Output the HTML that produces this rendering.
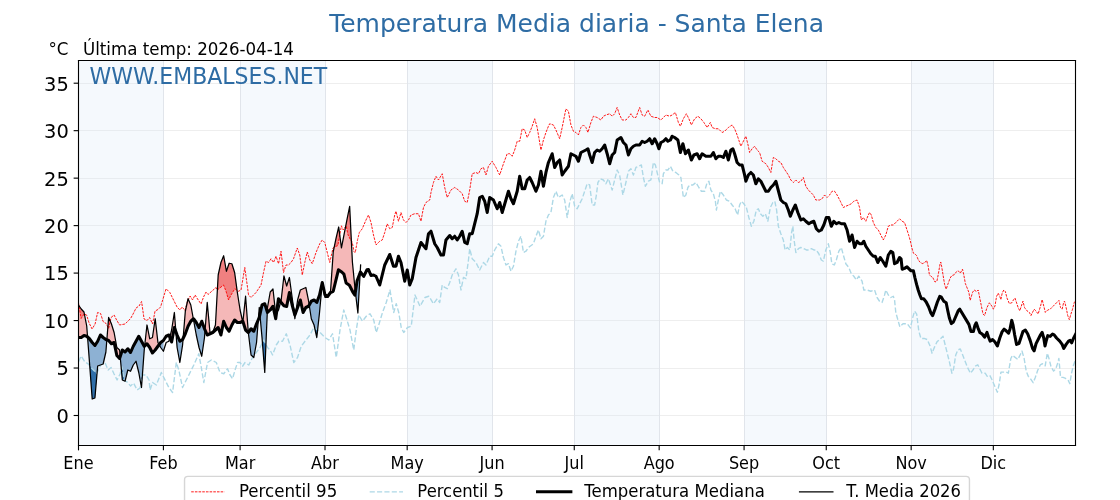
<!DOCTYPE html>
<html><head><meta charset="utf-8"><title>Temperatura Media diaria - Santa Elena</title>
<style>html,body{margin:0;padding:0;background:#fff;width:1120px;height:500px;overflow:hidden}svg{display:block}
text{font-family:"DejaVu Sans","Liberation Sans",sans-serif}</style></head>
<body>
<svg width="1120" height="500" viewBox="0 0 806.4 360" version="1.1">
 
 <defs>
  <style type="text/css">*{stroke-linejoin: round; stroke-linecap: butt}</style>
 </defs>
 <g id="figure_1">
  <g id="patch_1">
   <path d="M 0 360 
L 806.4 360 
L 806.4 0 
L 0 0 
z
" style="fill: #ffffff"/>
  </g>
  <g id="axes_1">
   <g id="patch_2">
    <path d="M 56.52 320.76 
L 774.36 320.76 
L 774.36 43.56 
L 56.52 43.56 
z
" style="fill: #ffffff"/>
   </g>
   <g id="line2d_1">
    <path d="M 56.52 299.16 
L 774.36 299.16 
" clip-path="url(#p9fedf73bd1)" style="fill: none; stroke: #eeeeee; stroke-width: 0.72; stroke-linecap: square"/>
   </g>
   <g id="line2d_2">
    <path d="M 56.52 265.32 
L 774.36 265.32 
" clip-path="url(#p9fedf73bd1)" style="fill: none; stroke: #eeeeee; stroke-width: 0.72; stroke-linecap: square"/>
   </g>
   <g id="line2d_3">
    <path d="M 56.52 230.76 
L 774.36 230.76 
" clip-path="url(#p9fedf73bd1)" style="fill: none; stroke: #eeeeee; stroke-width: 0.72; stroke-linecap: square"/>
   </g>
   <g id="line2d_4">
    <path d="M 56.52 196.92 
L 774.36 196.92 
" clip-path="url(#p9fedf73bd1)" style="fill: none; stroke: #eeeeee; stroke-width: 0.72; stroke-linecap: square"/>
   </g>
   <g id="line2d_5">
    <path d="M 56.52 162.36 
L 774.36 162.36 
" clip-path="url(#p9fedf73bd1)" style="fill: none; stroke: #eeeeee; stroke-width: 0.72; stroke-linecap: square"/>
   </g>
   <g id="line2d_6">
    <path d="M 56.52 128.52 
L 774.36 128.52 
" clip-path="url(#p9fedf73bd1)" style="fill: none; stroke: #eeeeee; stroke-width: 0.72; stroke-linecap: square"/>
   </g>
   <g id="line2d_7">
    <path d="M 56.52 93.96 
L 774.36 93.96 
" clip-path="url(#p9fedf73bd1)" style="fill: none; stroke: #eeeeee; stroke-width: 0.72; stroke-linecap: square"/>
   </g>
   <g id="line2d_8">
    <path d="M 56.52 60.12 
L 774.36 60.12 
" clip-path="url(#p9fedf73bd1)" style="fill: none; stroke: #eeeeee; stroke-width: 0.72; stroke-linecap: square"/>
   </g>
   <g id="patch_3">
    <path d="M 56.52 320.76 
L 117.654725 320.76 
L 117.654725 43.56 
L 56.52 43.56 
z
" clip-path="url(#p9fedf73bd1)" style="fill: #d4e6f7; opacity: 0.235"/>
   </g>
   <g id="patch_4">
    <path d="M 172.873187 320.76 
L 234.007912 320.76 
L 234.007912 43.56 
L 172.873187 43.56 
z
" clip-path="url(#p9fedf73bd1)" style="fill: #d4e6f7; opacity: 0.235"/>
   </g>
   <g id="patch_5">
    <path d="M 293.170549 320.76 
L 354.305275 320.76 
L 354.305275 43.56 
L 293.170549 43.56 
z
" clip-path="url(#p9fedf73bd1)" style="fill: #d4e6f7; opacity: 0.235"/>
   </g>
   <g id="patch_6">
    <path d="M 413.467912 320.76 
L 474.602637 320.76 
L 474.602637 43.56 
L 413.467912 43.56 
z
" clip-path="url(#p9fedf73bd1)" style="fill: #d4e6f7; opacity: 0.235"/>
   </g>
   <g id="patch_7">
    <path d="M 535.737363 320.76 
L 594.9 320.76 
L 594.9 43.56 
L 535.737363 43.56 
z
" clip-path="url(#p9fedf73bd1)" style="fill: #d4e6f7; opacity: 0.235"/>
   </g>
   <g id="patch_8">
    <path d="M 656.034725 320.76 
L 715.197363 320.76 
L 715.197363 43.56 
L 656.034725 43.56 
z
" clip-path="url(#p9fedf73bd1)" style="fill: #d4e6f7; opacity: 0.235"/>
   </g>
   <g id="line2d_9">
    <path d="M 117.72 320.76 
L 117.72 43.56 
" clip-path="url(#p9fedf73bd1)" style="fill: none; stroke: #e1e5eb; stroke-width: 0.72; stroke-linecap: square"/>
   </g>
   <g id="line2d_10">
    <path d="M 173.16 320.76 
L 173.16 43.56 
" clip-path="url(#p9fedf73bd1)" style="fill: none; stroke: #e1e5eb; stroke-width: 0.72; stroke-linecap: square"/>
   </g>
   <g id="line2d_11">
    <path d="M 234.36 320.76 
L 234.36 43.56 
" clip-path="url(#p9fedf73bd1)" style="fill: none; stroke: #e1e5eb; stroke-width: 0.72; stroke-linecap: square"/>
   </g>
   <g id="line2d_12">
    <path d="M 293.4 320.76 
L 293.4 43.56 
" clip-path="url(#p9fedf73bd1)" style="fill: none; stroke: #e1e5eb; stroke-width: 0.72; stroke-linecap: square"/>
   </g>
   <g id="line2d_13">
    <path d="M 354.6 320.76 
L 354.6 43.56 
" clip-path="url(#p9fedf73bd1)" style="fill: none; stroke: #e1e5eb; stroke-width: 0.72; stroke-linecap: square"/>
   </g>
   <g id="line2d_14">
    <path d="M 413.64 320.76 
L 413.64 43.56 
" clip-path="url(#p9fedf73bd1)" style="fill: none; stroke: #e1e5eb; stroke-width: 0.72; stroke-linecap: square"/>
   </g>
   <g id="line2d_15">
    <path d="M 474.84 320.76 
L 474.84 43.56 
" clip-path="url(#p9fedf73bd1)" style="fill: none; stroke: #e1e5eb; stroke-width: 0.72; stroke-linecap: square"/>
   </g>
   <g id="line2d_16">
    <path d="M 536.04 320.76 
L 536.04 43.56 
" clip-path="url(#p9fedf73bd1)" style="fill: none; stroke: #e1e5eb; stroke-width: 0.72; stroke-linecap: square"/>
   </g>
   <g id="line2d_17">
    <path d="M 595.08 320.76 
L 595.08 43.56 
" clip-path="url(#p9fedf73bd1)" style="fill: none; stroke: #e1e5eb; stroke-width: 0.72; stroke-linecap: square"/>
   </g>
   <g id="line2d_18">
    <path d="M 656.28 320.76 
L 656.28 43.56 
" clip-path="url(#p9fedf73bd1)" style="fill: none; stroke: #e1e5eb; stroke-width: 0.72; stroke-linecap: square"/>
   </g>
   <g id="line2d_19">
    <path d="M 715.32 320.76 
L 715.32 43.56 
" clip-path="url(#p9fedf73bd1)" style="fill: none; stroke: #e1e5eb; stroke-width: 0.72; stroke-linecap: square"/>
   </g>
   <g id="FillBetweenPolyCollection_1">
    <path d="M 56.52 242.99798 
L 56.52 242.99798 
L 56.618604 242.99798 
L 56.717209 242.99798 
L 56.815813 242.99798 
L 56.914418 242.99798 
L 57.013022 242.99798 
L 57.111626 242.99798 
L 57.210231 242.99798 
L 57.308835 242.99798 
L 57.40744 242.99798 
L 57.506044 242.99798 
L 57.604648 242.99798 
L 57.703253 242.99798 
L 57.801857 242.99798 
L 57.900462 242.99798 
L 57.999066 242.99798 
L 58.09767 242.99798 
L 58.196275 242.99798 
L 58.294879 242.99798 
L 58.393484 242.99798 
L 58.492088 242.99798 
L 58.492088 242.99798 
L 58.590692 242.925978 
L 58.689297 242.853976 
L 58.787901 242.781975 
L 58.886505 242.709973 
L 58.98511 242.637971 
L 59.083714 242.565969 
L 59.182319 242.493967 
L 59.280923 242.421965 
L 59.379527 242.349963 
L 59.478132 242.277962 
L 59.576736 242.20596 
L 59.675341 242.133958 
L 59.773945 242.061956 
L 59.872549 241.989954 
L 59.971154 241.917952 
L 60.069758 241.84595 
L 60.168363 241.773948 
L 60.266967 241.701947 
L 60.365571 241.629945 
L 60.464176 241.557943 
L 60.464176 241.557943 
L 60.56278 241.584944 
L 60.661385 241.611944 
L 60.759989 241.638945 
L 60.858593 241.665946 
L 60.957198 241.692946 
L 61.055802 241.719947 
L 61.154407 241.746948 
L 61.253011 241.773948 
L 61.351615 241.800949 
L 61.45022 241.82795 
L 61.548824 241.854951 
L 61.647429 241.881951 
L 61.746033 241.908952 
L 61.844637 241.935953 
L 61.943242 241.962953 
L 62.041846 241.989954 
L 62.140451 242.016955 
L 62.239055 242.043955 
L 62.337659 242.070956 
L 62.436264 242.097957 
L 62.436264 242.097957 
L 62.534868 242.187959 
L 62.633473 242.277962 
L 62.732077 242.367964 
L 62.830681 242.457966 
L 62.929286 242.547969 
L 63.02789 242.637971 
L 63.039664 242.648717 
L 63.02789 242.493967 
L 62.929286 241.197933 
L 62.830681 239.9019 
L 62.732077 238.605866 
L 62.633473 237.309832 
L 62.534868 236.013799 
L 62.436264 234.717765 
L 62.436264 234.717765 
L 62.337659 234.213752 
L 62.239055 233.709739 
L 62.140451 233.205726 
L 62.041846 232.701713 
L 61.943242 232.1977 
L 61.844637 231.693687 
L 61.746033 231.189673 
L 61.647429 230.68566 
L 61.548824 230.181647 
L 61.45022 229.677634 
L 61.351615 229.173621 
L 61.253011 228.669608 
L 61.154407 228.165595 
L 61.055802 227.661582 
L 60.957198 227.157569 
L 60.858593 226.653556 
L 60.759989 226.149543 
L 60.661385 225.645529 
L 60.56278 225.141516 
L 60.464176 224.637503 
L 60.464176 224.637503 
L 60.365571 224.529501 
L 60.266967 224.421498 
L 60.168363 224.313495 
L 60.069758 224.205492 
L 59.971154 224.097489 
L 59.872549 223.989486 
L 59.773945 223.881484 
L 59.675341 223.773481 
L 59.576736 223.665478 
L 59.478132 223.557475 
L 59.379527 223.449472 
L 59.280923 223.34147 
L 59.182319 223.233467 
L 59.083714 223.125464 
L 58.98511 223.017461 
L 58.886505 222.909458 
L 58.787901 222.801456 
L 58.689297 222.693453 
L 58.590692 222.58545 
L 58.492088 222.477447 
L 58.492088 222.477447 
L 58.393484 222.333443 
L 58.294879 222.18944 
L 58.196275 222.045436 
L 58.09767 221.901432 
L 57.999066 221.757429 
L 57.900462 221.613425 
L 57.801857 221.469421 
L 57.703253 221.325417 
L 57.604648 221.181414 
L 57.506044 221.03741 
L 57.40744 220.893406 
L 57.308835 220.749402 
L 57.210231 220.605399 
L 57.111626 220.461395 
L 57.013022 220.317391 
L 56.914418 220.173387 
L 56.815813 220.029384 
L 56.717209 219.88538 
L 56.618604 219.741376 
L 56.52 219.597372 
z
" clip-path="url(#p9fedf73bd1)" style="fill: #f5b8b8"/>
    <path d="M 76.935276 244.691545 
L 77.029714 244.726025 
L 77.128319 244.762026 
L 77.226923 244.798027 
L 77.325527 244.834028 
L 77.424132 244.870029 
L 77.522736 244.90603 
L 77.621341 244.942031 
L 77.719945 244.978032 
L 77.818549 245.014033 
L 77.917154 245.050034 
L 78.015758 245.086034 
L 78.114363 245.122035 
L 78.212967 245.158036 
L 78.311571 245.275039 
L 78.410176 245.392042 
L 78.50878 245.509045 
L 78.607385 245.626048 
L 78.705989 245.743052 
L 78.804593 245.860055 
L 78.903198 245.977058 
L 79.001802 246.094061 
L 79.100407 246.211064 
L 79.199011 246.328067 
L 79.297615 246.44507 
L 79.39622 246.562073 
L 79.494824 246.679076 
L 79.593429 246.796079 
L 79.692033 246.913082 
L 79.790637 247.030085 
L 79.889242 247.147088 
L 79.987846 247.264091 
L 80.086451 247.381094 
L 80.185055 247.498097 
L 80.185055 247.498097 
L 80.283659 247.453096 
L 80.382264 247.408095 
L 80.480868 247.363094 
L 80.579473 247.318092 
L 80.678077 247.273091 
L 80.776681 247.22809 
L 80.875286 247.183089 
L 80.97389 247.138088 
L 81.072495 247.093087 
L 81.171099 247.048085 
L 81.269703 247.003084 
L 81.368308 246.958083 
L 81.466912 246.913082 
L 81.565516 246.868081 
L 81.664121 246.82308 
L 81.762725 246.778078 
L 81.86133 246.733077 
L 81.959934 246.688076 
L 82.058538 246.643075 
L 82.157143 246.598074 
L 82.255747 247.066086 
L 82.354352 247.534098 
L 82.452956 248.00211 
L 82.55156 248.470122 
L 82.650165 248.938134 
L 82.748769 249.406147 
L 82.847374 249.874159 
L 82.945978 250.342171 
L 83.044582 250.810183 
L 83.143187 251.278195 
L 83.241791 251.746207 
L 83.340396 252.21422 
L 83.439 252.682232 
L 83.537604 253.150244 
L 83.636209 253.618256 
L 83.734813 254.086268 
L 83.833418 254.55428 
L 83.932022 255.022293 
L 84.030626 255.490305 
L 84.129231 255.958317 
L 84.129231 255.958317 
L 84.227835 256.06632 
L 84.32644 256.174322 
L 84.425044 256.282325 
L 84.523648 256.390328 
L 84.622253 256.498331 
L 84.720857 256.606334 
L 84.819462 256.714336 
L 84.918066 256.822339 
L 85.01667 256.930342 
L 85.115275 257.038345 
L 85.213879 257.146348 
L 85.312484 257.254351 
L 85.411088 257.362353 
L 85.509692 257.470356 
L 85.608297 257.578359 
L 85.706901 257.686362 
L 85.805505 257.794365 
L 85.90411 257.902367 
L 86.002714 258.01037 
L 86.101319 258.118373 
L 86.101319 258.118373 
L 86.199923 257.812365 
L 86.298527 257.506357 
L 86.397132 257.200349 
L 86.495736 256.894341 
L 86.536715 256.767169 
L 86.495736 256.318326 
L 86.397132 255.238298 
L 86.298527 254.15827 
L 86.199923 253.078242 
L 86.101319 251.998214 
L 86.101319 251.998214 
L 86.002714 251.908212 
L 85.90411 251.818209 
L 85.805505 251.728207 
L 85.706901 251.638205 
L 85.608297 251.548202 
L 85.509692 251.4582 
L 85.411088 251.368198 
L 85.312484 251.278195 
L 85.213879 251.188193 
L 85.115275 251.098191 
L 85.01667 251.008188 
L 84.918066 250.918186 
L 84.819462 250.828184 
L 84.720857 250.738181 
L 84.622253 250.648179 
L 84.523648 250.558177 
L 84.425044 250.468174 
L 84.32644 250.378172 
L 84.227835 250.28817 
L 84.129231 250.198167 
L 84.129231 250.198167 
L 84.030626 249.658153 
L 83.932022 249.118139 
L 83.833418 248.578125 
L 83.734813 248.038111 
L 83.636209 247.498097 
L 83.537604 246.958083 
L 83.439 246.418069 
L 83.340396 245.878055 
L 83.241791 245.338041 
L 83.143187 244.798027 
L 83.044582 244.258013 
L 82.945978 243.717999 
L 82.847374 243.177985 
L 82.748769 242.637971 
L 82.650165 242.097957 
L 82.55156 241.557943 
L 82.452956 241.017929 
L 82.354352 240.477915 
L 82.255747 239.937901 
L 82.157143 239.397887 
L 82.058538 239.082879 
L 81.959934 238.76787 
L 81.86133 238.452862 
L 81.762725 238.137854 
L 81.664121 237.822846 
L 81.565516 237.507838 
L 81.466912 237.192829 
L 81.368308 236.877821 
L 81.269703 236.562813 
L 81.171099 236.247805 
L 81.072495 235.932797 
L 80.97389 235.617789 
L 80.875286 235.30278 
L 80.776681 234.987772 
L 80.678077 234.672764 
L 80.579473 234.357756 
L 80.480868 234.042748 
L 80.382264 233.727739 
L 80.283659 233.412731 
L 80.185055 233.097723 
L 80.185055 233.097723 
L 80.086451 232.872717 
L 79.987846 232.647711 
L 79.889242 232.422706 
L 79.790637 232.1977 
L 79.692033 231.972694 
L 79.593429 231.747688 
L 79.494824 231.522682 
L 79.39622 231.297676 
L 79.297615 231.07267 
L 79.199011 230.847665 
L 79.100407 230.622659 
L 79.001802 230.397653 
L 78.903198 230.172647 
L 78.804593 229.947641 
L 78.705989 229.722635 
L 78.607385 229.49763 
L 78.50878 229.272624 
L 78.410176 229.047618 
L 78.311571 228.822612 
L 78.212967 228.597606 
L 78.114363 229.839638 
L 78.015758 231.081671 
L 77.917154 232.323703 
L 77.818549 233.565735 
L 77.719945 234.807767 
L 77.621341 236.0498 
L 77.522736 237.291832 
L 77.424132 238.533864 
L 77.325527 239.775897 
L 77.226923 241.017929 
L 77.128319 242.259961 
L 77.029714 243.501993 
z
" clip-path="url(#p9fedf73bd1)" style="fill: #f5b8b8"/>
    <path d="M 104.178791 248.998136 
L 104.244527 248.938134 
L 104.343132 248.848132 
L 104.441736 248.75813 
L 104.540341 248.668127 
L 104.638945 248.578125 
L 104.737549 248.488123 
L 104.836154 248.39812 
L 104.934758 248.308118 
L 105.033363 248.218116 
L 105.131967 248.128113 
L 105.230571 248.038111 
L 105.329176 247.948109 
L 105.42778 247.858106 
L 105.526385 247.768104 
L 105.624989 247.678102 
L 105.723593 247.588099 
L 105.822198 247.498097 
L 105.822198 247.498097 
L 105.920802 247.633101 
L 106.019407 247.768104 
L 106.118011 247.903108 
L 106.216615 248.038111 
L 106.31522 248.173115 
L 106.413824 248.308118 
L 106.512429 248.443122 
L 106.611033 248.578125 
L 106.709637 248.713129 
L 106.808242 248.848132 
L 106.906846 248.983136 
L 107.005451 249.118139 
L 107.104055 249.253143 
L 107.202659 249.388146 
L 107.301264 249.52315 
L 107.399868 249.658153 
L 107.498473 249.793157 
L 107.597077 249.92816 
L 107.695681 250.063164 
L 107.794286 250.198167 
L 107.89289 250.396172 
L 107.991495 250.594178 
L 108.090099 250.792183 
L 108.188703 250.990188 
L 108.287308 251.188193 
L 108.385912 251.386198 
L 108.484516 251.584203 
L 108.583121 251.782208 
L 108.681725 251.980214 
L 108.78033 252.178219 
L 108.878934 252.376224 
L 108.977538 252.574229 
L 109.076143 252.772234 
L 109.174747 252.970239 
L 109.273352 253.168244 
L 109.371956 253.36625 
L 109.47056 253.564255 
L 109.569165 253.76226 
L 109.667769 253.960265 
L 109.766374 254.15827 
L 109.766374 254.15827 
L 109.864978 254.050267 
L 109.963582 253.942264 
L 110.062187 253.834262 
L 110.160791 253.726259 
L 110.259396 253.618256 
L 110.358 253.510253 
L 110.456604 253.40225 
L 110.555209 253.294248 
L 110.653813 253.186245 
L 110.752418 253.078242 
L 110.851022 252.970239 
L 110.949626 252.862236 
L 111.048231 252.754234 
L 111.146835 252.646231 
L 111.24544 252.538228 
L 111.344044 252.430225 
L 111.442648 252.322222 
L 111.541253 252.21422 
L 111.639857 252.106217 
L 111.738462 251.998214 
L 111.738462 251.998214 
L 111.837066 251.86321 
L 111.93567 251.728207 
L 112.034275 251.593203 
L 112.132879 251.4582 
L 112.231484 251.323196 
L 112.330088 251.188193 
L 112.428692 251.053189 
L 112.527297 250.918186 
L 112.625901 250.783182 
L 112.724505 250.648179 
L 112.82311 250.513175 
L 112.921714 250.378172 
L 113.020319 250.243168 
L 113.118923 250.108165 
L 113.217527 249.973161 
L 113.316132 249.838158 
L 113.414736 249.703154 
L 113.513341 249.568151 
L 113.611945 249.433147 
L 113.710549 249.298144 
L 113.809154 249.16314 
L 113.907758 249.028137 
L 114.006363 248.893133 
L 114.104967 248.75813 
L 114.203571 248.623126 
L 114.302176 248.488123 
L 114.40078 248.353119 
L 114.499385 248.218116 
L 114.55573 248.140971 
L 114.499385 248.038111 
L 114.40078 247.858106 
L 114.302176 247.678102 
L 114.203571 247.498097 
L 114.104967 247.318092 
L 114.006363 247.138088 
L 113.907758 246.958083 
L 113.809154 246.778078 
L 113.710549 246.598074 
L 113.611945 245.743052 
L 113.513341 244.888029 
L 113.414736 244.033007 
L 113.316132 243.177985 
L 113.217527 242.322963 
L 113.118923 241.46794 
L 113.020319 240.612918 
L 112.921714 239.757896 
L 112.82311 238.902874 
L 112.724505 238.047852 
L 112.625901 237.192829 
L 112.527297 236.337807 
L 112.428692 235.482785 
L 112.330088 234.627763 
L 112.231484 233.772741 
L 112.132879 232.917718 
L 112.034275 232.062696 
L 111.93567 231.207674 
L 111.837066 230.352652 
L 111.738462 229.49763 
L 111.738462 229.49763 
L 111.639857 230.172647 
L 111.541253 230.847665 
L 111.442648 231.522682 
L 111.344044 232.1977 
L 111.24544 232.872717 
L 111.146835 233.547735 
L 111.048231 234.222752 
L 110.949626 234.89777 
L 110.851022 235.572787 
L 110.752418 236.247805 
L 110.653813 236.922822 
L 110.555209 237.59784 
L 110.456604 238.272857 
L 110.358 238.947875 
L 110.259396 239.622893 
L 110.160791 240.29791 
L 110.062187 240.972928 
L 109.963582 241.647945 
L 109.864978 242.322963 
L 109.766374 242.99798 
L 109.766374 242.99798 
L 109.667769 243.042981 
L 109.569165 243.087983 
L 109.47056 243.132984 
L 109.371956 243.177985 
L 109.273352 243.222986 
L 109.174747 243.267987 
L 109.076143 243.312988 
L 108.977538 243.35799 
L 108.878934 243.402991 
L 108.78033 243.447992 
L 108.681725 243.492993 
L 108.583121 243.537994 
L 108.484516 243.582995 
L 108.385912 243.627997 
L 108.287308 243.672998 
L 108.188703 243.717999 
L 108.090099 243.763 
L 107.991495 243.808001 
L 107.89289 243.853002 
L 107.794286 243.898004 
L 107.695681 243.402991 
L 107.597077 242.907978 
L 107.498473 242.412965 
L 107.399868 241.917952 
L 107.301264 241.422939 
L 107.202659 240.927926 
L 107.104055 240.432914 
L 107.005451 239.937901 
L 106.906846 239.442888 
L 106.808242 238.947875 
L 106.709637 238.452862 
L 106.611033 237.957849 
L 106.512429 237.462836 
L 106.413824 236.967824 
L 106.31522 236.472811 
L 106.216615 235.977798 
L 106.118011 235.482785 
L 106.019407 234.987772 
L 105.920802 234.492759 
L 105.822198 233.997746 
L 105.822198 233.997746 
L 105.723593 234.89777 
L 105.624989 235.797793 
L 105.526385 236.697817 
L 105.42778 237.59784 
L 105.329176 238.497863 
L 105.230571 239.397887 
L 105.131967 240.29791 
L 105.033363 241.197933 
L 104.934758 242.097957 
L 104.836154 242.99798 
L 104.737549 243.898004 
L 104.638945 244.798027 
L 104.540341 245.69805 
L 104.441736 246.598074 
L 104.343132 247.498097 
L 104.244527 248.39812 
z
" clip-path="url(#p9fedf73bd1)" style="fill: #f5b8b8"/>
    <path d="M 122.274274 242.924006 
L 122.289132 242.961979 
L 122.387736 243.213986 
L 122.486341 243.465992 
L 122.584945 243.717999 
L 122.683549 243.970005 
L 122.782154 244.222012 
L 122.880758 244.474019 
L 122.979363 244.726025 
L 123.077967 244.978032 
L 123.176571 245.230038 
L 123.275176 245.482045 
L 123.37378 245.734051 
L 123.472385 245.986058 
L 123.570989 246.238064 
L 123.570989 246.238064 
L 123.669593 245.716051 
L 123.768198 245.194037 
L 123.866802 244.672024 
L 123.965407 244.15001 
L 124.064011 243.627997 
L 124.162615 243.105983 
L 124.26122 242.583969 
L 124.359824 242.061956 
L 124.458429 241.539942 
L 124.557033 241.017929 
L 124.655637 240.495915 
L 124.754242 239.973902 
L 124.852846 239.451888 
L 124.951451 238.929875 
L 125.050055 238.407861 
L 125.148659 237.885847 
L 125.247264 237.363834 
L 125.345868 236.84182 
L 125.444473 236.319807 
L 125.543077 235.797793 
L 125.641681 236.0678 
L 125.740286 236.337807 
L 125.83889 236.607814 
L 125.937495 236.877821 
L 126.036099 237.147828 
L 126.134703 237.417835 
L 126.233308 237.687842 
L 126.331912 237.957849 
L 126.430516 238.227856 
L 126.529121 238.497863 
L 126.618761 238.743324 
L 126.529121 237.59784 
L 126.430516 236.337807 
L 126.331912 235.077774 
L 126.233308 233.817742 
L 126.134703 232.557709 
L 126.036099 231.297676 
L 125.937495 230.037644 
L 125.83889 228.777611 
L 125.740286 227.517578 
L 125.641681 226.257545 
L 125.543077 224.997513 
L 125.444473 225.627529 
L 125.345868 226.257545 
L 125.247264 226.887562 
L 125.148659 227.517578 
L 125.050055 228.147594 
L 124.951451 228.777611 
L 124.852846 229.407627 
L 124.754242 230.037644 
L 124.655637 230.66766 
L 124.557033 231.297676 
L 124.458429 231.927693 
L 124.359824 232.557709 
L 124.26122 233.187725 
L 124.162615 233.817742 
L 124.064011 234.447758 
L 123.965407 235.077774 
L 123.866802 235.707791 
L 123.768198 236.337807 
L 123.669593 236.967824 
L 123.570989 237.59784 
L 123.570989 237.59784 
L 123.472385 238.00285 
L 123.37378 238.407861 
L 123.275176 238.812872 
L 123.176571 239.217882 
L 123.077967 239.622893 
L 122.979363 240.027903 
L 122.880758 240.432914 
L 122.782154 240.837924 
L 122.683549 241.242935 
L 122.584945 241.647945 
L 122.486341 242.052956 
L 122.387736 242.457966 
L 122.289132 242.862977 
z
" clip-path="url(#p9fedf73bd1)" style="fill: #f5b8b8"/>
    <path d="M 131.846715 243.624782 
L 131.853758 243.609996 
L 131.952363 243.402991 
L 132.050967 243.195985 
L 132.149571 242.98898 
L 132.248176 242.781975 
L 132.34678 242.574969 
L 132.445385 242.367964 
L 132.543989 242.160958 
L 132.642593 241.953953 
L 132.741198 241.746948 
L 132.839802 241.539942 
L 132.938407 241.332937 
L 133.037011 241.125932 
L 133.135615 240.918926 
L 133.23422 240.711921 
L 133.332824 240.504915 
L 133.431429 240.29791 
L 133.530033 240.027903 
L 133.628637 239.757896 
L 133.727242 239.487889 
L 133.825846 239.217882 
L 133.924451 238.947875 
L 134.023055 238.677868 
L 134.121659 238.407861 
L 134.220264 238.137854 
L 134.318868 237.867847 
L 134.417473 237.59784 
L 134.516077 237.327833 
L 134.614681 237.057826 
L 134.713286 236.787819 
L 134.81189 236.517812 
L 134.910495 236.247805 
L 135.009099 235.977798 
L 135.107703 235.707791 
L 135.206308 235.437784 
L 135.304912 235.167777 
L 135.403516 234.89777 
L 135.403516 234.89777 
L 135.502121 234.717765 
L 135.600725 234.53776 
L 135.69933 234.357756 
L 135.797934 234.177751 
L 135.896538 233.997746 
L 135.995143 233.817742 
L 136.093747 233.637737 
L 136.192352 233.457732 
L 136.290956 233.277728 
L 136.38956 233.097723 
L 136.488165 232.917718 
L 136.586769 232.737714 
L 136.685374 232.557709 
L 136.783978 232.377704 
L 136.882582 232.1977 
L 136.981187 232.017695 
L 137.079791 231.83769 
L 137.178396 231.657686 
L 137.277 231.477681 
L 137.375604 231.297676 
L 137.474209 231.207674 
L 137.572813 231.117672 
L 137.671418 231.027669 
L 137.770022 230.937667 
L 137.868626 230.847665 
L 137.967231 230.757662 
L 138.065835 230.66766 
L 138.16444 230.577658 
L 138.263044 230.487655 
L 138.361648 230.397653 
L 138.460253 230.307651 
L 138.558857 230.217648 
L 138.657462 230.127646 
L 138.756066 230.037644 
L 138.85467 229.947641 
L 138.953275 229.857639 
L 139.051879 229.767637 
L 139.150484 229.677634 
L 139.206829 229.626204 
L 139.150484 229.317625 
L 139.051879 228.777611 
L 138.953275 228.237597 
L 138.85467 227.697583 
L 138.756066 227.157569 
L 138.657462 226.617555 
L 138.558857 226.077541 
L 138.460253 225.537527 
L 138.361648 224.997513 
L 138.263044 224.457499 
L 138.16444 223.917485 
L 138.065835 223.377471 
L 137.967231 222.837457 
L 137.868626 222.297443 
L 137.770022 221.757429 
L 137.671418 221.217414 
L 137.572813 220.6774 
L 137.474209 220.137386 
L 137.375604 219.597372 
L 137.277 219.372367 
L 137.178396 219.147361 
L 137.079791 218.922355 
L 136.981187 218.697349 
L 136.882582 218.472343 
L 136.783978 218.247337 
L 136.685374 218.022331 
L 136.586769 217.797326 
L 136.488165 217.57232 
L 136.38956 217.347314 
L 136.290956 217.122308 
L 136.192352 216.897302 
L 136.093747 216.672296 
L 135.995143 216.447291 
L 135.896538 216.222285 
L 135.797934 215.997279 
L 135.69933 215.772273 
L 135.600725 215.547267 
L 135.502121 215.322261 
L 135.403516 215.097256 
L 135.403516 215.097256 
L 135.304912 215.547267 
L 135.206308 215.997279 
L 135.107703 216.447291 
L 135.009099 216.897302 
L 134.910495 217.347314 
L 134.81189 217.797326 
L 134.713286 218.247337 
L 134.614681 218.697349 
L 134.516077 219.147361 
L 134.417473 219.597372 
L 134.318868 220.047384 
L 134.220264 220.497396 
L 134.121659 220.947407 
L 134.023055 221.397419 
L 133.924451 221.847431 
L 133.825846 222.297443 
L 133.727242 222.747454 
L 133.628637 223.197466 
L 133.530033 223.647478 
L 133.431429 224.097489 
L 133.332824 225.312521 
L 133.23422 226.527552 
L 133.135615 227.742584 
L 133.037011 228.957616 
L 132.938407 230.172647 
L 132.839802 231.387679 
L 132.741198 232.60271 
L 132.642593 233.817742 
L 132.543989 235.032773 
L 132.445385 236.247805 
L 132.34678 237.462836 
L 132.248176 238.677868 
L 132.149571 239.8929 
L 132.050967 241.107931 
L 131.952363 242.322963 
L 131.853758 243.537994 
z
" clip-path="url(#p9fedf73bd1)" style="fill: #f5b8b8"/>
    <path d="M 147.654366 237.652387 
L 147.729066 237.822846 
L 147.82767 238.047852 
L 147.926275 238.272857 
L 148.024879 238.497863 
L 148.123484 238.722869 
L 148.222088 238.947875 
L 148.320692 239.172881 
L 148.419297 239.397887 
L 148.517901 239.622893 
L 148.616505 239.847898 
L 148.71511 240.072904 
L 148.813714 240.29791 
L 148.912319 240.522916 
L 149.010923 240.747922 
L 149.109527 240.972928 
L 149.208132 241.197933 
L 149.306736 241.152932 
L 149.405341 241.107931 
L 149.503945 241.06293 
L 149.602549 241.017929 
L 149.701154 240.972928 
L 149.799758 240.927926 
L 149.898363 240.882925 
L 149.996967 240.837924 
L 150.095571 240.792923 
L 150.194176 240.747922 
L 150.29278 240.702921 
L 150.391385 240.657919 
L 150.489989 240.612918 
L 150.588593 240.567917 
L 150.687198 240.522916 
L 150.785802 240.477915 
L 150.884407 240.432914 
L 150.983011 240.387912 
L 151.081615 240.342911 
L 151.18022 240.29791 
L 151.278824 240.252909 
L 151.377429 240.207908 
L 151.476033 240.162907 
L 151.574637 240.117905 
L 151.673242 240.072904 
L 151.771846 240.027903 
L 151.870451 239.982902 
L 151.969055 239.937901 
L 152.067659 239.8929 
L 152.166264 239.847898 
L 152.264868 239.802897 
L 152.363473 239.757896 
L 152.462077 239.712895 
L 152.560681 239.667894 
L 152.659286 239.622893 
L 152.75789 239.577891 
L 152.856495 239.53289 
L 152.955099 239.487889 
L 153.053703 239.442888 
L 153.152308 239.397887 
L 153.250912 239.307884 
L 153.349516 239.217882 
L 153.448121 239.12788 
L 153.546725 239.037877 
L 153.64533 238.947875 
L 153.743934 238.857873 
L 153.842538 238.76787 
L 153.941143 238.677868 
L 154.039747 238.587866 
L 154.138352 238.497863 
L 154.236956 238.407861 
L 154.33556 238.317859 
L 154.434165 238.227856 
L 154.532769 238.137854 
L 154.631374 238.047852 
L 154.729978 237.957849 
L 154.828582 237.867847 
L 154.927187 237.777845 
L 155.025791 237.687842 
L 155.124396 237.59784 
L 155.124396 237.59784 
L 155.223 237.507838 
L 155.321604 237.417835 
L 155.420209 237.327833 
L 155.518813 237.237831 
L 155.617418 237.147828 
L 155.716022 237.057826 
L 155.814626 236.967824 
L 155.913231 236.877821 
L 156.011835 236.787819 
L 156.11044 236.697817 
L 156.209044 236.607814 
L 156.307648 236.517812 
L 156.406253 236.42781 
L 156.504857 236.337807 
L 156.603462 236.247805 
L 156.702066 236.157803 
L 156.80067 236.0678 
L 156.899275 235.977798 
L 156.997879 235.887796 
L 157.096484 235.797793 
L 157.195088 236.0678 
L 157.293692 236.337807 
L 157.392297 236.607814 
L 157.490901 236.877821 
L 157.589505 237.147828 
L 157.68811 237.417835 
L 157.786714 237.687842 
L 157.885319 237.957849 
L 157.983923 238.227856 
L 158.082527 238.497863 
L 158.181132 238.76787 
L 158.279736 239.037877 
L 158.378341 239.307884 
L 158.476945 239.577891 
L 158.575549 239.847898 
L 158.674154 240.117905 
L 158.772758 240.387912 
L 158.871363 240.657919 
L 158.969967 240.927926 
L 159.068571 241.197933 
L 159.167176 240.702921 
L 159.26578 240.207908 
L 159.364385 239.712895 
L 159.462989 239.217882 
L 159.561593 238.722869 
L 159.660198 238.227856 
L 159.758802 237.732843 
L 159.857407 237.237831 
L 159.956011 236.742818 
L 160.054615 236.247805 
L 160.15322 235.752792 
L 160.251824 235.257779 
L 160.350429 234.762766 
L 160.449033 234.267753 
L 160.547637 233.772741 
L 160.646242 233.277728 
L 160.744846 232.782715 
L 160.843451 232.287702 
L 160.942055 231.792689 
L 161.040659 231.297676 
L 161.040659 231.297676 
L 161.139264 231.522682 
L 161.237868 231.747688 
L 161.336473 231.972694 
L 161.435077 232.1977 
L 161.533681 232.422706 
L 161.632286 232.647711 
L 161.73089 232.872717 
L 161.829495 233.097723 
L 161.928099 233.322729 
L 162.026703 233.547735 
L 162.125308 233.772741 
L 162.223912 233.997746 
L 162.322516 234.222752 
L 162.421121 234.447758 
L 162.519725 234.672764 
L 162.61833 234.89777 
L 162.716934 235.122776 
L 162.815538 235.347782 
L 162.914143 235.572787 
L 163.012747 235.797793 
L 163.111352 235.932797 
L 163.209956 236.0678 
L 163.30856 236.202804 
L 163.407165 236.337807 
L 163.505769 236.472811 
L 163.604374 236.607814 
L 163.702978 236.742818 
L 163.801582 236.877821 
L 163.900187 237.012825 
L 163.998791 237.147828 
L 164.097396 237.282832 
L 164.196 237.417835 
L 164.294604 237.552839 
L 164.393209 237.687842 
L 164.491813 237.822846 
L 164.590418 237.957849 
L 164.689022 238.092853 
L 164.787626 238.227856 
L 164.886231 238.36286 
L 164.984835 238.497863 
L 165.08344 238.272857 
L 165.182044 238.047852 
L 165.280648 237.822846 
L 165.379253 237.59784 
L 165.477857 237.372834 
L 165.576462 237.147828 
L 165.675066 236.922822 
L 165.77367 236.697817 
L 165.872275 236.472811 
L 165.970879 236.247805 
L 166.069484 236.022799 
L 166.168088 235.797793 
L 166.266692 235.572787 
L 166.365297 235.347782 
L 166.463901 235.122776 
L 166.562505 234.89777 
L 166.66111 234.672764 
L 166.759714 234.447758 
L 166.858319 234.222752 
L 166.956923 233.997746 
L 166.956923 233.997746 
L 167.055527 233.817742 
L 167.154132 233.637737 
L 167.252736 233.457732 
L 167.351341 233.277728 
L 167.449945 233.097723 
L 167.548549 232.917718 
L 167.647154 232.737714 
L 167.745758 232.557709 
L 167.844363 232.377704 
L 167.942967 232.1977 
L 168.041571 232.017695 
L 168.140176 231.83769 
L 168.23878 231.657686 
L 168.337385 231.477681 
L 168.435989 231.297676 
L 168.534593 231.117672 
L 168.633198 230.937667 
L 168.731802 230.757662 
L 168.830407 230.577658 
L 168.929011 230.397653 
L 169.027615 230.487655 
L 169.12622 230.577658 
L 169.224824 230.66766 
L 169.323429 230.757662 
L 169.422033 230.847665 
L 169.520637 230.937667 
L 169.619242 231.027669 
L 169.717846 231.117672 
L 169.816451 231.207674 
L 169.915055 231.297676 
L 170.013659 231.387679 
L 170.112264 231.477681 
L 170.210868 231.567683 
L 170.309473 231.657686 
L 170.408077 231.747688 
L 170.506681 231.83769 
L 170.605286 231.927693 
L 170.70389 232.017695 
L 170.802495 232.107697 
L 170.901099 232.1977 
L 170.999703 232.1977 
L 171.098308 232.1977 
L 171.196912 232.1977 
L 171.295516 232.1977 
L 171.394121 232.1977 
L 171.492725 232.1977 
L 171.59133 232.1977 
L 171.689934 232.1977 
L 171.788538 232.1977 
L 171.887143 232.1977 
L 171.985747 232.1977 
L 172.084352 232.1977 
L 172.182956 232.1977 
L 172.28156 232.1977 
L 172.380165 232.1977 
L 172.478769 232.1977 
L 172.577374 232.1977 
L 172.675978 232.1977 
L 172.774582 232.1977 
L 172.873187 232.1977 
L 172.873187 232.1977 
L 172.971791 232.152699 
L 173.070396 232.107697 
L 173.169 232.062696 
L 173.267604 232.017695 
L 173.366209 231.972694 
L 173.464813 231.927693 
L 173.563418 231.882691 
L 173.662022 231.83769 
L 173.760626 231.792689 
L 173.859231 231.747688 
L 173.957835 231.702687 
L 174.05644 231.657686 
L 174.155044 231.612684 
L 174.253648 231.567683 
L 174.352253 231.522682 
L 174.450857 231.477681 
L 174.549462 231.43268 
L 174.648066 231.387679 
L 174.665994 231.379497 
L 174.648066 231.297676 
L 174.549462 230.847665 
L 174.450857 230.397653 
L 174.352253 229.947641 
L 174.253648 229.49763 
L 174.155044 229.047618 
L 174.05644 228.597606 
L 173.957835 228.147594 
L 173.859231 227.697583 
L 173.760626 227.247571 
L 173.662022 226.797559 
L 173.563418 226.347548 
L 173.464813 225.897536 
L 173.366209 225.447524 
L 173.267604 224.997513 
L 173.169 224.547501 
L 173.070396 224.097489 
L 172.971791 223.647478 
L 172.873187 223.197466 
L 172.873187 223.197466 
L 172.774582 222.56745 
L 172.675978 221.937433 
L 172.577374 221.307417 
L 172.478769 220.6774 
L 172.380165 220.047384 
L 172.28156 219.417368 
L 172.182956 218.787351 
L 172.084352 218.157335 
L 171.985747 217.527319 
L 171.887143 216.897302 
L 171.788538 216.267286 
L 171.689934 215.63727 
L 171.59133 215.007253 
L 171.492725 214.377237 
L 171.394121 213.74722 
L 171.295516 213.117204 
L 171.196912 212.487188 
L 171.098308 211.857171 
L 170.999703 211.227155 
L 170.901099 210.597139 
L 170.802495 209.87712 
L 170.70389 209.157101 
L 170.605286 208.437083 
L 170.506681 207.717064 
L 170.408077 206.997045 
L 170.309473 206.277026 
L 170.210868 205.557008 
L 170.112264 204.836989 
L 170.013659 204.11697 
L 169.915055 203.396952 
L 169.816451 202.676933 
L 169.717846 201.956914 
L 169.619242 201.236896 
L 169.520637 200.516877 
L 169.422033 199.796858 
L 169.323429 199.076839 
L 169.224824 198.356821 
L 169.12622 197.636802 
L 169.027615 196.916783 
L 168.929011 196.196765 
L 168.830407 195.881756 
L 168.731802 195.566748 
L 168.633198 195.25174 
L 168.534593 194.936732 
L 168.435989 194.621724 
L 168.337385 194.306715 
L 168.23878 193.991707 
L 168.140176 193.676699 
L 168.041571 193.361691 
L 167.942967 193.046683 
L 167.844363 192.731675 
L 167.745758 192.416666 
L 167.647154 192.101658 
L 167.548549 191.78665 
L 167.449945 191.471642 
L 167.351341 191.156634 
L 167.252736 190.841625 
L 167.154132 190.526617 
L 167.055527 190.211609 
L 166.956923 189.896601 
L 166.956923 189.896601 
L 166.858319 189.8786 
L 166.759714 189.8606 
L 166.66111 189.8426 
L 166.562505 189.824599 
L 166.463901 189.806599 
L 166.365297 189.788598 
L 166.266692 189.770598 
L 166.168088 189.752597 
L 166.069484 189.734597 
L 165.970879 189.716596 
L 165.872275 189.698596 
L 165.77367 189.680595 
L 165.675066 189.662595 
L 165.576462 189.644594 
L 165.477857 189.626594 
L 165.379253 189.608593 
L 165.280648 189.590593 
L 165.182044 189.572593 
L 165.08344 189.554592 
L 164.984835 189.536592 
L 164.886231 189.824599 
L 164.787626 190.112607 
L 164.689022 190.400614 
L 164.590418 190.688622 
L 164.491813 190.976629 
L 164.393209 191.264636 
L 164.294604 191.552644 
L 164.196 191.840651 
L 164.097396 192.128659 
L 163.998791 192.416666 
L 163.900187 192.704674 
L 163.801582 192.992681 
L 163.702978 193.280689 
L 163.604374 193.568696 
L 163.505769 193.856704 
L 163.407165 194.144711 
L 163.30856 194.432719 
L 163.209956 194.720726 
L 163.111352 195.008734 
L 163.012747 195.296741 
L 162.914143 194.738727 
L 162.815538 194.180712 
L 162.716934 193.622698 
L 162.61833 193.064683 
L 162.519725 192.506669 
L 162.421121 191.948654 
L 162.322516 191.39064 
L 162.223912 190.832625 
L 162.125308 190.274611 
L 162.026703 189.716596 
L 161.928099 189.158582 
L 161.829495 188.600567 
L 161.73089 188.042553 
L 161.632286 187.484538 
L 161.533681 186.926524 
L 161.435077 186.368509 
L 161.336473 185.810495 
L 161.237868 185.25248 
L 161.139264 184.694466 
L 161.040659 184.136451 
L 161.040659 184.136451 
L 160.942055 184.379458 
L 160.843451 184.622464 
L 160.744846 184.86547 
L 160.646242 185.108477 
L 160.547637 185.351483 
L 160.449033 185.594489 
L 160.350429 185.837496 
L 160.251824 186.080502 
L 160.15322 186.323508 
L 160.054615 186.566514 
L 159.956011 186.809521 
L 159.857407 187.052527 
L 159.758802 187.295533 
L 159.660198 187.53854 
L 159.561593 187.781546 
L 159.462989 188.024552 
L 159.364385 188.267559 
L 159.26578 188.510565 
L 159.167176 188.753571 
L 159.068571 188.996578 
L 158.969967 189.446589 
L 158.871363 189.896601 
L 158.772758 190.346613 
L 158.674154 190.796624 
L 158.575549 191.246636 
L 158.476945 191.696648 
L 158.378341 192.146659 
L 158.279736 192.596671 
L 158.181132 193.046683 
L 158.082527 193.496694 
L 157.983923 193.946706 
L 157.885319 194.396718 
L 157.786714 194.84673 
L 157.68811 195.296741 
L 157.589505 195.746753 
L 157.490901 196.196765 
L 157.392297 196.646776 
L 157.293692 197.096788 
L 157.195088 197.5468 
L 157.096484 197.996811 
L 156.997879 199.796858 
L 156.899275 201.596905 
L 156.80067 203.396952 
L 156.702066 205.196998 
L 156.603462 206.997045 
L 156.504857 208.797092 
L 156.406253 210.597139 
L 156.307648 212.397185 
L 156.209044 214.197232 
L 156.11044 215.997279 
L 156.011835 217.797326 
L 155.913231 219.597372 
L 155.814626 221.397419 
L 155.716022 223.197466 
L 155.617418 224.997513 
L 155.518813 226.797559 
L 155.420209 228.597606 
L 155.321604 230.397653 
L 155.223 232.1977 
L 155.124396 233.997746 
L 155.124396 233.997746 
L 155.025791 234.267753 
L 154.927187 234.53776 
L 154.828582 234.807767 
L 154.729978 235.077774 
L 154.631374 235.347782 
L 154.532769 235.617789 
L 154.434165 235.887796 
L 154.33556 236.157803 
L 154.236956 236.42781 
L 154.138352 236.697817 
L 154.039747 236.967824 
L 153.941143 237.237831 
L 153.842538 237.507838 
L 153.743934 237.777845 
L 153.64533 238.047852 
L 153.546725 238.317859 
L 153.448121 238.587866 
L 153.349516 238.857873 
L 153.250912 239.12788 
L 153.152308 239.397887 
L 153.053703 239.397887 
L 152.955099 239.397887 
L 152.856495 239.397887 
L 152.75789 239.397887 
L 152.659286 239.397887 
L 152.560681 239.397887 
L 152.462077 239.397887 
L 152.363473 239.397887 
L 152.264868 239.397887 
L 152.166264 239.397887 
L 152.067659 239.397887 
L 151.969055 239.397887 
L 151.870451 239.397887 
L 151.771846 239.397887 
L 151.673242 239.397887 
L 151.574637 239.397887 
L 151.476033 239.397887 
L 151.377429 239.397887 
L 151.278824 239.397887 
L 151.18022 239.397887 
L 151.081615 238.317859 
L 150.983011 237.237831 
L 150.884407 236.157803 
L 150.785802 235.077774 
L 150.687198 233.997746 
L 150.588593 232.917718 
L 150.489989 231.83769 
L 150.391385 230.757662 
L 150.29278 229.677634 
L 150.194176 228.597606 
L 150.095571 227.517578 
L 149.996967 226.43755 
L 149.898363 225.357522 
L 149.799758 224.277494 
L 149.701154 223.197466 
L 149.602549 222.117438 
L 149.503945 221.03741 
L 149.405341 219.957382 
L 149.306736 218.877354 
L 149.208132 217.797326 
L 149.109527 219.057358 
L 149.010923 220.317391 
L 148.912319 221.577424 
L 148.813714 222.837457 
L 148.71511 224.097489 
L 148.616505 225.357522 
L 148.517901 226.617555 
L 148.419297 227.877587 
L 148.320692 229.13762 
L 148.222088 230.397653 
L 148.123484 231.657686 
L 148.024879 232.917718 
L 147.926275 234.177751 
L 147.82767 235.437784 
L 147.729066 236.697817 
z
" clip-path="url(#p9fedf73bd1)" style="fill: #f5b8b8"/>
    <path d="M 174.915706 231.522682 
L 174.943879 231.612684 
L 175.042484 231.927693 
L 175.141088 232.242701 
L 175.239692 232.557709 
L 175.338297 232.872717 
L 175.436901 233.187725 
L 175.535505 233.502734 
L 175.63411 233.817742 
L 175.732714 234.13275 
L 175.831319 234.447758 
L 175.929923 234.762766 
L 176.028527 235.077774 
L 176.127132 235.392783 
L 176.225736 235.707791 
L 176.324341 236.022799 
L 176.422945 236.337807 
L 176.521549 236.652815 
L 176.620154 236.967824 
L 176.718758 237.282832 
L 176.817363 237.59784 
L 176.915967 237.687842 
L 177.014571 237.777845 
L 177.113176 237.867847 
L 177.21178 237.957849 
L 177.310385 238.047852 
L 177.408989 238.137854 
L 177.507593 238.227856 
L 177.606198 238.317859 
L 177.704802 238.407861 
L 177.803407 238.497863 
L 177.902011 238.587866 
L 178.000615 238.677868 
L 178.09922 238.76787 
L 178.197824 238.857873 
L 178.296429 238.947875 
L 178.395033 239.037877 
L 178.493637 239.12788 
L 178.592242 239.217882 
L 178.690846 239.307884 
L 178.789451 239.397887 
L 178.789451 239.397887 
L 178.789451 239.397887 
L 178.789451 239.397887 
L 178.789451 239.397887 
L 178.690846 238.092853 
L 178.592242 236.787819 
L 178.493637 235.482785 
L 178.395033 234.177751 
L 178.296429 232.872717 
L 178.197824 231.567683 
L 178.09922 230.262649 
L 178.000615 228.957616 
L 177.902011 227.652582 
L 177.803407 226.347548 
L 177.704802 225.042514 
L 177.606198 223.73748 
L 177.507593 222.432446 
L 177.408989 221.127412 
L 177.310385 219.822378 
L 177.21178 218.517344 
L 177.113176 217.21231 
L 177.014571 215.907277 
L 176.915967 214.602243 
L 176.817363 213.297209 
L 176.718758 214.242233 
L 176.620154 215.187258 
L 176.521549 216.132282 
L 176.422945 217.077307 
L 176.324341 218.022331 
L 176.225736 218.967356 
L 176.127132 219.912381 
L 176.028527 220.857405 
L 175.929923 221.80243 
L 175.831319 222.747454 
L 175.732714 223.692479 
L 175.63411 224.637503 
L 175.535505 225.582528 
L 175.436901 226.527552 
L 175.338297 227.472577 
L 175.239692 228.417601 
L 175.141088 229.362626 
L 175.042484 230.307651 
L 174.943879 231.252675 
z
" clip-path="url(#p9fedf73bd1)" style="fill: #f5b8b8"/>
    <path d="M 185.991859 230.162864 
L 186.086176 229.947641 
L 186.18478 229.722635 
L 186.283385 229.49763 
L 186.381989 229.272624 
L 186.480593 229.047618 
L 186.579198 228.822612 
L 186.677802 228.597606 
L 186.776407 228.147594 
L 186.875011 227.697583 
L 186.973615 227.247571 
L 187.07222 226.797559 
L 187.141823 226.479904 
L 187.07222 225.717531 
L 186.973615 224.637503 
L 186.875011 223.557475 
L 186.776407 222.477447 
L 186.677802 221.397419 
L 186.579198 222.657452 
L 186.480593 223.917485 
L 186.381989 225.177517 
L 186.283385 226.43755 
L 186.18478 227.697583 
L 186.086176 228.957616 
z
" clip-path="url(#p9fedf73bd1)" style="fill: #f5b8b8"/>
    <path d="M 192.460365 224.570383 
L 192.495462 224.682504 
L 192.594066 224.997513 
L 192.69267 224.90751 
L 192.791275 224.817508 
L 192.889879 224.727506 
L 192.988484 224.637503 
L 193.087088 224.547501 
L 193.185692 224.457499 
L 193.284297 224.367496 
L 193.382901 224.277494 
L 193.481505 224.187492 
L 193.58011 224.097489 
L 193.678714 224.007487 
L 193.777319 223.917485 
L 193.875923 223.827482 
L 193.974527 223.73748 
L 194.073132 223.647478 
L 194.171736 223.557475 
L 194.270341 223.467473 
L 194.368945 223.377471 
L 194.467549 223.287468 
L 194.566154 223.197466 
L 194.566154 223.197466 
L 194.664758 223.062462 
L 194.763363 222.927459 
L 194.861967 222.792455 
L 194.960571 222.657452 
L 195.059176 222.522448 
L 195.15778 222.387445 
L 195.256385 222.252441 
L 195.354989 222.117438 
L 195.453593 221.982434 
L 195.552198 221.847431 
L 195.650802 221.712427 
L 195.749407 221.577424 
L 195.848011 221.44242 
L 195.946615 221.307417 
L 196.04522 221.172413 
L 196.143824 221.03741 
L 196.242429 220.902406 
L 196.341033 220.767403 
L 196.439637 220.632399 
L 196.538242 220.497396 
L 196.538242 220.497396 
L 196.636846 220.947407 
L 196.735451 221.397419 
L 196.834055 221.847431 
L 196.932659 222.297443 
L 197.031264 222.747454 
L 197.129868 223.197466 
L 197.228473 223.647478 
L 197.327077 224.097489 
L 197.425681 224.547501 
L 197.524286 224.997513 
L 197.62289 225.447524 
L 197.721495 225.897536 
L 197.820099 226.347548 
L 197.918703 226.797559 
L 198.017308 227.247571 
L 198.115912 227.697583 
L 198.214516 228.147594 
L 198.313121 228.597606 
L 198.411725 229.047618 
L 198.51033 229.49763 
L 198.51033 229.49763 
L 198.608934 228.777611 
L 198.707538 228.057592 
L 198.806143 227.337573 
L 198.904747 226.617555 
L 199.003352 225.897536 
L 199.086786 225.288289 
L 199.003352 225.402523 
L 198.904747 225.537527 
L 198.806143 225.67253 
L 198.707538 225.807534 
L 198.608934 225.942537 
L 198.51033 226.077541 
L 198.51033 226.077541 
L 198.411725 225.177517 
L 198.313121 224.277494 
L 198.214516 223.377471 
L 198.115912 222.477447 
L 198.017308 221.577424 
L 197.918703 220.6774 
L 197.820099 219.777377 
L 197.721495 218.877354 
L 197.62289 217.97733 
L 197.524286 217.077307 
L 197.425681 216.177284 
L 197.327077 215.27726 
L 197.228473 214.377237 
L 197.129868 213.477213 
L 197.031264 212.57719 
L 196.932659 211.677167 
L 196.834055 210.777143 
L 196.735451 209.87712 
L 196.636846 208.977097 
L 196.538242 208.077073 
L 196.538242 208.077073 
L 196.439637 208.185076 
L 196.341033 208.293079 
L 196.242429 208.401082 
L 196.143824 208.509084 
L 196.04522 208.617087 
L 195.946615 208.72509 
L 195.848011 208.833093 
L 195.749407 208.941096 
L 195.650802 209.049098 
L 195.552198 209.157101 
L 195.453593 209.265104 
L 195.354989 209.373107 
L 195.256385 209.48111 
L 195.15778 209.589112 
L 195.059176 209.697115 
L 194.960571 209.805118 
L 194.861967 209.913121 
L 194.763363 210.021124 
L 194.664758 210.129126 
L 194.566154 210.237129 
L 194.566154 210.237129 
L 194.467549 210.795144 
L 194.368945 211.353158 
L 194.270341 211.911173 
L 194.171736 212.469187 
L 194.073132 213.027202 
L 193.974527 213.585216 
L 193.875923 214.143231 
L 193.777319 214.701245 
L 193.678714 215.25926 
L 193.58011 215.817274 
L 193.481505 216.375289 
L 193.382901 216.933303 
L 193.284297 217.491318 
L 193.185692 218.049332 
L 193.087088 218.607347 
L 192.988484 219.165361 
L 192.889879 219.723376 
L 192.791275 220.28139 
L 192.69267 220.839405 
L 192.594066 221.397419 
L 192.495462 223.73748 
z
" clip-path="url(#p9fedf73bd1)" style="fill: #f5b8b8"/>
    <path d="M 202.102347 217.31517 
L 202.158692 217.392315 
L 202.257297 217.527319 
L 202.355901 217.662322 
L 202.454505 217.797326 
L 202.55311 217.914329 
L 202.651714 218.031332 
L 202.750319 218.148335 
L 202.848923 218.265338 
L 202.947527 218.382341 
L 203.046132 218.499344 
L 203.144736 218.616347 
L 203.243341 218.73335 
L 203.341945 218.850353 
L 203.440549 218.967356 
L 203.539154 219.084359 
L 203.637758 219.201362 
L 203.736363 219.318365 
L 203.834967 219.435368 
L 203.933571 219.552371 
L 204.032176 219.669374 
L 204.13078 219.786377 
L 204.229385 219.90338 
L 204.327989 220.020383 
L 204.426593 220.137386 
L 204.525198 220.164387 
L 204.623802 220.191388 
L 204.722407 220.218389 
L 204.821011 220.245389 
L 204.919615 220.27239 
L 205.01822 220.299391 
L 205.116824 220.326391 
L 205.215429 220.353392 
L 205.314033 220.380393 
L 205.412637 220.407393 
L 205.511242 220.434394 
L 205.609846 220.461395 
L 205.708451 220.488396 
L 205.807055 220.515396 
L 205.905659 220.542397 
L 206.004264 220.569398 
L 206.102868 220.596398 
L 206.201473 220.623399 
L 206.300077 220.6504 
L 206.398681 220.6774 
L 206.398681 220.6774 
L 206.497286 220.173387 
L 206.59589 219.669374 
L 206.694495 219.165361 
L 206.793099 218.661348 
L 206.891703 218.157335 
L 206.990308 217.653322 
L 207.088912 217.149309 
L 207.187516 216.645296 
L 207.286121 216.141283 
L 207.384725 215.63727 
L 207.48333 215.133256 
L 207.581934 214.629243 
L 207.680538 214.12523 
L 207.779143 213.621217 
L 207.877747 213.117204 
L 207.976352 212.613191 
L 208.074956 212.109178 
L 208.17356 211.605165 
L 208.272165 211.101152 
L 208.370769 210.597139 
L 208.370769 210.597139 
L 208.469374 211.04715 
L 208.567978 211.497162 
L 208.666582 211.947174 
L 208.765187 212.397185 
L 208.863791 212.847197 
L 208.962396 213.297209 
L 209.061 213.74722 
L 209.159604 214.197232 
L 209.258209 214.647244 
L 209.356813 215.097256 
L 209.455418 215.547267 
L 209.554022 215.997279 
L 209.652626 216.447291 
L 209.751231 216.897302 
L 209.849835 217.347314 
L 209.94844 217.797326 
L 210.047044 218.247337 
L 210.145648 218.697349 
L 210.244253 219.147361 
L 210.342857 219.597372 
L 210.441462 219.957382 
L 210.540066 220.317391 
L 210.63867 220.6774 
L 210.737275 221.03741 
L 210.835879 221.397419 
L 210.934484 221.757429 
L 211.033088 222.117438 
L 211.131692 222.477447 
L 211.230297 222.837457 
L 211.328901 223.197466 
L 211.427505 223.557475 
L 211.52611 223.917485 
L 211.624714 224.277494 
L 211.657582 224.397497 
L 211.624714 224.14249 
L 211.52611 223.377471 
L 211.427505 222.612451 
L 211.328901 221.847431 
L 211.230297 221.082411 
L 211.131692 220.317391 
L 211.033088 219.552371 
L 210.934484 218.787351 
L 210.835879 218.022331 
L 210.737275 217.257312 
L 210.63867 216.492292 
L 210.540066 215.727272 
L 210.441462 214.962252 
L 210.342857 214.197232 
L 210.244253 213.477213 
L 210.145648 212.757195 
L 210.047044 212.037176 
L 209.94844 211.317157 
L 209.849835 210.597139 
L 209.751231 209.87712 
L 209.652626 209.157101 
L 209.554022 208.437083 
L 209.455418 207.717064 
L 209.356813 206.997045 
L 209.258209 206.277026 
L 209.159604 205.557008 
L 209.061 204.836989 
L 208.962396 204.11697 
L 208.863791 203.396952 
L 208.765187 202.676933 
L 208.666582 201.956914 
L 208.567978 201.236896 
L 208.469374 200.516877 
L 208.370769 199.796858 
L 208.370769 199.796858 
L 208.272165 200.102866 
L 208.17356 200.408874 
L 208.074956 200.714882 
L 207.976352 201.02089 
L 207.877747 201.326898 
L 207.779143 201.632906 
L 207.680538 201.938914 
L 207.581934 202.244922 
L 207.48333 202.55093 
L 207.384725 202.856938 
L 207.286121 203.162946 
L 207.187516 203.468953 
L 207.088912 203.774961 
L 206.990308 204.080969 
L 206.891703 204.386977 
L 206.793099 204.692985 
L 206.694495 204.998993 
L 206.59589 205.305001 
L 206.497286 205.611009 
L 206.398681 205.917017 
L 206.398681 205.917017 
L 206.300077 205.557008 
L 206.201473 205.196998 
L 206.102868 204.836989 
L 206.004264 204.47698 
L 205.905659 204.11697 
L 205.807055 203.756961 
L 205.708451 203.396952 
L 205.609846 203.036942 
L 205.511242 202.676933 
L 205.412637 202.316924 
L 205.314033 201.956914 
L 205.215429 201.596905 
L 205.116824 201.236896 
L 205.01822 200.876886 
L 204.919615 200.516877 
L 204.821011 200.156867 
L 204.722407 199.796858 
L 204.623802 199.436849 
L 204.525198 199.076839 
L 204.426593 198.71683 
L 204.327989 199.580852 
L 204.229385 200.444875 
L 204.13078 201.308897 
L 204.032176 202.17292 
L 203.933571 203.036942 
L 203.834967 203.900965 
L 203.736363 204.764987 
L 203.637758 205.62901 
L 203.539154 206.493032 
L 203.440549 207.357054 
L 203.341945 208.221077 
L 203.243341 209.085099 
L 203.144736 209.949122 
L 203.046132 210.813144 
L 202.947527 211.677167 
L 202.848923 212.541189 
L 202.750319 213.405212 
L 202.651714 214.269234 
L 202.55311 215.133256 
L 202.454505 215.997279 
L 202.355901 216.366288 
L 202.257297 216.735298 
L 202.158692 217.104308 
z
" clip-path="url(#p9fedf73bd1)" style="fill: #f5b8b8"/>
    <path d="M 212.972308 224.997513 
L 213.005176 224.90751 
L 213.10378 224.637503 
L 213.202385 224.367496 
L 213.300989 224.097489 
L 213.399593 223.827482 
L 213.498198 223.557475 
L 213.596802 223.287468 
L 213.695407 223.017461 
L 213.794011 222.747454 
L 213.892615 222.477447 
L 213.99122 222.20744 
L 214.089824 221.937433 
L 214.188429 221.667426 
L 214.287033 221.397419 
L 214.385637 221.127412 
L 214.484242 220.857405 
L 214.582846 220.587398 
L 214.681451 220.317391 
L 214.780055 220.047384 
L 214.878659 219.777377 
L 214.977264 219.50737 
L 215.075868 219.237363 
L 215.174473 218.967356 
L 215.273077 218.697349 
L 215.371681 218.427342 
L 215.470286 218.157335 
L 215.56889 217.887328 
L 215.667495 217.617321 
L 215.766099 217.347314 
L 215.864703 217.077307 
L 215.963308 216.8073 
L 216.061912 216.537293 
L 216.160516 216.267286 
L 216.259121 215.997279 
L 216.357725 216.447291 
L 216.45633 216.897302 
L 216.554934 217.347314 
L 216.653538 217.797326 
L 216.752143 218.247337 
L 216.850747 218.697349 
L 216.949352 219.147361 
L 217.047956 219.597372 
L 217.14656 220.047384 
L 217.245165 220.497396 
L 217.343769 220.947407 
L 217.442374 221.397419 
L 217.540978 221.847431 
L 217.639582 222.297443 
L 217.738187 222.747454 
L 217.836791 223.197466 
L 217.935396 223.647478 
L 218.034 224.097489 
L 218.132604 224.547501 
L 218.231209 224.997513 
L 218.329813 224.817508 
L 218.428418 224.637503 
L 218.527022 224.457499 
L 218.625626 224.277494 
L 218.724231 224.097489 
L 218.822835 223.917485 
L 218.92144 223.73748 
L 219.020044 223.557475 
L 219.118648 223.377471 
L 219.217253 223.197466 
L 219.315857 223.017461 
L 219.414462 222.837457 
L 219.513066 222.657452 
L 219.61167 222.477447 
L 219.710275 222.297443 
L 219.808879 222.117438 
L 219.907484 221.937433 
L 220.006088 221.757429 
L 220.104692 221.577424 
L 220.203297 221.397419 
L 220.203297 221.397419 
L 220.301901 221.352418 
L 220.400505 221.307417 
L 220.49911 221.262416 
L 220.597714 221.217414 
L 220.696319 221.172413 
L 220.794923 221.127412 
L 220.893527 221.082411 
L 220.992132 221.03741 
L 221.090736 220.992409 
L 221.189341 220.947407 
L 221.287945 220.902406 
L 221.386549 220.857405 
L 221.485154 220.812404 
L 221.583758 220.767403 
L 221.682363 220.722402 
L 221.780967 220.6774 
L 221.879571 220.632399 
L 221.978176 220.587398 
L 222.07678 220.542397 
L 222.175385 220.497396 
L 222.175385 220.497396 
L 222.273989 220.317391 
L 222.372593 220.137386 
L 222.471198 219.957382 
L 222.569802 219.777377 
L 222.630482 219.666605 
L 222.569802 219.273364 
L 222.471198 218.634347 
L 222.372593 217.995331 
L 222.273989 217.356314 
L 222.175385 216.717298 
L 222.175385 216.717298 
L 222.07678 216.231285 
L 221.978176 215.745272 
L 221.879571 215.25926 
L 221.780967 214.773247 
L 221.682363 214.287234 
L 221.583758 213.801222 
L 221.485154 213.315209 
L 221.386549 212.829197 
L 221.287945 212.343184 
L 221.189341 211.857171 
L 221.090736 211.371159 
L 220.992132 210.885146 
L 220.893527 210.399133 
L 220.794923 209.913121 
L 220.696319 209.427108 
L 220.597714 208.941096 
L 220.49911 208.455083 
L 220.400505 207.96907 
L 220.301901 207.483058 
L 220.203297 206.997045 
L 220.203297 206.997045 
L 220.104692 207.042046 
L 220.006088 207.087047 
L 219.907484 207.132049 
L 219.808879 207.17705 
L 219.710275 207.222051 
L 219.61167 207.267052 
L 219.513066 207.312053 
L 219.414462 207.357054 
L 219.315857 207.402056 
L 219.217253 207.447057 
L 219.118648 207.492058 
L 219.020044 207.537059 
L 218.92144 207.58206 
L 218.822835 207.627061 
L 218.724231 207.672063 
L 218.625626 207.717064 
L 218.527022 207.762065 
L 218.428418 207.807066 
L 218.329813 207.852067 
L 218.231209 207.897068 
L 218.132604 207.94207 
L 218.034 207.987071 
L 217.935396 208.032072 
L 217.836791 208.077073 
L 217.738187 208.122074 
L 217.639582 208.167076 
L 217.540978 208.212077 
L 217.442374 208.257078 
L 217.343769 208.302079 
L 217.245165 208.34708 
L 217.14656 208.392081 
L 217.047956 208.437083 
L 216.949352 208.482084 
L 216.850747 208.527085 
L 216.752143 208.572086 
L 216.653538 208.617087 
L 216.554934 208.662088 
L 216.45633 208.70709 
L 216.357725 208.752091 
L 216.259121 208.797092 
L 216.160516 209.157101 
L 216.061912 209.517111 
L 215.963308 209.87712 
L 215.864703 210.237129 
L 215.766099 210.597139 
L 215.667495 210.957148 
L 215.56889 211.317157 
L 215.470286 211.677167 
L 215.371681 212.037176 
L 215.273077 212.397185 
L 215.174473 212.757195 
L 215.075868 213.117204 
L 214.977264 213.477213 
L 214.878659 213.837223 
L 214.780055 214.197232 
L 214.681451 214.557241 
L 214.582846 214.917251 
L 214.484242 215.27726 
L 214.385637 215.63727 
L 214.287033 215.997279 
L 214.188429 216.672296 
L 214.089824 217.347314 
L 213.99122 218.022331 
L 213.892615 218.697349 
L 213.794011 219.372367 
L 213.695407 220.047384 
L 213.596802 220.722402 
L 213.498198 221.397419 
L 213.399593 222.072437 
L 213.300989 222.747454 
L 213.202385 223.422472 
L 213.10378 224.097489 
L 213.005176 224.772507 
z
" clip-path="url(#p9fedf73bd1)" style="fill: #f5b8b8"/>
    <path d="M 232.035824 203.396952 
L 232.035824 203.396952 
L 232.035824 203.396952 
L 232.035824 203.396952 
z
" clip-path="url(#p9fedf73bd1)" style="fill: #f5b8b8"/>
    <path d="M 237.388634 211.368587 
L 237.459066 211.272156 
L 237.55767 211.137153 
L 237.656275 211.002149 
L 237.754879 210.867146 
L 237.853484 210.732142 
L 237.952088 210.597139 
L 238.050692 210.552137 
L 238.149297 210.507136 
L 238.247901 210.462135 
L 238.346505 210.417134 
L 238.44511 210.372133 
L 238.543714 210.327132 
L 238.642319 210.28213 
L 238.740923 210.237129 
L 238.839527 210.192128 
L 238.938132 210.147127 
L 239.036736 210.102126 
L 239.135341 210.057125 
L 239.233945 210.012123 
L 239.332549 209.967122 
L 239.431154 209.922121 
L 239.529758 209.87712 
L 239.628363 209.832119 
L 239.726967 209.787118 
L 239.825571 209.742116 
L 239.924176 209.697115 
L 240.02278 209.289167 
L 240.121385 208.881219 
L 240.219989 208.473271 
L 240.318593 208.065323 
L 240.417198 207.657376 
L 240.515802 207.249428 
L 240.614407 206.84148 
L 240.713011 206.433532 
L 240.811615 206.025584 
L 240.91022 205.617636 
L 241.008824 205.209688 
L 241.107429 204.80174 
L 241.206033 204.393792 
L 241.304637 203.985844 
L 241.403242 203.577896 
L 241.501846 203.169948 
L 241.600451 202.762 
L 241.699055 202.354052 
L 241.797659 201.946104 
L 241.896264 201.538156 
L 241.896264 201.538156 
L 241.994868 201.130208 
L 242.093473 200.72226 
L 242.192077 200.314312 
L 242.290681 199.906364 
L 242.389286 199.498417 
L 242.48789 199.090469 
L 242.586495 198.682521 
L 242.685099 198.274573 
L 242.783703 197.866625 
L 242.882308 197.458677 
L 242.980912 197.050729 
L 243.079516 196.642781 
L 243.178121 196.234833 
L 243.276725 195.826885 
L 243.37533 195.418937 
L 243.473934 195.010989 
L 243.572538 194.603041 
L 243.671143 194.268257 
L 243.769747 194.334019 
L 243.868352 194.399781 
L 243.868352 194.399781 
L 243.966956 194.465542 
L 244.06556 194.531304 
L 244.164165 194.597066 
L 244.262769 194.662827 
L 244.361374 194.728589 
L 244.459978 194.794351 
L 244.558582 194.860113 
L 244.657187 194.925874 
L 244.755791 194.991636 
L 244.854396 195.057398 
L 244.953 195.123159 
L 245.051604 195.188921 
L 245.150209 195.254683 
L 245.248813 195.320445 
L 245.347418 195.386206 
L 245.446022 195.451968 
L 245.544626 195.51773 
L 245.643231 195.583491 
L 245.741835 195.649253 
L 245.84044 195.715015 
L 245.84044 195.715015 
L 245.939044 195.780776 
L 246.037648 195.848657 
L 246.136253 195.9473 
L 246.234857 196.045942 
L 246.333462 196.144585 
L 246.432066 196.243228 
L 246.53067 196.34187 
L 246.629275 196.440513 
L 246.727879 196.539155 
L 246.826484 196.637798 
L 246.925088 196.73644 
L 247.023692 196.835083 
L 247.122297 196.933726 
L 247.220901 197.032368 
L 247.319505 197.131011 
L 247.41811 197.229653 
L 247.516714 197.328296 
L 247.615319 197.428255 
L 247.713923 197.822825 
L 247.812527 198.217395 
L 247.812527 198.217395 
L 247.911132 198.611966 
L 248.009736 199.006536 
L 248.108341 199.401106 
L 248.206945 199.795676 
L 248.305549 200.190247 
L 248.404154 200.584817 
L 248.502758 200.979387 
L 248.601363 201.373957 
L 248.699967 201.768528 
L 248.798571 202.163098 
L 248.897176 202.557668 
L 248.99578 202.952238 
L 249.094385 203.346809 
L 249.192989 203.741379 
L 249.291593 203.825406 
L 249.390198 203.891168 
L 249.488802 203.95693 
L 249.587407 204.022691 
L 249.686011 204.088453 
L 249.784615 204.154215 
L 249.784615 204.154215 
L 249.88322 204.219977 
L 249.981824 204.285738 
L 250.080429 204.3515 
L 250.179033 204.417262 
L 250.277637 204.483023 
L 250.376242 204.548785 
L 250.474846 204.614547 
L 250.573451 204.680309 
L 250.672055 204.74607 
L 250.770659 204.811832 
L 250.869264 204.877594 
L 250.967868 204.943355 
L 251.066473 205.009117 
L 251.165077 205.074879 
L 251.263681 205.14064 
L 251.362286 205.206402 
L 251.46089 205.272164 
L 251.559495 205.337926 
L 251.658099 205.516067 
L 251.756703 205.713352 
L 251.756703 205.713352 
L 251.855308 205.910637 
L 251.953912 206.107923 
L 252.052516 206.305208 
L 252.151121 206.502493 
L 252.249725 206.699778 
L 252.34833 206.897063 
L 252.446934 207.094348 
L 252.545538 207.291633 
L 252.644143 207.488918 
L 252.742747 207.686204 
L 252.841352 207.883489 
L 252.939956 208.080774 
L 253.03856 208.278059 
L 253.137165 208.475344 
L 253.235769 208.672629 
L 253.334374 208.869914 
L 253.432978 209.067199 
L 253.531582 209.264485 
L 253.630187 209.46177 
L 253.728791 209.659055 
L 253.728791 209.659055 
L 253.827396 209.85634 
L 253.926 210.053625 
L 254.024604 210.213207 
L 254.123209 210.361171 
L 254.221813 210.509134 
L 254.320418 210.657098 
L 254.419022 210.805062 
L 254.517626 210.953026 
L 254.616231 211.10099 
L 254.714835 211.248954 
L 254.81344 211.396917 
L 254.912044 211.544881 
L 255.010648 211.692845 
L 255.109253 211.840809 
L 255.207857 211.988773 
L 255.306462 212.136737 
L 255.405066 212.2847 
L 255.50367 212.432664 
L 255.602275 212.02472 
L 255.700879 211.383543 
L 255.799484 210.742367 
L 255.874467 210.254783 
L 255.799484 209.625113 
L 255.700879 208.797092 
L 255.602275 207.789066 
L 255.50367 206.78104 
L 255.405066 205.773013 
L 255.306462 204.764987 
L 255.207857 203.756961 
L 255.109253 202.748935 
L 255.010648 201.740909 
L 254.912044 200.732882 
L 254.81344 199.724856 
L 254.714835 198.71683 
L 254.616231 197.708804 
L 254.517626 196.700778 
L 254.419022 195.692752 
L 254.320418 194.684725 
L 254.221813 193.676699 
L 254.123209 192.668673 
L 254.024604 191.660647 
L 253.926 190.652621 
L 253.827396 189.644594 
L 253.728791 188.636568 
L 253.728791 188.636568 
L 253.630187 186.634916 
L 253.531582 184.633264 
L 253.432978 182.631612 
L 253.334374 180.62996 
L 253.235769 178.628308 
L 253.137165 176.626656 
L 253.03856 174.625004 
L 252.939956 172.623352 
L 252.841352 170.6217 
L 252.742747 168.620048 
L 252.644143 166.618396 
L 252.545538 164.616744 
L 252.446934 162.615092 
L 252.34833 160.61344 
L 252.249725 158.611788 
L 252.151121 156.610136 
L 252.052516 154.608484 
L 251.953912 152.606832 
L 251.855308 150.60518 
L 251.756703 148.603528 
L 251.756703 148.603528 
L 251.658099 149.093141 
L 251.559495 149.582754 
L 251.46089 150.072367 
L 251.362286 150.561979 
L 251.263681 151.051592 
L 251.165077 151.541205 
L 251.066473 152.030817 
L 250.967868 152.52043 
L 250.869264 153.010043 
L 250.770659 153.499656 
L 250.672055 153.989268 
L 250.573451 154.478881 
L 250.474846 154.968494 
L 250.376242 155.458106 
L 250.277637 155.947719 
L 250.179033 156.437332 
L 250.080429 156.926945 
L 249.981824 157.416557 
L 249.88322 157.90617 
L 249.784615 158.395783 
L 249.784615 158.395783 
L 249.686011 158.899796 
L 249.587407 159.403809 
L 249.488802 159.907822 
L 249.390198 160.411835 
L 249.291593 160.915848 
L 249.192989 161.419861 
L 249.094385 161.923874 
L 248.99578 162.427887 
L 248.897176 162.931901 
L 248.798571 163.435914 
L 248.699967 163.939927 
L 248.601363 164.44394 
L 248.502758 164.947953 
L 248.404154 165.451966 
L 248.305549 165.955979 
L 248.206945 166.459992 
L 248.108341 166.964005 
L 248.009736 167.468018 
L 247.911132 167.972031 
L 247.812527 168.476045 
L 247.812527 168.476045 
L 247.713923 168.980058 
L 247.615319 169.484071 
L 247.516714 169.988084 
L 247.41811 170.492097 
L 247.319505 170.99611 
L 247.220901 171.500123 
L 247.122297 172.004136 
L 247.023692 172.508149 
L 246.925088 173.012162 
L 246.826484 173.516175 
L 246.727879 174.020189 
L 246.629275 174.524202 
L 246.53067 175.028215 
L 246.432066 175.532228 
L 246.333462 176.036241 
L 246.234857 176.540254 
L 246.136253 177.044267 
L 246.037648 177.54828 
L 245.939044 178.052293 
L 245.84044 178.556306 
L 245.84044 178.556306 
L 245.741835 177.800287 
L 245.643231 177.044267 
L 245.544626 176.288247 
L 245.446022 175.532228 
L 245.347418 174.776208 
L 245.248813 174.020189 
L 245.150209 173.264169 
L 245.051604 172.508149 
L 244.953 171.75213 
L 244.854396 170.99611 
L 244.755791 170.24009 
L 244.657187 169.484071 
L 244.558582 168.728051 
L 244.459978 167.972031 
L 244.361374 167.216012 
L 244.262769 166.459992 
L 244.164165 165.703973 
L 244.06556 164.947953 
L 243.966956 164.191933 
L 243.868352 163.435914 
L 243.868352 163.435914 
L 243.769747 163.853525 
L 243.671143 164.271135 
L 243.572538 164.688746 
L 243.473934 165.106357 
L 243.37533 165.523968 
L 243.276725 165.941579 
L 243.178121 166.35919 
L 243.079516 166.7768 
L 242.980912 167.194411 
L 242.882308 167.612022 
L 242.783703 168.029633 
L 242.685099 168.447244 
L 242.586495 168.864855 
L 242.48789 169.282466 
L 242.389286 169.700076 
L 242.290681 170.117687 
L 242.192077 170.535298 
L 242.093473 170.952909 
L 241.994868 171.37052 
L 241.896264 171.788131 
L 241.896264 171.788131 
L 241.797659 172.270543 
L 241.699055 172.752956 
L 241.600451 173.235368 
L 241.501846 173.717781 
L 241.403242 174.200193 
L 241.304637 174.682606 
L 241.206033 175.165018 
L 241.107429 175.647431 
L 241.008824 176.129843 
L 240.91022 176.612256 
L 240.811615 177.094668 
L 240.713011 177.577081 
L 240.614407 178.059493 
L 240.515802 178.541906 
L 240.417198 179.024319 
L 240.318593 179.506731 
L 240.219989 179.989144 
L 240.121385 180.471556 
L 240.02278 180.953969 
L 239.924176 181.436381 
L 239.825571 182.876419 
L 239.726967 184.316456 
L 239.628363 185.756493 
L 239.529758 187.196531 
L 239.431154 188.636568 
L 239.332549 190.076606 
L 239.233945 191.516643 
L 239.135341 192.95668 
L 239.036736 194.396718 
L 238.938132 195.836755 
L 238.839527 197.276793 
L 238.740923 198.71683 
L 238.642319 200.156867 
L 238.543714 201.596905 
L 238.44511 203.036942 
L 238.346505 204.47698 
L 238.247901 205.917017 
L 238.149297 207.357054 
L 238.050692 208.797092 
L 237.952088 210.237129 
L 237.853484 210.435134 
L 237.754879 210.63314 
L 237.656275 210.831145 
L 237.55767 211.02915 
L 237.459066 211.227155 
z
" clip-path="url(#p9fedf73bd1)" style="fill: #f5b8b8"/>
    <path d="M 259.332968 196.265962 
L 259.349242 196.222548 
L 259.447846 195.959501 
L 259.546451 195.915223 
L 259.645055 196.046746 
L 259.645055 196.046746 
L 259.645055 190.796624 
L 259.546451 192.524669 
L 259.447846 194.252714 
L 259.349242 195.980759 
z
" clip-path="url(#p9fedf73bd1)" style="fill: #f5b8b8"/>
   </g>
   <g id="FillBetweenPolyCollection_2">
    <path d="M 63.039664 242.648717 
L 63.126495 242.727973 
L 63.225099 242.817976 
L 63.323703 242.907978 
L 63.422308 242.99798 
L 63.520912 243.087983 
L 63.619516 243.177985 
L 63.718121 243.267987 
L 63.816725 243.35799 
L 63.91533 243.447992 
L 64.013934 243.537994 
L 64.112538 243.627997 
L 64.211143 243.717999 
L 64.309747 243.808001 
L 64.408352 243.898004 
L 64.408352 243.898004 
L 64.506956 244.033007 
L 64.60556 244.168011 
L 64.704165 244.303014 
L 64.802769 244.438018 
L 64.901374 244.573021 
L 64.999978 244.708025 
L 65.098582 244.843028 
L 65.197187 244.978032 
L 65.295791 245.113035 
L 65.394396 245.248039 
L 65.493 245.383042 
L 65.591604 245.518046 
L 65.690209 245.653049 
L 65.788813 245.788053 
L 65.887418 245.923056 
L 65.986022 246.05806 
L 66.084626 246.193063 
L 66.183231 246.328067 
L 66.281835 246.46307 
L 66.38044 246.598074 
L 66.38044 246.598074 
L 66.479044 246.706077 
L 66.577648 246.814079 
L 66.676253 246.922082 
L 66.774857 247.030085 
L 66.873462 247.138088 
L 66.972066 247.246091 
L 67.07067 247.354093 
L 67.169275 247.462096 
L 67.267879 247.570099 
L 67.366484 247.678102 
L 67.465088 247.786105 
L 67.563692 247.894107 
L 67.662297 248.00211 
L 67.760901 248.110113 
L 67.859505 248.218116 
L 67.95811 248.326119 
L 68.056714 248.434121 
L 68.155319 248.542124 
L 68.253923 248.650127 
L 68.352527 248.75813 
L 68.352527 248.75813 
L 68.451132 248.605126 
L 68.549736 248.452122 
L 68.648341 248.299118 
L 68.746945 248.146114 
L 68.845549 247.99311 
L 68.944154 247.840106 
L 69.042758 247.687102 
L 69.141363 247.534098 
L 69.239967 247.381094 
L 69.338571 247.22809 
L 69.437176 247.075086 
L 69.53578 246.922082 
L 69.634385 246.769078 
L 69.732989 246.616074 
L 69.831593 246.46307 
L 69.930198 246.310066 
L 70.028802 246.157062 
L 70.127407 246.004058 
L 70.226011 245.851054 
L 70.324615 245.69805 
L 70.324615 245.69805 
L 70.42322 245.473044 
L 70.521824 245.248039 
L 70.620429 245.023033 
L 70.719033 244.798027 
L 70.817637 244.573021 
L 70.916242 244.348015 
L 71.014846 244.123009 
L 71.113451 243.898004 
L 71.212055 243.672998 
L 71.310659 243.447992 
L 71.409264 243.222986 
L 71.507868 242.99798 
L 71.606473 242.772974 
L 71.705077 242.547969 
L 71.803681 242.322963 
L 71.902286 242.097957 
L 72.00089 241.872951 
L 72.099495 241.647945 
L 72.198099 241.422939 
L 72.296703 241.197933 
L 72.395308 241.287936 
L 72.493912 241.377938 
L 72.592516 241.46794 
L 72.691121 241.557943 
L 72.789725 241.647945 
L 72.88833 241.737947 
L 72.986934 241.82795 
L 73.085538 241.917952 
L 73.184143 242.007954 
L 73.282747 242.097957 
L 73.381352 242.187959 
L 73.479956 242.277962 
L 73.57856 242.367964 
L 73.677165 242.457966 
L 73.775769 242.547969 
L 73.874374 242.637971 
L 73.972978 242.727973 
L 74.071582 242.817976 
L 74.170187 242.907978 
L 74.268791 242.99798 
L 74.268791 242.99798 
L 74.367396 243.069982 
L 74.466 243.141984 
L 74.564604 243.213986 
L 74.663209 243.285988 
L 74.761813 243.35799 
L 74.860418 243.429991 
L 74.959022 243.501993 
L 75.057626 243.573995 
L 75.156231 243.645997 
L 75.254835 243.717999 
L 75.35344 243.790001 
L 75.452044 243.862003 
L 75.550648 243.934005 
L 75.649253 244.006006 
L 75.747857 244.078008 
L 75.846462 244.15001 
L 75.945066 244.222012 
L 76.04367 244.294014 
L 76.142275 244.366016 
L 76.240879 244.438018 
L 76.240879 244.438018 
L 76.339484 244.474019 
L 76.438088 244.510019 
L 76.536692 244.54602 
L 76.635297 244.582021 
L 76.733901 244.618022 
L 76.832505 244.654023 
L 76.93111 244.690024 
L 76.935276 244.691545 
L 76.93111 244.744026 
L 76.832505 245.986058 
L 76.733901 247.22809 
L 76.635297 248.470122 
L 76.536692 249.712155 
L 76.438088 250.954187 
L 76.339484 252.196219 
L 76.240879 253.438251 
L 76.240879 253.438251 
L 76.142275 253.870263 
L 76.04367 254.302274 
L 75.945066 254.734285 
L 75.846462 255.166296 
L 75.747857 255.598307 
L 75.649253 256.030319 
L 75.550648 256.46233 
L 75.452044 256.894341 
L 75.35344 257.326352 
L 75.254835 257.758364 
L 75.156231 258.190375 
L 75.057626 258.622386 
L 74.959022 259.054397 
L 74.860418 259.486408 
L 74.761813 259.91842 
L 74.663209 260.350431 
L 74.564604 260.782442 
L 74.466 261.214453 
L 74.367396 261.646465 
L 74.268791 262.078476 
L 74.268791 262.078476 
L 74.170187 262.114477 
L 74.071582 262.150478 
L 73.972978 262.186479 
L 73.874374 262.22248 
L 73.775769 262.25848 
L 73.677165 262.294481 
L 73.57856 262.330482 
L 73.479956 262.366483 
L 73.381352 262.402484 
L 73.282747 262.438485 
L 73.184143 262.474486 
L 73.085538 262.510487 
L 72.986934 262.546488 
L 72.88833 262.582489 
L 72.789725 262.61849 
L 72.691121 262.654491 
L 72.592516 262.690492 
L 72.493912 262.726493 
L 72.395308 262.762494 
L 72.296703 262.798495 
L 72.198099 262.834495 
L 72.099495 262.870496 
L 72.00089 262.906497 
L 71.902286 262.942498 
L 71.803681 262.978499 
L 71.705077 263.0145 
L 71.606473 263.050501 
L 71.507868 263.086502 
L 71.409264 263.122503 
L 71.310659 263.158504 
L 71.212055 263.194505 
L 71.113451 263.230506 
L 71.014846 263.266507 
L 70.916242 263.302508 
L 70.817637 263.338509 
L 70.719033 263.374509 
L 70.620429 263.41051 
L 70.521824 263.446511 
L 70.42322 263.482512 
L 70.324615 263.518513 
L 70.324615 263.518513 
L 70.226011 264.670543 
L 70.127407 265.822573 
L 70.028802 266.974603 
L 69.930198 268.126633 
L 69.831593 269.278663 
L 69.732989 270.430693 
L 69.634385 271.582723 
L 69.53578 272.734753 
L 69.437176 273.886783 
L 69.338571 275.038812 
L 69.239967 276.190842 
L 69.141363 277.342872 
L 69.042758 278.494902 
L 68.944154 279.646932 
L 68.845549 280.798962 
L 68.746945 281.950992 
L 68.648341 283.103022 
L 68.549736 284.255052 
L 68.451132 285.407082 
L 68.352527 286.559112 
L 68.352527 286.559112 
L 68.253923 286.595113 
L 68.155319 286.631114 
L 68.056714 286.667114 
L 67.95811 286.703115 
L 67.859505 286.739116 
L 67.760901 286.775117 
L 67.662297 286.811118 
L 67.563692 286.847119 
L 67.465088 286.88312 
L 67.366484 286.919121 
L 67.267879 286.955122 
L 67.169275 286.991123 
L 67.07067 287.027124 
L 66.972066 287.063125 
L 66.873462 287.099126 
L 66.774857 287.135127 
L 66.676253 287.171128 
L 66.577648 287.207128 
L 66.479044 287.243129 
L 66.38044 287.27913 
L 66.38044 287.27913 
L 66.281835 285.947096 
L 66.183231 284.615061 
L 66.084626 283.283027 
L 65.986022 281.950992 
L 65.887418 280.618957 
L 65.788813 279.286923 
L 65.690209 277.954888 
L 65.591604 276.622854 
L 65.493 275.290819 
L 65.394396 273.958784 
L 65.295791 272.62675 
L 65.197187 271.294715 
L 65.098582 269.962681 
L 64.999978 268.630646 
L 64.901374 267.298611 
L 64.802769 265.966577 
L 64.704165 264.634542 
L 64.60556 263.302508 
L 64.506956 261.970473 
L 64.408352 260.638438 
L 64.408352 260.638438 
L 64.309747 259.342405 
L 64.211143 258.046371 
L 64.112538 256.750337 
L 64.013934 255.454304 
L 63.91533 254.15827 
L 63.816725 252.862236 
L 63.718121 251.566203 
L 63.619516 250.270169 
L 63.520912 248.974135 
L 63.422308 247.678102 
L 63.323703 246.382068 
L 63.225099 245.086034 
L 63.126495 243.790001 
z
" clip-path="url(#p9fedf73bd1)" style="fill: #8db1d3"/>
    <path d="M 86.536715 256.767169 
L 86.594341 256.588333 
L 86.692945 256.282325 
L 86.791549 255.976317 
L 86.890154 255.670309 
L 86.988758 255.364301 
L 87.087363 255.058293 
L 87.185967 254.752286 
L 87.284571 254.446278 
L 87.383176 254.14027 
L 87.48178 253.834262 
L 87.580385 253.528254 
L 87.678989 253.222246 
L 87.777593 252.916238 
L 87.876198 252.61023 
L 87.974802 252.304222 
L 88.073407 251.998214 
L 88.172011 252.070216 
L 88.270615 252.142218 
L 88.36922 252.21422 
L 88.467824 252.286221 
L 88.566429 252.358223 
L 88.665033 252.430225 
L 88.763637 252.502227 
L 88.862242 252.574229 
L 88.960846 252.646231 
L 89.059451 252.718233 
L 89.158055 252.790235 
L 89.256659 252.862236 
L 89.355264 252.934238 
L 89.453868 253.00624 
L 89.552473 253.078242 
L 89.651077 253.150244 
L 89.749681 253.222246 
L 89.848286 253.294248 
L 89.94689 253.36625 
L 90.045495 253.438251 
L 90.045495 253.438251 
L 90.144099 253.321248 
L 90.242703 253.204245 
L 90.341308 253.087242 
L 90.439912 252.970239 
L 90.538516 252.853236 
L 90.637121 252.736233 
L 90.735725 252.61923 
L 90.83433 252.502227 
L 90.932934 252.385224 
L 91.031538 252.268221 
L 91.130143 252.151218 
L 91.228747 252.034215 
L 91.327352 251.917212 
L 91.425956 251.800209 
L 91.52456 251.683206 
L 91.623165 251.566203 
L 91.721769 251.4492 
L 91.820374 251.332197 
L 91.918978 251.215194 
L 92.017582 251.098191 
L 92.116187 251.233194 
L 92.214791 251.368198 
L 92.313396 251.503201 
L 92.412 251.638205 
L 92.510604 251.773208 
L 92.609209 251.908212 
L 92.707813 252.043215 
L 92.806418 252.178219 
L 92.905022 252.313222 
L 93.003626 252.448226 
L 93.102231 252.583229 
L 93.200835 252.718233 
L 93.29944 252.853236 
L 93.398044 252.98824 
L 93.496648 253.123243 
L 93.595253 253.258247 
L 93.693857 253.39325 
L 93.792462 253.528254 
L 93.891066 253.663257 
L 93.98967 253.798261 
L 94.088275 253.573255 
L 94.186879 253.348249 
L 94.285484 253.123243 
L 94.384088 252.898237 
L 94.482692 252.673232 
L 94.581297 252.448226 
L 94.679901 252.22322 
L 94.778505 251.998214 
L 94.87711 251.773208 
L 94.975714 251.548202 
L 95.074319 251.323196 
L 95.172923 251.098191 
L 95.271527 250.873185 
L 95.370132 250.648179 
L 95.468736 250.423173 
L 95.567341 250.198167 
L 95.665945 249.973161 
L 95.764549 249.748156 
L 95.863154 249.52315 
L 95.961758 249.298144 
L 95.961758 249.298144 
L 96.060363 249.118139 
L 96.158967 248.938134 
L 96.257571 248.75813 
L 96.356176 248.578125 
L 96.45478 248.39812 
L 96.553385 248.218116 
L 96.651989 248.038111 
L 96.750593 247.858106 
L 96.849198 247.678102 
L 96.947802 247.498097 
L 97.046407 247.318092 
L 97.145011 247.138088 
L 97.243615 246.958083 
L 97.34222 246.778078 
L 97.440824 246.598074 
L 97.539429 246.418069 
L 97.638033 246.238064 
L 97.736637 246.05806 
L 97.835242 245.878055 
L 97.933846 245.69805 
L 97.933846 245.69805 
L 98.032451 245.518046 
L 98.131055 245.338041 
L 98.229659 245.158036 
L 98.328264 244.978032 
L 98.426868 244.798027 
L 98.525473 244.618022 
L 98.624077 244.438018 
L 98.722681 244.258013 
L 98.821286 244.078008 
L 98.91989 243.898004 
L 99.018495 243.717999 
L 99.117099 243.537994 
L 99.215703 243.35799 
L 99.314308 243.177985 
L 99.412912 242.99798 
L 99.511516 242.817976 
L 99.610121 242.637971 
L 99.708725 242.457966 
L 99.80733 242.277962 
L 99.905934 242.097957 
L 100.004538 242.277962 
L 100.103143 242.457966 
L 100.201747 242.637971 
L 100.300352 242.817976 
L 100.398956 242.99798 
L 100.49756 243.177985 
L 100.596165 243.35799 
L 100.694769 243.537994 
L 100.793374 243.717999 
L 100.891978 243.898004 
L 100.990582 244.078008 
L 101.089187 244.258013 
L 101.187791 244.438018 
L 101.286396 244.618022 
L 101.385 244.798027 
L 101.483604 244.978032 
L 101.582209 245.158036 
L 101.680813 245.338041 
L 101.779418 245.518046 
L 101.878022 245.69805 
L 101.878022 245.69805 
L 101.976626 245.878055 
L 102.075231 246.05806 
L 102.173835 246.238064 
L 102.27244 246.418069 
L 102.371044 246.598074 
L 102.469648 246.778078 
L 102.568253 246.958083 
L 102.666857 247.138088 
L 102.765462 247.318092 
L 102.864066 247.498097 
L 102.96267 247.678102 
L 103.061275 247.858106 
L 103.159879 248.038111 
L 103.258484 248.218116 
L 103.357088 248.39812 
L 103.455692 248.578125 
L 103.554297 248.75813 
L 103.652901 248.938134 
L 103.751505 249.118139 
L 103.85011 249.298144 
L 103.85011 249.298144 
L 103.948714 249.208142 
L 104.047319 249.118139 
L 104.145923 249.028137 
L 104.178791 248.998136 
L 104.145923 249.298144 
L 104.047319 250.198167 
L 103.948714 251.098191 
L 103.85011 251.998214 
L 103.85011 251.998214 
L 103.751505 253.348249 
L 103.652901 254.698284 
L 103.554297 256.048319 
L 103.455692 257.398354 
L 103.357088 258.748389 
L 103.258484 260.098424 
L 103.159879 261.448459 
L 103.061275 262.798495 
L 102.96267 264.14853 
L 102.864066 265.498565 
L 102.765462 266.8486 
L 102.666857 268.198635 
L 102.568253 269.54867 
L 102.469648 270.898705 
L 102.371044 272.24874 
L 102.27244 273.598775 
L 102.173835 274.94881 
L 102.075231 276.298845 
L 101.976626 277.64888 
L 101.878022 278.998915 
L 101.878022 278.998915 
L 101.779418 278.458901 
L 101.680813 277.918887 
L 101.582209 277.378873 
L 101.483604 276.838859 
L 101.385 276.298845 
L 101.286396 275.758831 
L 101.187791 275.218817 
L 101.089187 274.678803 
L 100.990582 274.138789 
L 100.891978 273.598775 
L 100.793374 273.058761 
L 100.694769 272.518747 
L 100.596165 271.978733 
L 100.49756 271.438719 
L 100.398956 270.898705 
L 100.300352 270.358691 
L 100.201747 269.818677 
L 100.103143 269.278663 
L 100.004538 268.738649 
L 99.905934 268.198635 
L 99.80733 267.793624 
L 99.708725 267.388614 
L 99.610121 266.983603 
L 99.511516 266.578593 
L 99.412912 266.173582 
L 99.314308 265.768572 
L 99.215703 265.363561 
L 99.117099 264.958551 
L 99.018495 264.55354 
L 98.91989 264.14853 
L 98.821286 263.743519 
L 98.722681 263.338509 
L 98.624077 262.933498 
L 98.525473 262.528487 
L 98.426868 262.123477 
L 98.328264 261.718466 
L 98.229659 261.313456 
L 98.131055 260.908445 
L 98.032451 260.503435 
L 97.933846 260.098424 
L 97.933846 260.098424 
L 97.835242 260.233428 
L 97.736637 260.368431 
L 97.638033 260.503435 
L 97.539429 260.638438 
L 97.440824 260.773442 
L 97.34222 260.908445 
L 97.243615 261.043449 
L 97.145011 261.178452 
L 97.046407 261.313456 
L 96.947802 261.448459 
L 96.849198 261.583463 
L 96.750593 261.718466 
L 96.651989 261.85347 
L 96.553385 261.988473 
L 96.45478 262.123477 
L 96.356176 262.25848 
L 96.257571 262.393484 
L 96.158967 262.528487 
L 96.060363 262.663491 
L 95.961758 262.798495 
L 95.961758 262.798495 
L 95.863154 263.0235 
L 95.764549 263.248506 
L 95.665945 263.473512 
L 95.567341 263.698518 
L 95.468736 263.923524 
L 95.370132 264.14853 
L 95.271527 264.373535 
L 95.172923 264.598541 
L 95.074319 264.823547 
L 94.975714 265.048553 
L 94.87711 265.273559 
L 94.778505 265.498565 
L 94.679901 265.72357 
L 94.581297 265.948576 
L 94.482692 266.173582 
L 94.384088 266.398588 
L 94.285484 266.623594 
L 94.186879 266.8486 
L 94.088275 267.073606 
L 93.98967 267.298611 
L 93.891066 267.25361 
L 93.792462 267.208609 
L 93.693857 267.163608 
L 93.595253 267.118607 
L 93.496648 267.073606 
L 93.398044 267.028604 
L 93.29944 266.983603 
L 93.200835 266.938602 
L 93.102231 266.893601 
L 93.003626 266.8486 
L 92.905022 266.803599 
L 92.806418 266.758597 
L 92.707813 266.713596 
L 92.609209 266.668595 
L 92.510604 266.623594 
L 92.412 266.578593 
L 92.313396 266.533592 
L 92.214791 266.48859 
L 92.116187 266.443589 
L 92.017582 266.398588 
L 91.918978 266.803599 
L 91.820374 267.208609 
L 91.721769 267.61362 
L 91.623165 268.01863 
L 91.52456 268.423641 
L 91.425956 268.828651 
L 91.327352 269.233662 
L 91.228747 269.638672 
L 91.130143 270.043683 
L 91.031538 270.448693 
L 90.932934 270.853704 
L 90.83433 271.258714 
L 90.735725 271.663725 
L 90.637121 272.068735 
L 90.538516 272.473746 
L 90.439912 272.878756 
L 90.341308 273.283767 
L 90.242703 273.688777 
L 90.144099 274.093788 
L 90.045495 274.498798 
L 90.045495 274.498798 
L 89.94689 274.453797 
L 89.848286 274.408796 
L 89.749681 274.363795 
L 89.651077 274.318794 
L 89.552473 274.273793 
L 89.453868 274.228791 
L 89.355264 274.18379 
L 89.256659 274.138789 
L 89.158055 274.093788 
L 89.059451 274.048787 
L 88.960846 274.003786 
L 88.862242 273.958784 
L 88.763637 273.913783 
L 88.665033 273.868782 
L 88.566429 273.823781 
L 88.467824 273.77878 
L 88.36922 273.733779 
L 88.270615 273.688777 
L 88.172011 273.643776 
L 88.073407 273.598775 
L 87.974802 272.518747 
L 87.876198 271.438719 
L 87.777593 270.358691 
L 87.678989 269.278663 
L 87.580385 268.198635 
L 87.48178 267.118607 
L 87.383176 266.038579 
L 87.284571 264.958551 
L 87.185967 263.878523 
L 87.087363 262.798495 
L 86.988758 261.718466 
L 86.890154 260.638438 
L 86.791549 259.55841 
L 86.692945 258.478382 
L 86.594341 257.398354 
z
" clip-path="url(#p9fedf73bd1)" style="fill: #8db1d3"/>
    <path d="M 114.55573 248.140971 
L 114.597989 248.083112 
L 114.696593 247.948109 
L 114.795198 247.813105 
L 114.893802 247.678102 
L 114.992407 247.543098 
L 115.091011 247.408095 
L 115.189615 247.273091 
L 115.28822 247.138088 
L 115.386824 247.003084 
L 115.485429 246.868081 
L 115.584033 246.733077 
L 115.682637 246.598074 
L 115.682637 246.598074 
L 115.781242 246.526072 
L 115.879846 246.45407 
L 115.978451 246.382068 
L 116.077055 246.310066 
L 116.175659 246.238064 
L 116.274264 246.166062 
L 116.372868 246.094061 
L 116.471473 246.022059 
L 116.570077 245.950057 
L 116.668681 245.878055 
L 116.767286 245.806053 
L 116.86589 245.734051 
L 116.964495 245.662049 
L 117.063099 245.590048 
L 117.161703 245.518046 
L 117.260308 245.446044 
L 117.358912 245.374042 
L 117.457516 245.30204 
L 117.556121 245.230038 
L 117.654725 245.158036 
L 117.654725 245.158036 
L 117.654725 252.898237 
L 117.556121 252.763234 
L 117.457516 252.62823 
L 117.358912 252.493227 
L 117.260308 252.358223 
L 117.161703 252.22322 
L 117.063099 252.088216 
L 116.964495 251.953213 
L 116.86589 251.818209 
L 116.767286 251.683206 
L 116.668681 251.548202 
L 116.570077 251.413199 
L 116.471473 251.278195 
L 116.372868 251.143192 
L 116.274264 251.008188 
L 116.175659 250.873185 
L 116.077055 250.738181 
L 115.978451 250.603178 
L 115.879846 250.468174 
L 115.781242 250.333171 
L 115.682637 250.198167 
L 115.682637 250.198167 
L 115.584033 250.018163 
L 115.485429 249.838158 
L 115.386824 249.658153 
L 115.28822 249.478149 
L 115.189615 249.298144 
L 115.091011 249.118139 
L 114.992407 248.938134 
L 114.893802 248.75813 
L 114.795198 248.578125 
L 114.696593 248.39812 
L 114.597989 248.218116 
z
" clip-path="url(#p9fedf73bd1)" style="fill: #8db1d3"/>
    <path d="M 126.618761 238.743324 
L 126.627725 238.76787 
L 126.72633 239.037877 
L 126.824934 239.307884 
L 126.923538 239.577891 
L 127.022143 239.847898 
L 127.120747 240.117905 
L 127.219352 240.387912 
L 127.317956 240.657919 
L 127.41656 240.927926 
L 127.515165 241.197933 
L 127.613769 241.422939 
L 127.712374 241.647945 
L 127.810978 241.872951 
L 127.909582 242.097957 
L 128.008187 242.322963 
L 128.106791 242.547969 
L 128.205396 242.772974 
L 128.304 242.99798 
L 128.402604 243.222986 
L 128.501209 243.447992 
L 128.599813 243.672998 
L 128.698418 243.898004 
L 128.797022 244.123009 
L 128.895626 244.348015 
L 128.994231 244.573021 
L 129.092835 244.798027 
L 129.19144 245.023033 
L 129.290044 245.248039 
L 129.388648 245.473044 
L 129.487253 245.69805 
L 129.487253 245.69805 
L 129.585857 245.635049 
L 129.684462 245.572047 
L 129.783066 245.509045 
L 129.88167 245.446044 
L 129.980275 245.383042 
L 130.078879 245.320041 
L 130.177484 245.257039 
L 130.276088 245.194037 
L 130.374692 245.131036 
L 130.473297 245.068034 
L 130.571901 245.005032 
L 130.670505 244.942031 
L 130.76911 244.879029 
L 130.867714 244.816027 
L 130.966319 244.753026 
L 131.064923 244.690024 
L 131.163527 244.627023 
L 131.262132 244.564021 
L 131.360736 244.501019 
L 131.459341 244.438018 
L 131.557945 244.231012 
L 131.656549 244.024007 
L 131.755154 243.817001 
L 131.846715 243.624782 
L 131.755154 244.753026 
L 131.656549 245.968057 
L 131.557945 247.183089 
L 131.459341 248.39812 
L 131.360736 249.028137 
L 131.262132 249.658153 
L 131.163527 250.28817 
L 131.064923 250.918186 
L 130.966319 251.548202 
L 130.867714 252.178219 
L 130.76911 252.808235 
L 130.670505 253.438251 
L 130.571901 254.068268 
L 130.473297 254.698284 
L 130.374692 255.3283 
L 130.276088 255.958317 
L 130.177484 256.588333 
L 130.078879 257.21835 
L 129.980275 257.848366 
L 129.88167 258.478382 
L 129.783066 259.108399 
L 129.684462 259.738415 
L 129.585857 260.368431 
L 129.487253 260.998448 
L 129.487253 260.998448 
L 129.388648 260.458434 
L 129.290044 259.91842 
L 129.19144 259.378406 
L 129.092835 258.838392 
L 128.994231 258.298378 
L 128.895626 257.758364 
L 128.797022 257.21835 
L 128.698418 256.678336 
L 128.599813 256.138322 
L 128.501209 255.598307 
L 128.402604 255.058293 
L 128.304 254.518279 
L 128.205396 253.978265 
L 128.106791 253.438251 
L 128.008187 252.898237 
L 127.909582 252.358223 
L 127.810978 251.818209 
L 127.712374 251.278195 
L 127.613769 250.738181 
L 127.515165 250.198167 
L 127.41656 248.938134 
L 127.317956 247.678102 
L 127.219352 246.418069 
L 127.120747 245.158036 
L 127.022143 243.898004 
L 126.923538 242.637971 
L 126.824934 241.377938 
L 126.72633 240.117905 
L 126.627725 238.857873 
z
" clip-path="url(#p9fedf73bd1)" style="fill: #8db1d3"/>
    <path d="M 139.206829 229.626204 
L 139.249088 229.587632 
L 139.347692 229.49763 
L 139.446297 229.632633 
L 139.544901 229.767637 
L 139.643505 229.90264 
L 139.74211 230.037644 
L 139.840714 230.172647 
L 139.939319 230.307651 
L 140.037923 230.442654 
L 140.136527 230.577658 
L 140.235132 230.712661 
L 140.333736 230.847665 
L 140.432341 230.982668 
L 140.530945 231.117672 
L 140.629549 231.252675 
L 140.728154 231.387679 
L 140.826758 231.522682 
L 140.925363 231.657686 
L 141.023967 231.792689 
L 141.122571 231.927693 
L 141.221176 232.062696 
L 141.31978 232.1977 
L 141.31978 232.1977 
L 141.418385 232.377704 
L 141.516989 232.557709 
L 141.615593 232.737714 
L 141.714198 232.917718 
L 141.812802 233.097723 
L 141.911407 233.277728 
L 142.010011 233.457732 
L 142.108615 233.637737 
L 142.20722 233.817742 
L 142.305824 233.997746 
L 142.404429 234.177751 
L 142.503033 234.357756 
L 142.601637 234.53776 
L 142.700242 234.717765 
L 142.798846 234.89777 
L 142.897451 235.077774 
L 142.996055 235.257779 
L 143.094659 235.437784 
L 143.193264 235.617789 
L 143.291868 235.797793 
L 143.390473 235.572787 
L 143.489077 235.347782 
L 143.587681 235.122776 
L 143.686286 234.89777 
L 143.78489 234.672764 
L 143.883495 234.447758 
L 143.982099 234.222752 
L 144.080703 233.997746 
L 144.179308 233.772741 
L 144.277912 233.547735 
L 144.376516 233.322729 
L 144.475121 233.097723 
L 144.573725 232.872717 
L 144.67233 232.647711 
L 144.770934 232.422706 
L 144.869538 232.1977 
L 144.968143 231.972694 
L 145.066747 231.747688 
L 145.165352 231.522682 
L 145.263956 231.297676 
L 145.36256 231.567683 
L 145.461165 231.83769 
L 145.559769 232.107697 
L 145.658374 232.377704 
L 145.756978 232.647711 
L 145.855582 232.917718 
L 145.954187 233.187725 
L 146.052791 233.457732 
L 146.151396 233.727739 
L 146.25 233.997746 
L 146.348604 234.267753 
L 146.447209 234.53776 
L 146.545813 234.807767 
L 146.644418 235.077774 
L 146.743022 235.347782 
L 146.841626 235.617789 
L 146.940231 235.887796 
L 147.038835 236.157803 
L 147.13744 236.42781 
L 147.236044 236.697817 
L 147.236044 236.697817 
L 147.334648 236.922822 
L 147.433253 237.147828 
L 147.531857 237.372834 
L 147.630462 237.59784 
L 147.654366 237.652387 
L 147.630462 237.957849 
L 147.531857 239.217882 
L 147.433253 240.477915 
L 147.334648 241.737947 
L 147.236044 242.99798 
L 147.236044 242.99798 
L 147.13744 243.672998 
L 147.038835 244.348015 
L 146.940231 245.023033 
L 146.841626 245.69805 
L 146.743022 246.373068 
L 146.644418 247.048085 
L 146.545813 247.723103 
L 146.447209 248.39812 
L 146.348604 249.073138 
L 146.25 249.748156 
L 146.151396 250.423173 
L 146.052791 251.098191 
L 145.954187 251.773208 
L 145.855582 252.448226 
L 145.756978 253.123243 
L 145.658374 253.798261 
L 145.559769 254.473278 
L 145.461165 255.148296 
L 145.36256 255.823313 
L 145.263956 256.498331 
L 145.165352 256.183323 
L 145.066747 255.868315 
L 144.968143 255.553306 
L 144.869538 255.238298 
L 144.770934 254.92329 
L 144.67233 254.608282 
L 144.573725 254.293274 
L 144.475121 253.978265 
L 144.376516 253.663257 
L 144.277912 253.348249 
L 144.179308 253.033241 
L 144.080703 252.718233 
L 143.982099 252.403224 
L 143.883495 252.088216 
L 143.78489 251.773208 
L 143.686286 251.4582 
L 143.587681 251.143192 
L 143.489077 250.828184 
L 143.390473 250.513175 
L 143.291868 250.198167 
L 143.193264 249.748156 
L 143.094659 249.298144 
L 142.996055 248.848132 
L 142.897451 248.39812 
L 142.798846 247.948109 
L 142.700242 247.498097 
L 142.601637 247.048085 
L 142.503033 246.598074 
L 142.404429 246.148062 
L 142.305824 245.69805 
L 142.20722 245.248039 
L 142.108615 244.798027 
L 142.010011 244.348015 
L 141.911407 243.898004 
L 141.812802 243.447992 
L 141.714198 242.99798 
L 141.615593 242.547969 
L 141.516989 242.097957 
L 141.418385 241.647945 
L 141.31978 241.197933 
L 141.31978 241.197933 
L 141.221176 240.657919 
L 141.122571 240.117905 
L 141.023967 239.577891 
L 140.925363 239.037877 
L 140.826758 238.497863 
L 140.728154 237.957849 
L 140.629549 237.417835 
L 140.530945 236.877821 
L 140.432341 236.337807 
L 140.333736 235.797793 
L 140.235132 235.257779 
L 140.136527 234.717765 
L 140.037923 234.177751 
L 139.939319 233.637737 
L 139.840714 233.097723 
L 139.74211 232.557709 
L 139.643505 232.017695 
L 139.544901 231.477681 
L 139.446297 230.937667 
L 139.347692 230.397653 
L 139.249088 229.857639 
z
" clip-path="url(#p9fedf73bd1)" style="fill: #8db1d3"/>
    <path d="M 153.152308 239.397887 
L 153.152308 239.397887 
L 153.152308 239.397887 
L 153.152308 239.397887 
z
" clip-path="url(#p9fedf73bd1)" style="fill: #8db1d3"/>
    <path d="M 174.665994 231.379497 
L 174.74667 231.342677 
L 174.845275 231.297676 
L 174.915706 231.522682 
L 174.845275 232.1977 
L 174.74667 231.747688 
z
" clip-path="url(#p9fedf73bd1)" style="fill: #8db1d3"/>
    <path d="M 178.789451 239.397887 
L 178.789451 239.397887 
L 178.888055 239.262883 
L 178.986659 239.12788 
L 179.085264 238.992876 
L 179.183868 238.857873 
L 179.282473 238.722869 
L 179.381077 238.587866 
L 179.479681 238.452862 
L 179.578286 238.317859 
L 179.67689 238.182855 
L 179.775495 238.047852 
L 179.874099 237.912848 
L 179.972703 237.777845 
L 180.071308 237.642841 
L 180.169912 237.507838 
L 180.268516 237.372834 
L 180.367121 237.237831 
L 180.465725 237.102827 
L 180.56433 236.967824 
L 180.662934 236.83282 
L 180.761538 236.697817 
L 180.860143 236.787819 
L 180.958747 236.877821 
L 181.057352 236.967824 
L 181.155956 237.057826 
L 181.25456 237.147828 
L 181.353165 237.237831 
L 181.451769 237.327833 
L 181.550374 237.417835 
L 181.648978 237.507838 
L 181.747582 237.59784 
L 181.846187 237.687842 
L 181.944791 237.777845 
L 182.043396 237.867847 
L 182.142 237.957849 
L 182.240604 238.047852 
L 182.339209 238.137854 
L 182.437813 238.227856 
L 182.536418 238.317859 
L 182.635022 238.407861 
L 182.733626 238.497863 
L 182.832231 238.227856 
L 182.930835 237.957849 
L 183.02944 237.687842 
L 183.128044 237.417835 
L 183.226648 237.147828 
L 183.325253 236.877821 
L 183.423857 236.607814 
L 183.522462 236.337807 
L 183.621066 236.0678 
L 183.71967 235.797793 
L 183.818275 235.527786 
L 183.916879 235.257779 
L 184.015484 234.987772 
L 184.114088 234.717765 
L 184.212692 234.447758 
L 184.311297 234.177751 
L 184.409901 233.907744 
L 184.508505 233.637737 
L 184.60711 233.36773 
L 184.705714 233.097723 
L 184.705714 233.097723 
L 184.804319 232.872717 
L 184.902923 232.647711 
L 185.001527 232.422706 
L 185.100132 232.1977 
L 185.198736 231.972694 
L 185.297341 231.747688 
L 185.395945 231.522682 
L 185.494549 231.297676 
L 185.593154 231.07267 
L 185.691758 230.847665 
L 185.790363 230.622659 
L 185.888967 230.397653 
L 185.987571 230.172647 
L 185.991859 230.162864 
L 185.987571 230.217648 
L 185.888967 231.477681 
L 185.790363 232.737714 
L 185.691758 233.997746 
L 185.593154 235.257779 
L 185.494549 236.517812 
L 185.395945 237.777845 
L 185.297341 239.037877 
L 185.198736 240.29791 
L 185.100132 241.557943 
L 185.001527 242.817976 
L 184.902923 244.078008 
L 184.804319 245.338041 
L 184.705714 246.598074 
L 184.705714 246.598074 
L 184.60711 247.138088 
L 184.508505 247.678102 
L 184.409901 248.218116 
L 184.311297 248.75813 
L 184.212692 249.298144 
L 184.114088 249.838158 
L 184.015484 250.378172 
L 183.916879 250.918186 
L 183.818275 251.4582 
L 183.71967 251.998214 
L 183.621066 252.538228 
L 183.522462 253.078242 
L 183.423857 253.618256 
L 183.325253 254.15827 
L 183.226648 254.698284 
L 183.128044 255.238298 
L 183.02944 255.778312 
L 182.930835 256.318326 
L 182.832231 256.85834 
L 182.733626 257.398354 
L 182.635022 257.308352 
L 182.536418 257.21835 
L 182.437813 257.128347 
L 182.339209 257.038345 
L 182.240604 256.948343 
L 182.142 256.85834 
L 182.043396 256.768338 
L 181.944791 256.678336 
L 181.846187 256.588333 
L 181.747582 256.498331 
L 181.648978 256.408329 
L 181.550374 256.318326 
L 181.451769 256.228324 
L 181.353165 256.138322 
L 181.25456 256.048319 
L 181.155956 255.958317 
L 181.057352 255.868315 
L 180.958747 255.778312 
L 180.860143 255.68831 
L 180.761538 255.598307 
L 180.662934 254.788286 
L 180.56433 253.978265 
L 180.465725 253.168244 
L 180.367121 252.358223 
L 180.268516 251.548202 
L 180.169912 250.738181 
L 180.071308 249.92816 
L 179.972703 249.118139 
L 179.874099 248.308118 
L 179.775495 247.498097 
L 179.67689 246.688076 
L 179.578286 245.878055 
L 179.479681 245.068034 
L 179.381077 244.258013 
L 179.282473 243.447992 
L 179.183868 242.637971 
L 179.085264 241.82795 
L 178.986659 241.017929 
L 178.888055 240.207908 
L 178.789451 239.397887 
z
" clip-path="url(#p9fedf73bd1)" style="fill: #8db1d3"/>
    <path d="M 187.141823 226.479904 
L 187.170824 226.347548 
L 187.269429 225.897536 
L 187.368033 225.447524 
L 187.466637 224.997513 
L 187.565242 224.547501 
L 187.663846 224.097489 
L 187.762451 223.647478 
L 187.861055 223.197466 
L 187.959659 222.747454 
L 188.058264 222.297443 
L 188.156868 221.847431 
L 188.255473 221.397419 
L 188.354077 220.947407 
L 188.452681 220.497396 
L 188.551286 220.047384 
L 188.64989 219.597372 
L 188.748495 219.552371 
L 188.847099 219.50737 
L 188.945703 219.462369 
L 189.044308 219.417368 
L 189.142912 219.372367 
L 189.241516 219.327365 
L 189.340121 219.282364 
L 189.438725 219.237363 
L 189.53733 219.192362 
L 189.635934 219.147361 
L 189.734538 219.10236 
L 189.833143 219.057358 
L 189.931747 219.012357 
L 190.030352 218.967356 
L 190.128956 218.922355 
L 190.22756 218.877354 
L 190.326165 218.832353 
L 190.424769 218.787351 
L 190.523374 218.74235 
L 190.621978 218.697349 
L 190.720582 219.012357 
L 190.819187 219.327365 
L 190.917791 219.642374 
L 191.016396 219.957382 
L 191.115 220.27239 
L 191.213604 220.587398 
L 191.312209 220.902406 
L 191.410813 221.217414 
L 191.509418 221.532423 
L 191.608022 221.847431 
L 191.706626 222.162439 
L 191.805231 222.477447 
L 191.903835 222.792455 
L 192.00244 223.107464 
L 192.101044 223.422472 
L 192.199648 223.73748 
L 192.298253 224.052488 
L 192.396857 224.367496 
L 192.460365 224.570383 
L 192.396857 226.077541 
L 192.298253 228.417601 
L 192.199648 230.757662 
L 192.101044 233.097723 
L 192.00244 235.437784 
L 191.903835 237.777845 
L 191.805231 240.117905 
L 191.706626 242.457966 
L 191.608022 244.798027 
L 191.509418 247.138088 
L 191.410813 249.478149 
L 191.312209 251.818209 
L 191.213604 254.15827 
L 191.115 256.498331 
L 191.016396 258.838392 
L 190.917791 261.178452 
L 190.819187 263.518513 
L 190.720582 265.858574 
L 190.621978 268.198635 
L 190.523374 266.938602 
L 190.424769 265.678569 
L 190.326165 264.418537 
L 190.22756 263.158504 
L 190.128956 261.898471 
L 190.030352 260.638438 
L 189.931747 259.378406 
L 189.833143 258.118373 
L 189.734538 256.85834 
L 189.635934 255.598307 
L 189.53733 254.338275 
L 189.438725 253.078242 
L 189.340121 251.818209 
L 189.241516 250.558177 
L 189.142912 249.298144 
L 189.044308 248.038111 
L 188.945703 246.778078 
L 188.847099 245.518046 
L 188.748495 244.258013 
L 188.64989 242.99798 
L 188.551286 241.917952 
L 188.452681 240.837924 
L 188.354077 239.757896 
L 188.255473 238.677868 
L 188.156868 237.59784 
L 188.058264 236.517812 
L 187.959659 235.437784 
L 187.861055 234.357756 
L 187.762451 233.277728 
L 187.663846 232.1977 
L 187.565242 231.117672 
L 187.466637 230.037644 
L 187.368033 228.957616 
L 187.269429 227.877587 
L 187.170824 226.797559 
z
" clip-path="url(#p9fedf73bd1)" style="fill: #8db1d3"/>
    <path d="M 199.086786 225.288289 
L 199.101956 225.177517 
L 199.20056 224.457499 
L 199.299165 223.73748 
L 199.397769 223.017461 
L 199.496374 222.297443 
L 199.594978 221.577424 
L 199.693582 220.857405 
L 199.792187 220.137386 
L 199.890791 219.417368 
L 199.989396 218.697349 
L 200.088 217.97733 
L 200.186604 217.257312 
L 200.285209 216.537293 
L 200.383813 215.817274 
L 200.482418 215.097256 
L 200.581022 215.232259 
L 200.679626 215.367263 
L 200.778231 215.502266 
L 200.876835 215.63727 
L 200.97544 215.772273 
L 201.074044 215.907277 
L 201.172648 216.04228 
L 201.271253 216.177284 
L 201.369857 216.312287 
L 201.468462 216.447291 
L 201.567066 216.582294 
L 201.66567 216.717298 
L 201.764275 216.852301 
L 201.862879 216.987305 
L 201.961484 217.122308 
L 202.060088 217.257312 
L 202.102347 217.31517 
L 202.060088 217.473317 
L 201.961484 217.842327 
L 201.862879 218.211336 
L 201.764275 218.580346 
L 201.66567 218.949356 
L 201.567066 219.318365 
L 201.468462 219.687375 
L 201.369857 220.056384 
L 201.271253 220.425394 
L 201.172648 220.794403 
L 201.074044 221.163413 
L 200.97544 221.532423 
L 200.876835 221.901432 
L 200.778231 222.270442 
L 200.679626 222.639451 
L 200.581022 223.008461 
L 200.482418 223.377471 
L 200.383813 223.512474 
L 200.285209 223.647478 
L 200.186604 223.782481 
L 200.088 223.917485 
L 199.989396 224.052488 
L 199.890791 224.187492 
L 199.792187 224.322495 
L 199.693582 224.457499 
L 199.594978 224.592502 
L 199.496374 224.727506 
L 199.397769 224.862509 
L 199.299165 224.997513 
L 199.20056 225.132516 
L 199.101956 225.26752 
z
" clip-path="url(#p9fedf73bd1)" style="fill: #8db1d3"/>
    <path d="M 211.657582 224.397497 
L 211.723319 224.637503 
L 211.821923 224.997513 
L 211.920527 225.357522 
L 212.019132 225.717531 
L 212.117736 226.077541 
L 212.216341 226.43755 
L 212.314945 226.797559 
L 212.413549 226.527552 
L 212.512154 226.257545 
L 212.610758 225.987538 
L 212.709363 225.717531 
L 212.807967 225.447524 
L 212.906571 225.177517 
L 212.972308 224.997513 
L 212.906571 225.447524 
L 212.807967 226.122542 
L 212.709363 226.797559 
L 212.610758 227.472577 
L 212.512154 228.147594 
L 212.413549 228.822612 
L 212.314945 229.49763 
L 212.216341 228.73261 
L 212.117736 227.96759 
L 212.019132 227.20257 
L 211.920527 226.43755 
L 211.821923 225.67253 
L 211.723319 224.90751 
z
" clip-path="url(#p9fedf73bd1)" style="fill: #8db1d3"/>
    <path d="M 222.630482 219.666605 
L 222.668407 219.597372 
L 222.767011 219.417368 
L 222.865615 219.237363 
L 222.96422 219.057358 
L 223.062824 218.877354 
L 223.161429 218.697349 
L 223.260033 218.517344 
L 223.358637 218.33734 
L 223.457242 218.157335 
L 223.555846 217.97733 
L 223.654451 217.797326 
L 223.753055 217.617321 
L 223.851659 217.437316 
L 223.950264 217.257312 
L 224.048868 217.077307 
L 224.147473 216.897302 
L 224.246077 216.852301 
L 224.344681 216.8073 
L 224.443286 216.762299 
L 224.54189 216.717298 
L 224.640495 216.672296 
L 224.739099 216.627295 
L 224.837703 216.582294 
L 224.936308 216.537293 
L 225.034912 216.492292 
L 225.133516 216.447291 
L 225.232121 216.402289 
L 225.330725 216.357288 
L 225.42933 216.312287 
L 225.527934 216.267286 
L 225.626538 216.222285 
L 225.725143 216.177284 
L 225.823747 216.132282 
L 225.922352 216.087281 
L 226.020956 216.04228 
L 226.11956 215.997279 
L 226.218165 216.087281 
L 226.316769 216.177284 
L 226.415374 216.267286 
L 226.513978 216.357288 
L 226.612582 216.447291 
L 226.711187 216.537293 
L 226.809791 216.627295 
L 226.908396 216.717298 
L 227.007 216.8073 
L 227.105604 216.897302 
L 227.204209 216.987305 
L 227.302813 217.077307 
L 227.401418 217.167309 
L 227.500022 217.257312 
L 227.598626 217.347314 
L 227.697231 217.437316 
L 227.795835 217.527319 
L 227.89444 217.617321 
L 227.993044 217.707323 
L 228.091648 217.797326 
L 228.190253 217.527319 
L 228.288857 217.257312 
L 228.387462 216.987305 
L 228.486066 216.717298 
L 228.58467 216.447291 
L 228.683275 216.177284 
L 228.781879 215.907277 
L 228.880484 215.63727 
L 228.979088 215.367263 
L 229.077692 215.097256 
L 229.176297 214.827248 
L 229.274901 214.557241 
L 229.373505 214.287234 
L 229.47211 214.017227 
L 229.570714 213.74722 
L 229.669319 213.477213 
L 229.767923 213.207206 
L 229.866527 212.937199 
L 229.965132 212.667192 
L 230.063736 212.397185 
L 230.063736 212.397185 
L 230.162341 211.947174 
L 230.260945 211.497162 
L 230.359549 211.04715 
L 230.458154 210.597139 
L 230.556758 210.147127 
L 230.655363 209.697115 
L 230.753967 209.247104 
L 230.852571 208.797092 
L 230.951176 208.34708 
L 231.04978 207.897068 
L 231.148385 207.447057 
L 231.246989 206.997045 
L 231.345593 206.547033 
L 231.444198 206.097022 
L 231.542802 205.64701 
L 231.641407 205.196998 
L 231.740011 204.746987 
L 231.838615 204.296975 
L 231.93722 203.846963 
L 232.035824 203.396952 
L 232.035824 203.396952 
L 232.134429 203.846963 
L 232.233033 204.296975 
L 232.331637 204.746987 
L 232.430242 205.196998 
L 232.528846 205.64701 
L 232.627451 206.097022 
L 232.726055 206.547033 
L 232.824659 206.997045 
L 232.923264 207.447057 
L 233.021868 207.897068 
L 233.120473 208.34708 
L 233.219077 208.797092 
L 233.317681 209.247104 
L 233.416286 209.697115 
L 233.51489 210.147127 
L 233.613495 210.597139 
L 233.712099 211.04715 
L 233.810703 211.497162 
L 233.909308 211.947174 
L 234.007912 212.397185 
L 234.007912 212.397185 
L 234.106516 212.442187 
L 234.205121 212.487188 
L 234.303725 212.532189 
L 234.40233 212.57719 
L 234.500934 212.622191 
L 234.599538 212.667192 
L 234.698143 212.712194 
L 234.796747 212.757195 
L 234.895352 212.802196 
L 234.993956 212.847197 
L 235.09256 212.892198 
L 235.191165 212.937199 
L 235.289769 212.982201 
L 235.388374 213.027202 
L 235.486978 213.072203 
L 235.585582 213.117204 
L 235.684187 213.162205 
L 235.782791 213.207206 
L 235.881396 213.252208 
L 235.98 213.297209 
L 236.078604 213.162205 
L 236.177209 213.027202 
L 236.275813 212.892198 
L 236.374418 212.757195 
L 236.473022 212.622191 
L 236.571626 212.487188 
L 236.670231 212.352184 
L 236.768835 212.217181 
L 236.86744 212.082177 
L 236.966044 211.947174 
L 237.064648 211.81217 
L 237.163253 211.677167 
L 237.261857 211.542163 
L 237.360462 211.40716 
L 237.388634 211.368587 
L 237.360462 211.42516 
L 237.261857 211.623165 
L 237.163253 211.82117 
L 237.064648 212.019176 
L 236.966044 212.217181 
L 236.86744 212.415186 
L 236.768835 212.613191 
L 236.670231 212.811196 
L 236.571626 213.009201 
L 236.473022 213.207206 
L 236.374418 213.405212 
L 236.275813 213.603217 
L 236.177209 213.801222 
L 236.078604 213.999227 
L 235.98 214.197232 
L 235.881396 214.197232 
L 235.782791 214.197232 
L 235.684187 214.197232 
L 235.585582 214.197232 
L 235.486978 214.197232 
L 235.388374 214.197232 
L 235.289769 214.197232 
L 235.191165 214.197232 
L 235.09256 214.197232 
L 234.993956 214.197232 
L 234.895352 214.197232 
L 234.796747 214.197232 
L 234.698143 214.197232 
L 234.599538 214.197232 
L 234.500934 214.197232 
L 234.40233 214.197232 
L 234.303725 214.197232 
L 234.205121 214.197232 
L 234.106516 214.197232 
L 234.007912 214.197232 
L 234.007912 214.197232 
L 233.909308 213.657218 
L 233.810703 213.117204 
L 233.712099 212.57719 
L 233.613495 212.037176 
L 233.51489 211.497162 
L 233.416286 210.957148 
L 233.317681 210.417134 
L 233.219077 209.87712 
L 233.120473 209.337106 
L 233.021868 208.797092 
L 232.923264 208.257078 
L 232.824659 207.717064 
L 232.726055 207.17705 
L 232.627451 206.637036 
L 232.528846 206.097022 
L 232.430242 205.557008 
L 232.331637 205.016994 
L 232.233033 204.47698 
L 232.134429 203.936966 
L 232.035824 203.396952 
L 232.035824 203.396952 
L 231.93722 204.47698 
L 231.838615 205.557008 
L 231.740011 206.637036 
L 231.641407 207.717064 
L 231.542802 208.797092 
L 231.444198 209.87712 
L 231.345593 210.957148 
L 231.246989 212.037176 
L 231.148385 213.117204 
L 231.04978 214.197232 
L 230.951176 215.27726 
L 230.852571 216.357288 
L 230.753967 217.437316 
L 230.655363 218.517344 
L 230.556758 219.597372 
L 230.458154 220.6774 
L 230.359549 221.757429 
L 230.260945 222.837457 
L 230.162341 223.917485 
L 230.063736 224.997513 
L 230.063736 224.997513 
L 229.965132 225.897536 
L 229.866527 226.797559 
L 229.767923 227.697583 
L 229.669319 228.597606 
L 229.570714 229.49763 
L 229.47211 230.397653 
L 229.373505 231.297676 
L 229.274901 232.1977 
L 229.176297 233.097723 
L 229.077692 233.997746 
L 228.979088 234.89777 
L 228.880484 235.797793 
L 228.781879 236.697817 
L 228.683275 237.59784 
L 228.58467 238.497863 
L 228.486066 239.397887 
L 228.387462 240.29791 
L 228.288857 241.197933 
L 228.190253 242.097957 
L 228.091648 242.99798 
L 227.993044 242.547969 
L 227.89444 242.097957 
L 227.795835 241.647945 
L 227.697231 241.197933 
L 227.598626 240.747922 
L 227.500022 240.29791 
L 227.401418 239.847898 
L 227.302813 239.397887 
L 227.204209 238.947875 
L 227.105604 238.497863 
L 227.007 238.047852 
L 226.908396 237.59784 
L 226.809791 237.147828 
L 226.711187 236.697817 
L 226.612582 236.247805 
L 226.513978 235.797793 
L 226.415374 235.347782 
L 226.316769 234.89777 
L 226.218165 234.447758 
L 226.11956 233.997746 
L 226.020956 233.772741 
L 225.922352 233.547735 
L 225.823747 233.322729 
L 225.725143 233.097723 
L 225.626538 232.872717 
L 225.527934 232.647711 
L 225.42933 232.422706 
L 225.330725 232.1977 
L 225.232121 231.972694 
L 225.133516 231.747688 
L 225.034912 231.522682 
L 224.936308 231.297676 
L 224.837703 231.07267 
L 224.739099 230.847665 
L 224.640495 230.622659 
L 224.54189 230.397653 
L 224.443286 230.172647 
L 224.344681 229.947641 
L 224.246077 229.722635 
L 224.147473 229.49763 
L 224.048868 228.858613 
L 223.950264 228.219596 
L 223.851659 227.58058 
L 223.753055 226.941563 
L 223.654451 226.302547 
L 223.555846 225.66353 
L 223.457242 225.024513 
L 223.358637 224.385497 
L 223.260033 223.74648 
L 223.161429 223.107464 
L 223.062824 222.468447 
L 222.96422 221.82943 
L 222.865615 221.190414 
L 222.767011 220.551397 
L 222.668407 219.912381 
z
" clip-path="url(#p9fedf73bd1)" style="fill: #8db1d3"/>
    <path d="M 255.874467 210.254783 
L 255.898088 210.10119 
L 255.996692 209.460013 
L 256.095297 208.818837 
L 256.193901 208.17766 
L 256.292505 207.536483 
L 256.39111 206.895307 
L 256.489714 206.25413 
L 256.588319 205.612953 
L 256.686923 204.971777 
L 256.785527 204.3306 
L 256.884132 203.689423 
L 256.982736 203.048247 
L 257.081341 202.40707 
L 257.179945 202.009578 
L 257.278549 201.746531 
L 257.377154 201.483485 
L 257.475758 201.220438 
L 257.574363 200.957391 
L 257.672967 200.694344 
L 257.771571 200.431297 
L 257.870176 200.16825 
L 257.96878 199.905204 
L 258.067385 199.642157 
L 258.165989 199.37911 
L 258.264593 199.116063 
L 258.363198 198.853016 
L 258.461802 198.589969 
L 258.560407 198.326923 
L 258.659011 198.063876 
L 258.757615 197.800829 
L 258.85622 197.537782 
L 258.954824 197.274735 
L 259.053429 197.011688 
L 259.152033 196.748642 
L 259.250637 196.485595 
L 259.332968 196.265962 
L 259.250637 197.708804 
L 259.152033 199.436849 
L 259.053429 201.164894 
L 258.954824 202.892939 
L 258.85622 204.620983 
L 258.757615 206.349028 
L 258.659011 208.077073 
L 258.560407 209.805118 
L 258.461802 211.533163 
L 258.363198 213.261208 
L 258.264593 214.989253 
L 258.165989 216.717298 
L 258.067385 218.445342 
L 257.96878 220.173387 
L 257.870176 221.901432 
L 257.771571 223.629477 
L 257.672967 225.357522 
L 257.574363 224.529501 
L 257.475758 223.701479 
L 257.377154 222.873457 
L 257.278549 222.045436 
L 257.179945 221.217414 
L 257.081341 220.389393 
L 256.982736 219.561371 
L 256.884132 218.73335 
L 256.785527 217.905328 
L 256.686923 217.077307 
L 256.588319 216.249285 
L 256.489714 215.421264 
L 256.39111 214.593242 
L 256.292505 213.765221 
L 256.193901 212.937199 
L 256.095297 212.109178 
L 255.996692 211.281156 
L 255.898088 210.453135 
z
" clip-path="url(#p9fedf73bd1)" style="fill: #8db1d3"/>
   </g>
   <g id="matplotlib.axis_1">
    <g id="xtick_1">
     <g id="line2d_20">
      <defs>
       <path id="maa82f82e00" d="M 0 0 
L 0 3.5 
" style="stroke: #000000; stroke-width: 0.8"/>
      </defs>
      <g>
       <use href="#maa82f82e00" x="56.52" y="320.76" style="stroke: #000000; stroke-width: 0.8"/>
      </g>
     </g>
     <g id="text_1">
      <text style="font-size: 12px; font-family: 'DejaVu Sans', 'Liberation Sans', sans-serif; text-anchor: middle" x="56.52" y="336.878125" transform="translate(56.520 337.526) scale(0.965 1.077) translate(-56.520 -336.878)">Ene</text>
     </g>
    </g>
    <g id="xtick_2">
     <g id="line2d_21">
      <g>
       <use href="#maa82f82e00" x="117.654725" y="320.76" style="stroke: #000000; stroke-width: 0.8"/>
      </g>
     </g>
     <g id="text_2">
      <text style="font-size: 12px; font-family: 'DejaVu Sans', 'Liberation Sans', sans-serif; text-anchor: middle" x="117.654725" y="336.878125" transform="translate(117.655 337.526) scale(0.965 1.077) translate(-117.655 -336.878)">Feb</text>
     </g>
    </g>
    <g id="xtick_3">
     <g id="line2d_22">
      <g>
       <use href="#maa82f82e00" x="172.873187" y="320.76" style="stroke: #000000; stroke-width: 0.8"/>
      </g>
     </g>
     <g id="text_3">
      <text style="font-size: 12px; font-family: 'DejaVu Sans', 'Liberation Sans', sans-serif; text-anchor: middle" x="172.873187" y="336.878125" transform="translate(172.873 337.526) scale(0.965 1.077) translate(-172.873 -336.878)">Mar</text>
     </g>
    </g>
    <g id="xtick_4">
     <g id="line2d_23">
      <g>
       <use href="#maa82f82e00" x="234.007912" y="320.76" style="stroke: #000000; stroke-width: 0.8"/>
      </g>
     </g>
     <g id="text_4">
      <text style="font-size: 12px; font-family: 'DejaVu Sans', 'Liberation Sans', sans-serif; text-anchor: middle" x="234.007912" y="336.878125" transform="translate(234.008 337.526) scale(0.965 1.077) translate(-234.008 -336.878)">Abr</text>
     </g>
    </g>
    <g id="xtick_5">
     <g id="line2d_24">
      <g>
       <use href="#maa82f82e00" x="293.170549" y="320.76" style="stroke: #000000; stroke-width: 0.8"/>
      </g>
     </g>
     <g id="text_5">
      <text style="font-size: 12px; font-family: 'DejaVu Sans', 'Liberation Sans', sans-serif; text-anchor: middle" x="293.170549" y="336.878125" transform="translate(293.171 337.526) scale(0.965 1.077) translate(-293.171 -336.878)">May</text>
     </g>
    </g>
    <g id="xtick_6">
     <g id="line2d_25">
      <g>
       <use href="#maa82f82e00" x="354.305275" y="320.76" style="stroke: #000000; stroke-width: 0.8"/>
      </g>
     </g>
     <g id="text_6">
      <text style="font-size: 12px; font-family: 'DejaVu Sans', 'Liberation Sans', sans-serif; text-anchor: middle" x="354.305275" y="336.878125" transform="translate(354.305 337.526) scale(0.965 1.077) translate(-354.305 -336.878)">Jun</text>
     </g>
    </g>
    <g id="xtick_7">
     <g id="line2d_26">
      <g>
       <use href="#maa82f82e00" x="413.467912" y="320.76" style="stroke: #000000; stroke-width: 0.8"/>
      </g>
     </g>
     <g id="text_7">
      <text style="font-size: 12px; font-family: 'DejaVu Sans', 'Liberation Sans', sans-serif; text-anchor: middle" x="413.467912" y="336.878125" transform="translate(413.468 337.526) scale(0.965 1.077) translate(-413.468 -336.878)">Jul</text>
     </g>
    </g>
    <g id="xtick_8">
     <g id="line2d_27">
      <g>
       <use href="#maa82f82e00" x="474.602637" y="320.76" style="stroke: #000000; stroke-width: 0.8"/>
      </g>
     </g>
     <g id="text_8">
      <text style="font-size: 12px; font-family: 'DejaVu Sans', 'Liberation Sans', sans-serif; text-anchor: middle" x="474.602637" y="336.878125" transform="translate(474.603 337.526) scale(0.965 1.077) translate(-474.603 -336.878)">Ago</text>
     </g>
    </g>
    <g id="xtick_9">
     <g id="line2d_28">
      <g>
       <use href="#maa82f82e00" x="535.737363" y="320.76" style="stroke: #000000; stroke-width: 0.8"/>
      </g>
     </g>
     <g id="text_9">
      <text style="font-size: 12px; font-family: 'DejaVu Sans', 'Liberation Sans', sans-serif; text-anchor: middle" x="535.737363" y="336.878125" transform="translate(535.737 337.526) scale(0.965 1.077) translate(-535.737 -336.878)">Sep</text>
     </g>
    </g>
    <g id="xtick_10">
     <g id="line2d_29">
      <g>
       <use href="#maa82f82e00" x="594.9" y="320.76" style="stroke: #000000; stroke-width: 0.8"/>
      </g>
     </g>
     <g id="text_10">
      <text style="font-size: 12px; font-family: 'DejaVu Sans', 'Liberation Sans', sans-serif; text-anchor: middle" x="594.9" y="336.878125" transform="translate(594.900 337.526) scale(0.965 1.077) translate(-594.900 -336.878)">Oct</text>
     </g>
    </g>
    <g id="xtick_11">
     <g id="line2d_30">
      <g>
       <use href="#maa82f82e00" x="656.034725" y="320.76" style="stroke: #000000; stroke-width: 0.8"/>
      </g>
     </g>
     <g id="text_11">
      <text style="font-size: 12px; font-family: 'DejaVu Sans', 'Liberation Sans', sans-serif; text-anchor: middle" x="656.034725" y="336.878125" transform="translate(656.035 337.526) scale(0.965 1.077) translate(-656.035 -336.878)">Nov</text>
     </g>
    </g>
    <g id="xtick_12">
     <g id="line2d_31">
      <g>
       <use href="#maa82f82e00" x="715.197363" y="320.76" style="stroke: #000000; stroke-width: 0.8"/>
      </g>
     </g>
     <g id="text_12">
      <text style="font-size: 12px; font-family: 'DejaVu Sans', 'Liberation Sans', sans-serif; text-anchor: middle" x="715.197363" y="336.878125" transform="translate(715.197 337.526) scale(0.965 1.077) translate(-715.197 -336.878)">Dic</text>
     </g>
    </g>
   </g>
   <g id="matplotlib.axis_2">
    <g id="ytick_1">
     <g id="line2d_32">
      <defs>
       <path id="m008d21d8a5" d="M 0 0 
L -3.5 0 
" style="stroke: #000000; stroke-width: 0.8"/>
      </defs>
      <g>
       <use href="#m008d21d8a5" x="56.52" y="299.159439" style="stroke: #000000; stroke-width: 0.8"/>
      </g>
     </g>
     <g id="text_13">
      <text style="font-size: 14px; font-family: 'DejaVu Sans', 'Liberation Sans', sans-serif; text-anchor: end" x="49.52" y="304.478345" transform="rotate(-0 49.52 304.478345)">0</text>
     </g>
    </g>
    <g id="ytick_2">
     <g id="line2d_33">
      <g>
       <use href="#m008d21d8a5" x="56.52" y="264.980151" style="stroke: #000000; stroke-width: 0.8"/>
      </g>
     </g>
     <g id="text_14">
      <text style="font-size: 14px; font-family: 'DejaVu Sans', 'Liberation Sans', sans-serif; text-anchor: end" x="49.52" y="270.299057" transform="rotate(-0 49.52 270.299057)">5</text>
     </g>
    </g>
    <g id="ytick_3">
     <g id="line2d_34">
      <g>
       <use href="#m008d21d8a5" x="56.52" y="230.800863" style="stroke: #000000; stroke-width: 0.8"/>
      </g>
     </g>
     <g id="text_15">
      <text style="font-size: 14px; font-family: 'DejaVu Sans', 'Liberation Sans', sans-serif; text-anchor: end" x="49.52" y="236.11977" transform="rotate(-0 49.52 236.11977)">10</text>
     </g>
    </g>
    <g id="ytick_4">
     <g id="line2d_35">
      <g>
       <use href="#m008d21d8a5" x="56.52" y="196.621576" style="stroke: #000000; stroke-width: 0.8"/>
      </g>
     </g>
     <g id="text_16">
      <text style="font-size: 14px; font-family: 'DejaVu Sans', 'Liberation Sans', sans-serif; text-anchor: end" x="49.52" y="201.940482" transform="rotate(-0 49.52 201.940482)">15</text>
     </g>
    </g>
    <g id="ytick_5">
     <g id="line2d_36">
      <g>
       <use href="#m008d21d8a5" x="56.52" y="162.442288" style="stroke: #000000; stroke-width: 0.8"/>
      </g>
     </g>
     <g id="text_17">
      <text style="font-size: 14px; font-family: 'DejaVu Sans', 'Liberation Sans', sans-serif; text-anchor: end" x="49.52" y="167.761194" transform="rotate(-0 49.52 167.761194)">20</text>
     </g>
    </g>
    <g id="ytick_6">
     <g id="line2d_37">
      <g>
       <use href="#m008d21d8a5" x="56.52" y="128.263" style="stroke: #000000; stroke-width: 0.8"/>
      </g>
     </g>
     <g id="text_18">
      <text style="font-size: 14px; font-family: 'DejaVu Sans', 'Liberation Sans', sans-serif; text-anchor: end" x="49.52" y="133.581906" transform="rotate(-0 49.52 133.581906)">25</text>
     </g>
    </g>
    <g id="ytick_7">
     <g id="line2d_38">
      <g>
       <use href="#m008d21d8a5" x="56.52" y="94.083712" style="stroke: #000000; stroke-width: 0.8"/>
      </g>
     </g>
     <g id="text_19">
      <text style="font-size: 14px; font-family: 'DejaVu Sans', 'Liberation Sans', sans-serif; text-anchor: end" x="49.52" y="99.402619" transform="rotate(-0 49.52 99.402619)">30</text>
     </g>
    </g>
    <g id="ytick_8">
     <g id="line2d_39">
      <g>
       <use href="#m008d21d8a5" x="56.52" y="59.904425" style="stroke: #000000; stroke-width: 0.8"/>
      </g>
     </g>
     <g id="text_20">
      <text style="font-size: 14px; font-family: 'DejaVu Sans', 'Liberation Sans', sans-serif; text-anchor: end" x="49.52" y="65.223331" transform="rotate(-0 49.52 65.223331)">35</text>
     </g>
    </g>
   </g>
   <g id="FillBetweenPolyCollection_3">
    <path d="M 56.839765 220.064363 
L 56.914418 220.509581 
L 57.013022 221.097642 
L 57.111626 221.685704 
L 57.210231 222.273765 
L 57.308835 222.861826 
L 57.40744 223.449888 
L 57.506044 224.037949 
L 57.604648 224.626011 
L 57.703253 225.214072 
L 57.801857 225.802134 
L 57.900462 226.390195 
L 57.999066 226.978256 
L 58.09767 227.566318 
L 58.196275 228.154379 
L 58.294879 228.742441 
L 58.393484 229.314385 
L 58.492088 229.166421 
L 58.492088 229.166421 
L 58.590692 229.018457 
L 58.689297 228.870493 
L 58.787901 228.722529 
L 58.886505 228.574566 
L 58.98511 228.426602 
L 59.083714 228.278638 
L 59.182319 228.130674 
L 59.280923 227.98271 
L 59.379527 227.834746 
L 59.478132 227.686783 
L 59.576736 227.538819 
L 59.675341 227.390855 
L 59.773945 227.242891 
L 59.872549 227.094927 
L 59.971154 226.946963 
L 60.069758 226.798999 
L 60.168363 226.651036 
L 60.266967 226.503072 
L 60.365571 226.355108 
L 60.464176 226.207144 
L 60.464176 226.207144 
L 60.56278 226.082437 
L 60.661385 226.121894 
L 60.759989 226.161351 
L 60.762495 226.162354 
L 60.759989 226.149543 
L 60.661385 225.645529 
L 60.56278 225.141516 
L 60.464176 224.637503 
L 60.464176 224.637503 
L 60.365571 224.529501 
L 60.266967 224.421498 
L 60.168363 224.313495 
L 60.069758 224.205492 
L 59.971154 224.097489 
L 59.872549 223.989486 
L 59.773945 223.881484 
L 59.675341 223.773481 
L 59.576736 223.665478 
L 59.478132 223.557475 
L 59.379527 223.449472 
L 59.280923 223.34147 
L 59.182319 223.233467 
L 59.083714 223.125464 
L 58.98511 223.017461 
L 58.886505 222.909458 
L 58.787901 222.801456 
L 58.689297 222.693453 
L 58.590692 222.58545 
L 58.492088 222.477447 
L 58.492088 222.477447 
L 58.393484 222.333443 
L 58.294879 222.18944 
L 58.196275 222.045436 
L 58.09767 221.901432 
L 57.999066 221.757429 
L 57.900462 221.613425 
L 57.801857 221.469421 
L 57.703253 221.325417 
L 57.604648 221.181414 
L 57.506044 221.03741 
L 57.40744 220.893406 
L 57.308835 220.749402 
L 57.210231 220.605399 
L 57.111626 220.461395 
L 57.013022 220.317391 
L 56.914418 220.173387 
z
" clip-path="url(#p9fedf73bd1)" style="fill: #f08080"/>
    <path d="M 77.666425 235.481907 
L 77.719945 235.588988 
L 77.818549 235.786273 
L 77.917154 235.983558 
L 78.015758 236.180843 
L 78.114363 236.378128 
L 78.212967 236.391089 
L 78.311571 235.957061 
L 78.410176 235.523034 
L 78.50878 235.089007 
L 78.607385 234.65498 
L 78.705989 234.220952 
L 78.804593 233.786925 
L 78.903198 233.352898 
L 79.001802 232.91887 
L 79.100407 232.484843 
L 79.199011 232.050816 
L 79.297615 231.616789 
L 79.379026 231.258442 
L 79.297615 231.07267 
L 79.199011 230.847665 
L 79.100407 230.622659 
L 79.001802 230.397653 
L 78.903198 230.172647 
L 78.804593 229.947641 
L 78.705989 229.722635 
L 78.607385 229.49763 
L 78.50878 229.272624 
L 78.410176 229.047618 
L 78.311571 228.822612 
L 78.212967 228.597606 
L 78.114363 229.839638 
L 78.015758 231.081671 
L 77.917154 232.323703 
L 77.818549 233.565735 
L 77.719945 234.807767 
z
" clip-path="url(#p9fedf73bd1)" style="fill: #f08080"/>
    <path d="M 135.03429 216.782333 
L 135.107703 216.589134 
L 135.206308 216.391849 
L 135.304912 216.194564 
L 135.403516 215.997279 
L 135.403516 215.997279 
L 135.502121 215.799994 
L 135.600725 215.602709 
L 135.613671 215.576808 
L 135.600725 215.547267 
L 135.502121 215.322261 
L 135.403516 215.097256 
L 135.403516 215.097256 
L 135.304912 215.547267 
L 135.206308 215.997279 
L 135.107703 216.447291 
z
" clip-path="url(#p9fedf73bd1)" style="fill: #f08080"/>
    <path d="M 156.507101 208.756127 
L 156.603462 208.679009 
L 156.702066 208.600095 
L 156.80067 208.521181 
L 156.899275 208.442267 
L 156.997879 208.363353 
L 157.096484 208.284439 
L 157.195088 208.205525 
L 157.293692 208.12661 
L 157.392297 208.047696 
L 157.490901 207.968782 
L 157.589505 207.889868 
L 157.68811 207.810954 
L 157.786714 207.73204 
L 157.885319 207.653126 
L 157.983923 207.574212 
L 158.082527 207.495298 
L 158.181132 207.416384 
L 158.279736 207.33747 
L 158.378341 207.258556 
L 158.476945 207.179642 
L 158.575549 207.100728 
L 158.674154 207.021814 
L 158.772758 206.9429 
L 158.871363 206.863986 
L 158.969967 206.785072 
L 159.068571 206.706158 
L 159.167176 206.627244 
L 159.26578 206.548329 
L 159.364385 206.469415 
L 159.462989 206.390501 
L 159.561593 206.311587 
L 159.660198 206.232673 
L 159.758802 206.153759 
L 159.857407 206.074845 
L 159.956011 205.995931 
L 160.054615 205.917017 
L 160.15322 205.838103 
L 160.251824 205.759189 
L 160.350429 205.680275 
L 160.449033 205.601361 
L 160.547637 205.522447 
L 160.646242 205.443533 
L 160.744846 205.364619 
L 160.843451 205.285705 
L 160.942055 205.206791 
L 161.040659 205.413004 
L 161.040659 205.413004 
L 161.139264 205.65961 
L 161.237868 205.906217 
L 161.336473 206.152823 
L 161.435077 206.39943 
L 161.533681 206.646036 
L 161.632286 206.892642 
L 161.73089 207.139249 
L 161.829495 207.385855 
L 161.928099 207.632462 
L 162.026703 207.879068 
L 162.125308 208.125674 
L 162.223912 208.372281 
L 162.322516 208.618887 
L 162.421121 208.865494 
L 162.519725 209.1121 
L 162.61833 209.358706 
L 162.716934 209.605313 
L 162.815538 209.913841 
L 162.914143 210.25909 
L 163.012747 210.604339 
L 163.111352 210.949588 
L 163.209956 211.294837 
L 163.30856 211.640086 
L 163.407165 211.985335 
L 163.505769 212.330584 
L 163.604374 212.675833 
L 163.702978 213.021082 
L 163.801582 213.366331 
L 163.900187 213.71158 
L 163.998791 214.056828 
L 164.097396 214.402077 
L 164.196 214.747326 
L 164.294604 215.092575 
L 164.393209 215.437824 
L 164.491813 215.783073 
L 164.590418 215.922397 
L 164.689022 215.725112 
L 164.787626 215.527827 
L 164.886231 215.330542 
L 164.984835 215.133256 
L 165.08344 214.935971 
L 165.182044 214.738686 
L 165.280648 214.541401 
L 165.379253 214.344116 
L 165.477857 214.146831 
L 165.576462 213.949546 
L 165.675066 213.752261 
L 165.77367 213.554975 
L 165.872275 213.35769 
L 165.970879 213.160405 
L 166.069484 212.96312 
L 166.168088 212.765835 
L 166.266692 212.56855 
L 166.365297 212.375585 
L 166.463901 212.211181 
L 166.562505 212.046776 
L 166.66111 211.882372 
L 166.759714 211.717968 
L 166.858319 211.553563 
L 166.956923 211.389159 
L 166.956923 211.389159 
L 167.055527 211.224755 
L 167.154132 211.060351 
L 167.252736 210.895946 
L 167.351341 210.731542 
L 167.449945 210.567138 
L 167.548549 210.402734 
L 167.647154 210.238329 
L 167.745758 210.073925 
L 167.844363 209.909521 
L 167.942967 209.745116 
L 168.041571 209.580712 
L 168.140176 209.416308 
L 168.23878 209.251904 
L 168.337385 209.087499 
L 168.435989 208.923095 
L 168.534593 208.758691 
L 168.633198 208.594287 
L 168.731802 208.429882 
L 168.830407 208.265478 
L 168.929011 208.101074 
L 169.027615 207.93667 
L 169.12622 207.94699 
L 169.224824 208.012752 
L 169.323429 208.078513 
L 169.422033 208.144275 
L 169.520637 208.210037 
L 169.619242 208.275798 
L 169.717846 208.34156 
L 169.816451 208.407322 
L 169.915055 208.473083 
L 170.013659 208.538845 
L 170.112264 208.604607 
L 170.210868 208.670369 
L 170.309473 208.73613 
L 170.408077 208.801892 
L 170.506681 208.867654 
L 170.605286 208.933415 
L 170.680089 208.983304 
L 170.605286 208.437083 
L 170.506681 207.717064 
L 170.408077 206.997045 
L 170.309473 206.277026 
L 170.210868 205.557008 
L 170.112264 204.836989 
L 170.013659 204.11697 
L 169.915055 203.396952 
L 169.816451 202.676933 
L 169.717846 201.956914 
L 169.619242 201.236896 
L 169.520637 200.516877 
L 169.422033 199.796858 
L 169.323429 199.076839 
L 169.224824 198.356821 
L 169.12622 197.636802 
L 169.027615 196.916783 
L 168.929011 196.196765 
L 168.830407 195.881756 
L 168.731802 195.566748 
L 168.633198 195.25174 
L 168.534593 194.936732 
L 168.435989 194.621724 
L 168.337385 194.306715 
L 168.23878 193.991707 
L 168.140176 193.676699 
L 168.041571 193.361691 
L 167.942967 193.046683 
L 167.844363 192.731675 
L 167.745758 192.416666 
L 167.647154 192.101658 
L 167.548549 191.78665 
L 167.449945 191.471642 
L 167.351341 191.156634 
L 167.252736 190.841625 
L 167.154132 190.526617 
L 167.055527 190.211609 
L 166.956923 189.896601 
L 166.956923 189.896601 
L 166.858319 189.8786 
L 166.759714 189.8606 
L 166.66111 189.8426 
L 166.562505 189.824599 
L 166.463901 189.806599 
L 166.365297 189.788598 
L 166.266692 189.770598 
L 166.168088 189.752597 
L 166.069484 189.734597 
L 165.970879 189.716596 
L 165.872275 189.698596 
L 165.77367 189.680595 
L 165.675066 189.662595 
L 165.576462 189.644594 
L 165.477857 189.626594 
L 165.379253 189.608593 
L 165.280648 189.590593 
L 165.182044 189.572593 
L 165.08344 189.554592 
L 164.984835 189.536592 
L 164.886231 189.824599 
L 164.787626 190.112607 
L 164.689022 190.400614 
L 164.590418 190.688622 
L 164.491813 190.976629 
L 164.393209 191.264636 
L 164.294604 191.552644 
L 164.196 191.840651 
L 164.097396 192.128659 
L 163.998791 192.416666 
L 163.900187 192.704674 
L 163.801582 192.992681 
L 163.702978 193.280689 
L 163.604374 193.568696 
L 163.505769 193.856704 
L 163.407165 194.144711 
L 163.30856 194.432719 
L 163.209956 194.720726 
L 163.111352 195.008734 
L 163.012747 195.296741 
L 162.914143 194.738727 
L 162.815538 194.180712 
L 162.716934 193.622698 
L 162.61833 193.064683 
L 162.519725 192.506669 
L 162.421121 191.948654 
L 162.322516 191.39064 
L 162.223912 190.832625 
L 162.125308 190.274611 
L 162.026703 189.716596 
L 161.928099 189.158582 
L 161.829495 188.600567 
L 161.73089 188.042553 
L 161.632286 187.484538 
L 161.533681 186.926524 
L 161.435077 186.368509 
L 161.336473 185.810495 
L 161.237868 185.25248 
L 161.139264 184.694466 
L 161.040659 184.136451 
L 161.040659 184.136451 
L 160.942055 184.379458 
L 160.843451 184.622464 
L 160.744846 184.86547 
L 160.646242 185.108477 
L 160.547637 185.351483 
L 160.449033 185.594489 
L 160.350429 185.837496 
L 160.251824 186.080502 
L 160.15322 186.323508 
L 160.054615 186.566514 
L 159.956011 186.809521 
L 159.857407 187.052527 
L 159.758802 187.295533 
L 159.660198 187.53854 
L 159.561593 187.781546 
L 159.462989 188.024552 
L 159.364385 188.267559 
L 159.26578 188.510565 
L 159.167176 188.753571 
L 159.068571 188.996578 
L 158.969967 189.446589 
L 158.871363 189.896601 
L 158.772758 190.346613 
L 158.674154 190.796624 
L 158.575549 191.246636 
L 158.476945 191.696648 
L 158.378341 192.146659 
L 158.279736 192.596671 
L 158.181132 193.046683 
L 158.082527 193.496694 
L 157.983923 193.946706 
L 157.885319 194.396718 
L 157.786714 194.84673 
L 157.68811 195.296741 
L 157.589505 195.746753 
L 157.490901 196.196765 
L 157.392297 196.646776 
L 157.293692 197.096788 
L 157.195088 197.5468 
L 157.096484 197.996811 
L 156.997879 199.796858 
L 156.899275 201.596905 
L 156.80067 203.396952 
L 156.702066 205.196998 
L 156.603462 206.997045 
z
" clip-path="url(#p9fedf73bd1)" style="fill: #f08080"/>
    <path d="M 240.617325 178.045213 
L 240.713011 177.98778 
L 240.811615 177.928594 
L 240.91022 177.869409 
L 241.008824 177.810223 
L 241.107429 177.751037 
L 241.206033 177.691852 
L 241.304637 177.632666 
L 241.403242 177.573481 
L 241.501846 177.514295 
L 241.600451 177.462473 
L 241.699055 177.423874 
L 241.797659 177.385274 
L 241.896264 177.346675 
L 241.896264 177.346675 
L 241.994868 177.308076 
L 242.093473 177.269476 
L 242.192077 177.230877 
L 242.290681 177.192278 
L 242.389286 177.153679 
L 242.48789 177.115079 
L 242.586495 177.07648 
L 242.685099 177.037881 
L 242.783703 176.999282 
L 242.882308 176.960682 
L 242.980912 176.922083 
L 243.079516 176.883484 
L 243.178121 176.844885 
L 243.276725 176.528734 
L 243.37533 176.00264 
L 243.473934 175.476546 
L 243.572538 174.950453 
L 243.671143 174.424359 
L 243.769747 173.898265 
L 243.868352 173.372172 
L 243.868352 173.372172 
L 243.966956 172.846078 
L 244.06556 172.319984 
L 244.164165 171.793891 
L 244.262769 171.267797 
L 244.361374 170.741703 
L 244.459978 170.21561 
L 244.558582 169.675356 
L 244.629616 169.272678 
L 244.558582 168.728051 
L 244.459978 167.972031 
L 244.361374 167.216012 
L 244.262769 166.459992 
L 244.164165 165.703973 
L 244.06556 164.947953 
L 243.966956 164.191933 
L 243.868352 163.435914 
L 243.868352 163.435914 
L 243.769747 163.853525 
L 243.671143 164.271135 
L 243.572538 164.688746 
L 243.473934 165.106357 
L 243.37533 165.523968 
L 243.276725 165.941579 
L 243.178121 166.35919 
L 243.079516 166.7768 
L 242.980912 167.194411 
L 242.882308 167.612022 
L 242.783703 168.029633 
L 242.685099 168.447244 
L 242.586495 168.864855 
L 242.48789 169.282466 
L 242.389286 169.700076 
L 242.290681 170.117687 
L 242.192077 170.535298 
L 242.093473 170.952909 
L 241.994868 171.37052 
L 241.896264 171.788131 
L 241.896264 171.788131 
L 241.797659 172.270543 
L 241.699055 172.752956 
L 241.600451 173.235368 
L 241.501846 173.717781 
L 241.403242 174.200193 
L 241.304637 174.682606 
L 241.206033 175.165018 
L 241.107429 175.647431 
L 241.008824 176.129843 
L 240.91022 176.612256 
L 240.811615 177.094668 
L 240.713011 177.577081 
z
" clip-path="url(#p9fedf73bd1)" style="fill: #f08080"/>
    <path d="M 248.854839 163.148303 
L 248.897176 163.089009 
L 248.99578 162.950909 
L 249.094385 162.812809 
L 249.192989 162.67471 
L 249.291593 162.697894 
L 249.390198 163.191107 
L 249.488802 163.68432 
L 249.587407 164.177533 
L 249.686011 164.670746 
L 249.784615 165.163959 
L 249.784615 165.163959 
L 249.88322 165.657171 
L 249.981824 166.150384 
L 250.080429 166.643597 
L 250.179033 167.13681 
L 250.277637 167.630023 
L 250.376242 168.123235 
L 250.474846 168.616448 
L 250.573451 169.0751 
L 250.672055 169.272385 
L 250.770659 169.46967 
L 250.869264 169.666956 
L 250.967868 169.864241 
L 251.066473 170.061526 
L 251.165077 170.258811 
L 251.263681 170.456096 
L 251.362286 170.653381 
L 251.46089 170.850666 
L 251.559495 171.047951 
L 251.658099 171.245236 
L 251.756703 171.442522 
L 251.756703 171.442522 
L 251.855308 171.639807 
L 251.953912 171.837092 
L 252.052516 172.034377 
L 252.151121 172.231662 
L 252.249725 172.428947 
L 252.34833 172.586871 
L 252.446934 172.718395 
L 252.545538 172.849918 
L 252.644143 172.981442 
L 252.742747 173.112965 
L 252.841352 173.244488 
L 252.939956 173.376012 
L 252.979641 173.428945 
L 252.939956 172.623352 
L 252.841352 170.6217 
L 252.742747 168.620048 
L 252.644143 166.618396 
L 252.545538 164.616744 
L 252.446934 162.615092 
L 252.34833 160.61344 
L 252.249725 158.611788 
L 252.151121 156.610136 
L 252.052516 154.608484 
L 251.953912 152.606832 
L 251.855308 150.60518 
L 251.756703 148.603528 
L 251.756703 148.603528 
L 251.658099 149.093141 
L 251.559495 149.582754 
L 251.46089 150.072367 
L 251.362286 150.561979 
L 251.263681 151.051592 
L 251.165077 151.541205 
L 251.066473 152.030817 
L 250.967868 152.52043 
L 250.869264 153.010043 
L 250.770659 153.499656 
L 250.672055 153.989268 
L 250.573451 154.478881 
L 250.474846 154.968494 
L 250.376242 155.458106 
L 250.277637 155.947719 
L 250.179033 156.437332 
L 250.080429 156.926945 
L 249.981824 157.416557 
L 249.88322 157.90617 
L 249.784615 158.395783 
L 249.784615 158.395783 
L 249.686011 158.899796 
L 249.587407 159.403809 
L 249.488802 159.907822 
L 249.390198 160.411835 
L 249.291593 160.915848 
L 249.192989 161.419861 
L 249.094385 161.923874 
L 248.99578 162.427887 
L 248.897176 162.931901 
z
" clip-path="url(#p9fedf73bd1)" style="fill: #f08080"/>
   </g>
   <g id="FillBetweenPolyCollection_4">
    <path d="M 64.605608 263.303149 
L 64.704165 263.423062 
L 64.802769 263.543033 
L 64.901374 263.663003 
L 64.999978 263.782974 
L 65.098582 263.902945 
L 65.197187 264.022915 
L 65.295791 264.142886 
L 65.394396 264.262857 
L 65.493 264.382828 
L 65.591604 264.502798 
L 65.690209 264.622769 
L 65.788813 264.74274 
L 65.887418 264.86271 
L 65.986022 264.982681 
L 66.084626 265.102652 
L 66.183231 265.222622 
L 66.281835 265.342593 
L 66.38044 265.462564 
L 66.38044 265.462564 
L 66.479044 265.570174 
L 66.577648 265.677784 
L 66.676253 265.785394 
L 66.774857 265.893004 
L 66.873462 266.000614 
L 66.972066 266.108224 
L 67.07067 266.215834 
L 67.169275 266.323444 
L 67.267879 266.431054 
L 67.366484 266.538664 
L 67.465088 266.646274 
L 67.563692 266.753885 
L 67.662297 266.861495 
L 67.760901 266.969105 
L 67.859505 267.076715 
L 67.95811 267.184325 
L 68.056714 267.291935 
L 68.155319 267.399545 
L 68.253923 267.507155 
L 68.352527 267.614765 
L 68.352527 267.614765 
L 68.451132 267.722375 
L 68.549736 267.829985 
L 68.648341 267.937595 
L 68.746945 268.045205 
L 68.845549 268.152815 
L 68.944154 268.260425 
L 69.042758 268.368036 
L 69.141363 268.475646 
L 69.239967 268.583256 
L 69.338571 268.690866 
L 69.437176 268.798476 
L 69.53578 268.906086 
L 69.634385 268.742383 
L 69.732989 268.542804 
L 69.831593 268.343225 
L 69.928437 268.14721 
L 69.831593 269.278663 
L 69.732989 270.430693 
L 69.634385 271.582723 
L 69.53578 272.734753 
L 69.437176 273.886783 
L 69.338571 275.038812 
L 69.239967 276.190842 
L 69.141363 277.342872 
L 69.042758 278.494902 
L 68.944154 279.646932 
L 68.845549 280.798962 
L 68.746945 281.950992 
L 68.648341 283.103022 
L 68.549736 284.255052 
L 68.451132 285.407082 
L 68.352527 286.559112 
L 68.352527 286.559112 
L 68.253923 286.595113 
L 68.155319 286.631114 
L 68.056714 286.667114 
L 67.95811 286.703115 
L 67.859505 286.739116 
L 67.760901 286.775117 
L 67.662297 286.811118 
L 67.563692 286.847119 
L 67.465088 286.88312 
L 67.366484 286.919121 
L 67.267879 286.955122 
L 67.169275 286.991123 
L 67.07067 287.027124 
L 66.972066 287.063125 
L 66.873462 287.099126 
L 66.774857 287.135127 
L 66.676253 287.171128 
L 66.577648 287.207128 
L 66.479044 287.243129 
L 66.38044 287.27913 
L 66.38044 287.27913 
L 66.281835 285.947096 
L 66.183231 284.615061 
L 66.084626 283.283027 
L 65.986022 281.950992 
L 65.887418 280.618957 
L 65.788813 279.286923 
L 65.690209 277.954888 
L 65.591604 276.622854 
L 65.493 275.290819 
L 65.394396 273.958784 
L 65.295791 272.62675 
L 65.197187 271.294715 
L 65.098582 269.962681 
L 64.999978 268.630646 
L 64.901374 267.298611 
L 64.802769 265.966577 
L 64.704165 264.634542 
z
" clip-path="url(#p9fedf73bd1)" style="fill: #2f6ea8"/>
    <path d="M 72.666922 262.663326 
L 72.691121 262.633507 
L 72.789725 262.591232 
L 72.88833 262.548957 
L 72.986934 262.506681 
L 73.085538 262.464406 
L 73.184143 262.42213 
L 73.282747 262.379855 
L 73.381352 262.33758 
L 73.479956 262.295304 
L 73.57856 262.253029 
L 73.677165 262.210754 
L 73.775769 262.168478 
L 73.874374 262.126203 
L 73.972978 262.083927 
L 74.071582 262.041652 
L 74.170187 261.999377 
L 74.268791 261.957101 
L 74.268791 261.957101 
L 74.299499 261.943935 
L 74.268791 262.078476 
L 74.268791 262.078476 
L 74.170187 262.114477 
L 74.071582 262.150478 
L 73.972978 262.186479 
L 73.874374 262.22248 
L 73.775769 262.25848 
L 73.677165 262.294481 
L 73.57856 262.330482 
L 73.479956 262.366483 
L 73.381352 262.402484 
L 73.282747 262.438485 
L 73.184143 262.474486 
L 73.085538 262.510487 
L 72.986934 262.546488 
L 72.88833 262.582489 
L 72.789725 262.61849 
L 72.691121 262.654491 
z
" clip-path="url(#p9fedf73bd1)" style="fill: #2f6ea8"/>
    <path d="M 87.383998 266.047581 
L 87.48178 265.70521 
L 87.580385 265.359961 
L 87.678989 265.014712 
L 87.777593 264.669463 
L 87.876198 264.324214 
L 87.974802 264.720584 
L 88.073407 265.361761 
L 88.172011 266.002938 
L 88.270615 266.644114 
L 88.36922 267.285291 
L 88.467824 267.926468 
L 88.566429 268.567644 
L 88.665033 269.208821 
L 88.763637 269.849998 
L 88.862242 270.491174 
L 88.960846 271.132351 
L 89.059451 271.773528 
L 89.158055 272.414704 
L 89.256659 273.055881 
L 89.355264 273.608855 
L 89.453868 273.674617 
L 89.552473 273.740379 
L 89.651077 273.80614 
L 89.749681 273.871902 
L 89.848286 273.937664 
L 89.94689 274.003426 
L 90.045495 274.069187 
L 90.045495 274.069187 
L 90.135478 274.129199 
L 90.045495 274.498798 
L 90.045495 274.498798 
L 89.94689 274.453797 
L 89.848286 274.408796 
L 89.749681 274.363795 
L 89.651077 274.318794 
L 89.552473 274.273793 
L 89.453868 274.228791 
L 89.355264 274.18379 
L 89.256659 274.138789 
L 89.158055 274.093788 
L 89.059451 274.048787 
L 88.960846 274.003786 
L 88.862242 273.958784 
L 88.763637 273.913783 
L 88.665033 273.868782 
L 88.566429 273.823781 
L 88.467824 273.77878 
L 88.36922 273.733779 
L 88.270615 273.688777 
L 88.172011 273.643776 
L 88.073407 273.598775 
L 87.974802 272.518747 
L 87.876198 271.438719 
L 87.777593 270.358691 
L 87.678989 269.278663 
L 87.580385 268.198635 
L 87.48178 267.118607 
z
" clip-path="url(#p9fedf73bd1)" style="fill: #2f6ea8"/>
    <path d="M 101.353294 276.125205 
L 101.385 275.919035 
L 101.483604 275.277859 
L 101.582209 274.636682 
L 101.680813 273.995505 
L 101.779418 273.354329 
L 101.878022 272.713152 
L 101.878022 272.713152 
L 101.976626 272.071975 
L 102.075231 271.430799 
L 102.173835 270.789622 
L 102.27244 270.148445 
L 102.371044 269.998682 
L 102.469648 269.998682 
L 102.535385 269.998682 
L 102.469648 270.898705 
L 102.371044 272.24874 
L 102.27244 273.598775 
L 102.173835 274.94881 
L 102.075231 276.298845 
L 101.976626 277.64888 
L 101.878022 278.998915 
L 101.878022 278.998915 
L 101.779418 278.458901 
L 101.680813 277.918887 
L 101.582209 277.378873 
L 101.483604 276.838859 
L 101.385 276.298845 
z
" clip-path="url(#p9fedf73bd1)" style="fill: #2f6ea8"/>
    <path d="M 182.195202 256.906901 
L 182.240604 256.84634 
L 182.339209 256.714816 
L 182.437813 256.583293 
L 182.536418 256.45177 
L 182.635022 256.320246 
L 182.733626 256.188723 
L 182.832231 256.057199 
L 182.930835 255.925676 
L 183.025616 255.799253 
L 182.930835 256.318326 
L 182.832231 256.85834 
L 182.733626 257.398354 
L 182.635022 257.308352 
L 182.536418 257.21835 
L 182.437813 257.128347 
L 182.339209 257.038345 
L 182.240604 256.948343 
z
" clip-path="url(#p9fedf73bd1)" style="fill: #2f6ea8"/>
    <path d="M 188.944144 246.758157 
L 188.945703 246.755038 
L 189.044308 246.557753 
L 189.142912 246.360468 
L 189.241516 246.163182 
L 189.340121 245.965897 
L 189.438725 245.768612 
L 189.53733 245.571327 
L 189.635934 245.374042 
L 189.734538 245.176757 
L 189.833143 244.979472 
L 189.931747 244.813867 
L 190.030352 245.011152 
L 190.128956 245.208438 
L 190.22756 245.405723 
L 190.326165 245.603008 
L 190.424769 245.800293 
L 190.523374 245.997578 
L 190.621978 246.194863 
L 190.720582 246.392148 
L 190.819187 246.589433 
L 190.917791 246.786719 
L 191.016396 246.984004 
L 191.115 247.181289 
L 191.213604 247.378574 
L 191.312209 247.575859 
L 191.410813 247.773144 
L 191.477072 247.905713 
L 191.410813 249.478149 
L 191.312209 251.818209 
L 191.213604 254.15827 
L 191.115 256.498331 
L 191.016396 258.838392 
L 190.917791 261.178452 
L 190.819187 263.518513 
L 190.720582 265.858574 
L 190.621978 268.198635 
L 190.523374 266.938602 
L 190.424769 265.678569 
L 190.326165 264.418537 
L 190.22756 263.158504 
L 190.128956 261.898471 
L 190.030352 260.638438 
L 189.931747 259.378406 
L 189.833143 258.118373 
L 189.734538 256.85834 
L 189.635934 255.598307 
L 189.53733 254.338275 
L 189.438725 253.078242 
L 189.340121 251.818209 
L 189.241516 250.558177 
L 189.142912 249.298144 
L 189.044308 248.038111 
L 188.945703 246.778078 
z
" clip-path="url(#p9fedf73bd1)" style="fill: #2f6ea8"/>
    <path d="M 226.617202 236.268886 
L 226.711187 236.331567 
L 226.809791 236.397329 
L 226.908396 236.46309 
L 227.007 236.528852 
L 227.105604 236.594614 
L 227.204209 236.660376 
L 227.302813 236.726137 
L 227.401418 236.791899 
L 227.500022 236.857661 
L 227.598626 236.923422 
L 227.697231 236.989184 
L 227.795835 237.054946 
L 227.89444 237.120708 
L 227.993044 237.186469 
L 228.091648 237.252231 
L 228.190253 237.317993 
L 228.288857 237.383754 
L 228.387462 237.449516 
L 228.486066 237.515278 
L 228.58467 237.58104 
L 228.675962 237.664589 
L 228.58467 238.497863 
L 228.486066 239.397887 
L 228.387462 240.29791 
L 228.288857 241.197933 
L 228.190253 242.097957 
L 228.091648 242.99798 
L 227.993044 242.547969 
L 227.89444 242.097957 
L 227.795835 241.647945 
L 227.697231 241.197933 
L 227.598626 240.747922 
L 227.500022 240.29791 
L 227.401418 239.847898 
L 227.302813 239.397887 
L 227.204209 238.947875 
L 227.105604 238.497863 
L 227.007 238.047852 
L 226.908396 237.59784 
L 226.809791 237.147828 
L 226.711187 236.697817 
z
" clip-path="url(#p9fedf73bd1)" style="fill: #2f6ea8"/>
   </g>
   <g id="line2d_40">
    <path d="M 56.52 218.157335 
L 58.391324 229.317625 
L 60.550545 226.077541 
L 62.349895 226.797559 
L 64.149245 232.557709 
L 66.308466 236.877821 
L 68.467686 233.277728 
L 70.267036 224.997513 
L 72.426257 225.717531 
L 74.225607 231.477681 
L 76.384827 232.917718 
L 78.184177 236.517812 
L 79.983528 228.597606 
L 82.142748 226.797559 
L 83.942098 230.397653 
L 86.101319 233.997746 
L 90.059889 233.277728 
L 94.01846 229.317625 
L 95.81781 226.077541 
L 97.977031 221.757429 
L 100.136251 220.317391 
L 101.935601 217.077307 
L 103.734951 229.677634 
L 105.894172 230.757662 
L 107.693522 228.597606 
L 109.852742 233.277728 
L 111.652093 223.917485 
L 113.811313 222.837457 
L 115.610663 221.03741 
L 119.569234 207.897068 
L 122.268259 210.597139 
L 127.66631 221.397419 
L 129.645596 223.197466 
L 131.085076 221.03741 
L 133.244296 223.557475 
L 135.043646 216.717298 
L 136.842997 213.117204 
L 138.642347 215.997279 
L 140.441697 212.397185 
L 142.241048 215.27726 
L 144.760138 218.877354 
L 146.559488 213.837223 
L 148.358839 210.237129 
L 149.798319 212.037176 
L 155.55624 206.997045 
L 156.455915 208.797092 
L 160.954291 205.196998 
L 162.753641 209.697115 
L 164.552991 215.997279 
L 166.352341 212.397185 
L 169.051367 207.897068 
L 171.750392 209.697115 
L 173.549743 208.797092 
L 176.248768 192.596671 
L 178.947793 212.397185 
L 180.747144 214.197232 
L 184.345844 210.597139 
L 187.944545 205.196998 
L 189.743895 196.196765 
L 191.543245 188.096554 
L 193.342596 188.996578 
L 195.141946 186.296507 
L 196.941296 188.996578 
L 198.740647 184.496461 
L 200.539997 189.896601 
L 202.339347 180.896367 
L 204.138697 196.196765 
L 205.938048 190.796624 
L 207.737398 190.796624 
L 209.536748 188.996578 
L 211.336099 186.296507 
L 214.035124 178.556306 
L 215.834474 183.596437 
L 217.633824 197.996811 
L 219.433175 188.996578 
L 221.232525 181.436381 
L 223.031875 187.196531 
L 224.831226 189.896601 
L 227.530251 181.796391 
L 230.229276 175.496227 
L 232.028627 172.796157 
L 233.827977 174.596204 
L 237.426678 188.996578 
L 239.765833 178.556306 
L 241.565183 177.476278 
L 243.220586 176.828262 
L 245.81165 162.571891 
L 247.107182 165.59597 
L 249.266403 162.571891 
L 250.561935 169.05206 
L 252.289311 172.508149 
L 253.584843 174.236194 
L 254.880375 181.148374 
L 255.744064 182.012396 
L 257.47144 172.508149 
L 258.766972 167.324015 
L 260.818231 164.695946 
L 263.517257 158.395783 
L 265.316607 154.795689 
L 267.115957 160.19583 
L 268.915308 169.196063 
L 270.714658 176.39625 
L 273.413683 173.69618 
L 275.213034 172.796157 
L 277.012384 167.396017 
L 278.811734 161.095853 
L 280.611084 164.695946 
L 282.410435 163.795923 
L 284.209785 154.795689 
L 285.10946 152.095619 
L 286.90881 159.295806 
L 288.708161 152.995642 
L 290.507511 158.395783 
L 292.306861 160.19583 
L 294.106212 158.395783 
L 295.905562 154.795689 
L 298.604587 153.895666 
L 301.303613 153.895666 
L 303.102963 159.295806 
L 304.902313 149.395549 
L 306.701664 145.795455 
L 309.400689 143.995409 
L 310.300364 138.595268 
L 312.099714 131.395081 
L 313.899065 126.894965 
L 315.698415 129.595035 
L 318.39744 125.094918 
L 320.196791 134.995175 
L 321.996141 142.195362 
L 324.695166 136.795222 
L 327.394192 134.995175 
L 330.093217 136.795222 
L 332.792243 139.495292 
L 334.591593 144.895432 
L 336.390943 145.795455 
L 338.190294 136.795222 
L 339.989644 125.094918 
L 342.688669 124.194894 
L 344.48802 125.094918 
L 346.28737 121.494824 
L 348.08672 120.594801 
L 349.88607 125.994941 
L 351.685421 119.694778 
L 354.384446 116.094684 
L 357.083472 120.594801 
L 359.782497 125.994941 
L 362.481522 117.894731 
L 365.180548 110.694544 
L 366.979898 110.694544 
L 368.779248 112.494591 
L 370.578599 107.994474 
L 372.377949 101.69431 
L 374.177299 101.69431 
L 375.97665 92.694076 
L 377.776 93.5941 
L 379.57535 98.99424 
L 381.3747 95.394146 
L 383.174051 90.894029 
L 384.973401 85.493889 
L 386.772751 91.794053 
L 389.471777 107.994474 
L 391.271127 100.794287 
L 393.070477 95.394146 
L 394.869828 90.894029 
L 395.769503 89.093983 
L 398.468528 89.994006 
L 400.267878 93.5941 
L 402.966904 99.894263 
L 404.766254 91.794053 
L 407.46528 78.293702 
L 409.26463 80.093749 
L 411.06398 89.994006 
L 412.86333 94.494123 
L 414.662681 95.394146 
L 416.462031 97.194193 
L 418.261381 91.794053 
L 420.060732 89.994006 
L 421.860082 91.794053 
L 423.299562 95.394146 
L 425.458782 88.193959 
L 427.258133 83.693842 
L 429.957158 84.593866 
L 432.656184 86.393913 
L 434.455534 83.693842 
L 436.254884 82.793819 
L 438.95391 81.893796 
L 440.75326 83.693842 
L 442.55261 81.893796 
L 444.35196 77.393679 
L 446.151311 82.793819 
L 447.950661 86.393913 
L 450.649686 86.393913 
L 452.449037 84.593866 
L 454.248387 81.893796 
L 456.047737 84.593866 
L 457.847088 84.593866 
L 460.546113 77.393679 
L 462.345463 82.793819 
L 464.144814 83.693842 
L 466.483969 79.193726 
L 468.643189 83.693842 
L 471.342215 84.593866 
L 473.141565 84.593866 
L 475.84059 86.393913 
L 479.439291 82.793819 
L 482.138316 83.693842 
L 483.937667 82.793819 
L 486.276822 80.993772 
L 488.436042 88.193959 
L 489.875523 90.894029 
L 492.034743 85.493889 
L 494.193963 81.893796 
L 495.993314 85.493889 
L 497.792664 89.994006 
L 500.131819 85.493889 
L 502.470975 83.693842 
L 504.630195 85.493889 
L 506.789415 88.193959 
L 509.128571 91.794053 
L 511.467726 88.193959 
L 512.727271 91.794053 
L 515.066427 92.694076 
L 517.225647 92.694076 
L 519.924672 95.394146 
L 521.724023 94.494123 
L 524.423048 91.794053 
L 527.122073 89.994006 
L 528.921424 92.694076 
L 530.720774 97.194193 
L 533.419799 105.294403 
L 537.0185 98.094216 
L 538.81785 105.294403 
L 539.717525 109.79452 
L 541.516876 107.09445 
L 543.316226 105.294403 
L 545.115576 107.994474 
L 546.914927 109.79452 
L 548.714277 116.094684 
L 551.413302 117.894731 
L 553.212653 120.594801 
L 555.012003 124.194894 
L 556.811353 113.394614 
L 558.610703 114.294637 
L 560.410054 116.094684 
L 562.209404 116.994707 
L 564.008754 120.594801 
L 567.607455 125.994941 
L 569.406805 129.595035 
L 571.206155 131.395081 
L 573.005506 129.595035 
L 574.804856 131.395081 
L 576.604206 130.495058 
L 578.403557 127.794988 
L 580.202907 134.095152 
L 582.002257 136.795222 
L 585.600958 140.395315 
L 587.400308 143.995409 
L 590.099333 143.995409 
L 591.898684 143.095385 
L 593.698034 140.395315 
L 595.497384 142.195362 
L 597.296735 140.395315 
L 599.096085 137.695245 
L 600.895435 137.695245 
L 602.694785 140.395315 
L 605.033941 144.895432 
L 607.193161 149.395549 
L 608.992511 148.495526 
L 611.151732 147.595502 
L 612.951082 146.695479 
L 614.750432 144.895432 
L 617.089588 143.995409 
L 618.888938 149.395549 
L 620.148483 158.395783 
L 621.587963 156.595736 
L 623.387314 159.295806 
L 625.186664 154.795689 
L 626.086339 152.995642 
L 627.345884 154.795689 
L 628.785365 160.19583 
L 630.584715 163.795923 
L 632.384065 165.59597 
L 635.982766 172.796157 
L 637.782116 169.196063 
L 639.581466 162.8959 
L 641.380817 161.995876 
L 643.180167 161.995876 
L 647.678543 157.495759 
L 649.477893 159.295806 
L 651.277243 160.19583 
L 654.192191 169.05206 
L 655.343775 173.084164 
L 656.495359 178.268299 
L 657.646943 182.300404 
L 658.798527 182.876419 
L 659.950111 184.028449 
L 661.101696 186.908523 
L 662.25328 188.636568 
L 663.980656 189.788598 
L 665.708032 189.212583 
L 667.205092 187.484538 
L 668.356676 192.092658 
L 669.162785 197.852808 
L 670.314369 199.004838 
L 671.465953 199.580852 
L 673.19333 203.036942 
L 674.575231 202.460927 
L 675.726815 196.700778 
L 676.648082 190.940628 
L 677.339033 188.636568 
L 678.029983 192.092658 
L 680.102835 204.764987 
L 681.254419 208.221077 
L 682.406003 204.764987 
L 684.133379 200.156867 
L 685.284964 198.428823 
L 687.01234 197.852808 
L 688.739716 195.548748 
L 689.8913 194.972733 
L 691.38836 196.700778 
L 693.000578 193.820703 
L 693.921845 197.852808 
L 695.073429 204.188972 
L 697.606914 210.525137 
L 698.528182 216.285286 
L 700.255558 210.525137 
L 701.407142 208.797092 
L 703.134518 209.949122 
L 704.286103 208.797092 
L 707.740855 226.077541 
L 708.892439 227.229571 
L 710.619816 221.469421 
L 712.347192 218.013331 
L 714.074568 220.317391 
L 715.226152 222.621451 
L 716.377736 220.317391 
L 717.529321 213.405212 
L 718.680905 211.101152 
L 719.832489 213.405212 
L 720.638598 215.709271 
L 721.559865 211.101152 
L 722.711449 208.797092 
L 723.863034 209.949122 
L 725.014618 214.557241 
L 726.741994 218.589346 
L 728.46937 218.013331 
L 729.851271 215.709271 
L 730.772539 214.557241 
L 733.075707 221.469421 
L 734.227291 223.773481 
L 736.53046 216.861301 
L 737.682044 221.469421 
L 739.40942 223.773481 
L 741.136796 224.925511 
L 742.288381 227.229571 
L 744.591549 222.621451 
L 745.743133 223.773481 
L 747.470509 226.077541 
L 749.197886 220.317391 
L 750.34947 215.709271 
L 752.652638 224.925511 
L 754.380014 223.197466 
L 756.107391 222.621451 
L 762.441104 216.285286 
L 763.592688 221.469421 
L 764.744272 222.621451 
L 765.895856 217.437316 
L 766.471648 216.861301 
L 767.623233 221.469421 
L 768.774817 227.229571 
L 769.926401 230.109645 
L 771.077985 226.077541 
L 772.229569 222.621451 
L 773.381153 218.013331 
L 774.532738 216.285286 
L 774.532738 216.285286 
" clip-path="url(#p9fedf73bd1)" style="fill: none; stroke-dasharray: 1.85,0.8; stroke-dashoffset: 0; stroke: #ff0000; stroke-width: 0.65"/>
   </g>
   <g id="line2d_41">
    <path d="M 56.591974 260.422433 
L 58.391324 256.318326 
L 61.054363 260.422433 
L 63.717401 262.22248 
L 66.38044 265.462564 
L 69.547296 268.918653 
L 72.642179 262.654491 
L 75.665087 261.358457 
L 77.824307 266.398588 
L 79.983528 264.598541 
L 82.142748 269.278663 
L 84.301968 273.598775 
L 86.461189 269.278663 
L 87.900669 264.238532 
L 89.340149 273.598775 
L 91.49937 275.038812 
L 94.01846 277.918887 
L 96.17768 275.758831 
L 98.696771 280.798962 
L 100.855991 279.358925 
L 102.295471 269.998682 
L 105.174432 269.998682 
L 107.333652 273.598775 
L 108.053392 280.798962 
L 109.852742 275.398822 
L 112.551768 277.198869 
L 116.150468 268.198635 
L 121.548519 278.998915 
L 124.247545 282.599009 
L 126.94657 260.998448 
L 128.74592 266.398588 
L 131.444946 278.998915 
L 139.542022 262.798495 
L 143.140723 254.698284 
L 144.940073 264.598541 
L 146.739423 275.398822 
L 149.438449 260.998448 
L 152.137474 259.198401 
L 155.736175 260.998448 
L 158.4352 268.198635 
L 161.134226 269.098658 
L 163.833251 265.498565 
L 165.632601 269.998682 
L 167.431952 272.698752 
L 169.231302 266.398588 
L 171.030652 260.998448 
L 172.830002 260.998448 
L 174.629353 263.698518 
L 176.428703 260.998448 
L 179.127728 262.798495 
L 181.826754 257.398354 
L 187.224805 250.198167 
L 189.92383 244.798027 
L 192.622856 250.198167 
L 194.422206 251.998214 
L 196.221556 255.598307 
L 198.920582 248.39812 
L 200.719932 245.69805 
L 203.418957 245.69805 
L 206.117983 240.29791 
L 208.817008 248.39812 
L 211.516034 260.998448 
L 214.215059 257.398354 
L 216.914084 249.298144 
L 219.61311 245.69805 
L 223.21181 241.197933 
L 225.910836 235.797793 
L 228.609861 237.59784 
L 234.007912 242.99798 
L 236.706938 244.798027 
L 239.405963 240.29791 
L 242.104988 257.398354 
L 244.804014 237.59784 
L 247.503039 223.197466 
L 249.30239 228.597606 
L 252.001415 237.59784 
L 254.70044 251.998214 
L 256.499791 237.59784 
L 258.299141 226.797559 
L 260.998166 231.297676 
L 263.697192 227.697583 
L 266.396217 225.897536 
L 269.095243 230.397653 
L 270.894593 239.397887 
L 272.693943 233.997746 
L 275.392969 224.997513 
L 278.091994 217.797326 
L 280.791019 208.797092 
L 283.490045 224.997513 
L 285.289395 218.697349 
L 287.088745 224.997513 
L 288.888096 235.797793 
L 290.687446 239.397887 
L 293.386471 235.797793 
L 296.085497 234.89777 
L 298.784522 212.397185 
L 302.383223 220.497396 
L 305.981923 214.197232 
L 308.680949 213.297209 
L 309.400689 214.197232 
L 312.099714 218.697349 
L 314.79874 215.097256 
L 316.59809 217.797326 
L 318.39744 205.196998 
L 320.196791 206.997045 
L 321.996141 207.897068 
L 323.795491 203.396952 
L 325.594842 197.996811 
L 328.293867 193.496694 
L 330.093217 197.996811 
L 331.892568 208.797092 
L 333.691918 199.796858 
L 335.491268 200.696881 
L 337.290618 187.196531 
L 338.190294 179.09632 
L 339.989644 186.296507 
L 342.688669 188.996578 
L 345.387695 194.396718 
L 348.08672 188.996578 
L 349.88607 190.796624 
L 352.585096 184.496461 
L 354.384446 184.496461 
L 356.183796 179.996344 
L 358.882822 175.496227 
L 360.682172 177.296274 
L 362.481522 185.396484 
L 364.280873 190.796624 
L 366.080223 189.896601 
L 367.879573 195.296741 
L 369.678924 191.696648 
L 371.478274 180.896367 
L 373.277624 173.69618 
L 375.076974 170.096087 
L 376.876325 181.796391 
L 378.675675 180.896367 
L 380.475025 178.196297 
L 384.073726 175.496227 
L 385.873076 170.096087 
L 387.672426 165.59597 
L 389.471777 171.896133 
L 391.271127 170.096087 
L 393.070477 159.295806 
L 394.869828 154.795689 
L 396.669178 152.995642 
L 398.468528 142.195362 
L 400.267878 137.695245 
L 402.067229 142.195362 
L 404.766254 140.395315 
L 406.565604 143.995409 
L 408.364955 156.595736 
L 410.164305 145.795455 
L 411.963655 139.495292 
L 413.763006 148.495526 
L 415.562356 150.295572 
L 419.161056 143.095385 
L 422.759757 132.295105 
L 424.559107 133.195128 
L 426.358458 147.595502 
L 428.157808 147.595502 
L 429.417353 140.395315 
L 430.496963 131.395081 
L 432.296313 128.695011 
L 434.455534 129.595035 
L 436.254884 132.295105 
L 438.054234 128.695011 
L 440.75326 136.795222 
L 444.35196 122.394848 
L 446.151311 125.994941 
L 448.490466 140.395315 
L 450.649686 131.395081 
L 452.449037 123.294871 
L 454.248387 121.494824 
L 456.047737 125.994941 
L 457.847088 120.594801 
L 459.646438 119.694778 
L 461.805658 118.794754 
L 463.245138 127.794988 
L 464.684619 134.095152 
L 466.843839 130.495058 
L 468.643189 129.595035 
L 470.44254 116.994707 
L 471.88202 118.794754 
L 473.141565 124.194894 
L 474.940915 131.395081 
L 476.740266 132.295105 
L 477.639941 125.094918 
L 479.439291 122.394848 
L 480.878771 122.394848 
L 482.678121 119.694778 
L 484.477472 123.294871 
L 486.636692 124.194894 
L 488.795912 125.994941 
L 490.235393 127.794988 
L 492.034743 142.195362 
L 493.834093 140.395315 
L 495.273573 134.995175 
L 496.533119 133.195128 
L 498.872274 133.195128 
L 501.031494 131.395081 
L 503.190715 134.995175 
L 504.990065 137.695245 
L 507.32922 137.695245 
L 509.128571 131.395081 
L 510.388116 130.495058 
L 511.827596 136.795222 
L 513.626946 139.495292 
L 515.066427 144.895432 
L 515.786167 151.195596 
L 517.225647 143.995409 
L 518.665127 137.695245 
L 520.824347 140.395315 
L 522.983568 143.995409 
L 525.322723 144.895432 
L 527.122073 147.595502 
L 529.281294 150.295572 
L 531.080644 154.795689 
L 532.520124 147.595502 
L 533.77967 144.895432 
L 535.57902 146.695479 
L 537.37837 149.395549 
L 539.17772 156.595736 
L 540.977071 162.8959 
L 542.776421 159.295806 
L 544.575771 151.195596 
L 546.015251 150.295572 
L 547.454732 153.895666 
L 549.254082 155.695713 
L 551.053432 153.895666 
L 552.852783 159.295806 
L 554.652133 149.395549 
L 556.451483 145.795455 
L 557.890963 144.895432 
L 559.150509 151.195596 
L 560.410054 162.8959 
L 562.209404 168.29604 
L 564.008754 172.796157 
L 565.2683 179.996344 
L 566.887715 178.196297 
L 568.687065 179.996344 
L 569.94661 167.396017 
L 570.846285 162.8959 
L 571.745961 172.796157 
L 573.005506 181.796391 
L 574.804856 179.09632 
L 576.604206 178.196297 
L 578.763427 179.09632 
L 580.562777 179.996344 
L 582.362127 179.996344 
L 584.161478 179.09632 
L 585.960828 179.996344 
L 587.760178 179.996344 
L 589.559528 182.696414 
L 591.358879 187.196531 
L 592.798359 188.096554 
L 594.597709 179.996344 
L 596.397059 175.496227 
L 597.83654 181.796391 
L 598.91615 189.896601 
L 600.7155 190.796624 
L 602.15498 187.196531 
L 603.954331 180.896367 
L 605.753681 178.196297 
L 607.193161 183.596437 
L 608.992511 189.896601 
L 611.151732 192.596671 
L 612.951082 197.096788 
L 614.750432 198.896835 
L 616.549783 201.596905 
L 618.349133 198.896835 
L 620.688288 202.496928 
L 621.947833 208.797092 
L 624.286989 208.797092 
L 626.986014 209.697115 
L 629.68504 208.797092 
L 631.48439 214.197232 
L 633.28374 216.897302 
L 635.083091 217.797326 
L 636.882441 212.397185 
L 637.782116 208.797092 
L 639.581466 212.397185 
L 641.380817 214.197232 
L 643.180167 213.297209 
L 644.079842 215.997279 
L 644.979517 224.997513 
L 647.894874 235.334317 
L 650.169653 233.058658 
L 653.202692 233.058658 
L 655.477471 236.09287 
L 656.993991 229.265892 
L 658.51051 223.956019 
L 660.027029 226.231679 
L 661.543549 238.36853 
L 663.060068 243.678402 
L 665.334847 243.678402 
L 667.609626 244.436956 
L 669.581102 248.988275 
L 671.097621 254.298147 
L 672.917444 249.746828 
L 674.737268 245.954062 
L 676.708743 244.436956 
L 678.983522 242.161296 
L 683.53308 260.366573 
L 685.352904 268.710658 
L 686.566119 265.676445 
L 688.082639 255.815254 
L 689.599158 252.022488 
L 691.418981 251.263934 
L 692.935501 255.056701 
L 696.423495 264.159339 
L 698.698274 268.710658 
L 700.518098 266.434999 
L 702.489573 263.400786 
L 704.006092 262.642233 
L 707.039131 268.710658 
L 709.31391 268.710658 
L 710.83043 270.986318 
L 712.650253 270.227765 
L 714.166772 273.261977 
L 718.109723 282.364616 
L 719.47459 276.29619 
L 720.687806 267.952105 
L 724.479104 267.952105 
L 725.995624 268.710658 
L 727.815447 258.090913 
L 729.028663 255.815254 
L 732.819961 258.849467 
L 735.853 252.781041 
L 737.369519 258.090913 
L 738.886039 267.193552 
L 740.402558 270.986318 
L 742.374034 273.261977 
L 743.890553 275.537637 
L 745.407072 271.744871 
L 747.226896 266.434999 
L 749.046719 262.642233 
L 750.563238 261.883679 
L 752.534714 263.400786 
L 754.051233 254.298147 
L 755.264449 258.090913 
L 756.780968 264.159339 
L 758.600791 267.193552 
L 760.117311 265.676445 
L 761.63383 261.125126 
L 762.39209 258.090913 
L 763.605305 271.744871 
L 765.425129 271.744871 
L 767.244952 272.503424 
L 769.216427 274.020531 
L 770.277991 276.29619 
L 771.491206 268.710658 
L 773.007726 262.642233 
L 774.827549 258.090913 
L 774.827549 258.090913 
" clip-path="url(#p9fedf73bd1)" style="fill: none; stroke-dasharray: 3.7,1.6; stroke-dashoffset: 0; stroke: #add8e6"/>
   </g>
   <g id="line2d_42">
    <path d="M 56.52 242.99798 
L 58.492088 242.99798 
L 60.464176 241.557943 
L 62.436264 242.097957 
L 64.408352 243.898004 
L 66.38044 246.598074 
L 68.352527 248.75813 
L 70.324615 245.69805 
L 72.296703 241.197933 
L 74.268791 242.99798 
L 76.240879 244.438018 
L 78.212967 245.158036 
L 80.185055 247.498097 
L 82.157143 246.598074 
L 84.129231 255.958317 
L 86.101319 258.118373 
L 88.073407 251.998214 
L 90.045495 253.438251 
L 92.017582 251.098191 
L 93.98967 253.798261 
L 95.961758 249.298144 
L 99.905934 242.097957 
L 103.85011 249.298144 
L 105.822198 247.498097 
L 107.794286 250.198167 
L 109.766374 254.15827 
L 111.738462 251.998214 
L 115.682637 246.598074 
L 117.654725 245.158036 
L 119.626813 242.097957 
L 121.598901 241.197933 
L 123.570989 246.238064 
L 125.543077 235.797793 
L 127.515165 241.197933 
L 129.487253 245.69805 
L 131.459341 244.438018 
L 133.431429 240.29791 
L 135.403516 234.89777 
L 137.375604 231.297676 
L 139.347692 229.49763 
L 141.31978 232.1977 
L 143.291868 235.797793 
L 145.263956 231.297676 
L 147.236044 236.697817 
L 149.208132 241.197933 
L 153.152308 239.397887 
L 157.096484 235.797793 
L 159.068571 241.197933 
L 161.040659 231.297676 
L 163.012747 235.797793 
L 164.984835 238.497863 
L 166.956923 233.997746 
L 168.929011 230.397653 
L 170.901099 232.1977 
L 172.873187 232.1977 
L 174.845275 231.297676 
L 176.817363 237.59784 
L 178.789451 239.397887 
L 180.761538 236.697817 
L 182.733626 238.497863 
L 184.705714 233.097723 
L 186.677802 228.597606 
L 188.64989 219.597372 
L 190.621978 218.697349 
L 192.594066 224.997513 
L 194.566154 223.197466 
L 196.538242 220.497396 
L 198.51033 229.49763 
L 200.482418 215.097256 
L 202.454505 217.797326 
L 204.426593 220.137386 
L 206.398681 220.6774 
L 208.370769 210.597139 
L 210.342857 219.597372 
L 212.314945 226.797559 
L 216.259121 215.997279 
L 218.231209 224.997513 
L 220.203297 221.397419 
L 222.175385 220.497396 
L 224.147473 216.897302 
L 226.11956 215.997279 
L 228.091648 217.797326 
L 230.063736 212.397185 
L 232.035824 203.396952 
L 234.007912 212.397185 
L 235.98 213.297209 
L 237.952088 210.597139 
L 239.924176 209.697115 
L 243.655914 194.2581 
L 246.031293 195.8423 
L 247.61488 197.4265 
L 249.198467 203.763298 
L 251.573847 205.347497 
L 253.949226 210.100096 
L 255.532813 212.476395 
L 257.1164 202.179098 
L 259.49178 195.8423 
L 261.86716 199.010699 
L 264.242539 194.2581 
L 265.316607 194.036708 
L 267.115957 198.356821 
L 268.915308 197.996811 
L 270.714658 198.896835 
L 273.413683 205.196998 
L 277.012384 190.796624 
L 280.611084 183.236428 
L 283.31011 191.696648 
L 285.10946 191.696648 
L 286.90881 184.496461 
L 288.708161 188.996578 
L 291.407186 202.496928 
L 293.206536 194.396718 
L 295.005887 205.196998 
L 296.805237 200.696881 
L 299.504262 185.396484 
L 303.102963 174.596204 
L 306.701664 179.09632 
L 308.501014 168.29604 
L 310.300364 166.495993 
L 312.99939 175.496227 
L 314.79874 178.196297 
L 317.497765 183.596437 
L 319.297116 183.596437 
L 321.096466 172.796157 
L 323.795491 169.556073 
L 325.594842 171.896133 
L 327.394192 170.096087 
L 329.193542 172.796157 
L 330.992892 170.096087 
L 332.792243 166.495993 
L 334.591593 174.596204 
L 336.390943 175.496227 
L 338.190294 168.29604 
L 339.989644 168.29604 
L 343.588344 153.895666 
L 345.387695 142.195362 
L 347.187045 141.295339 
L 348.986395 144.895432 
L 350.785746 152.995642 
L 352.585096 142.195362 
L 355.284121 143.995409 
L 357.983147 150.295572 
L 359.782497 145.795455 
L 361.581847 152.995642 
L 366.080223 137.695245 
L 367.879573 143.095385 
L 369.678924 146.695479 
L 372.377949 137.695245 
L 374.177299 126.894965 
L 375.97665 135.895198 
L 377.776 135.895198 
L 379.57535 129.595035 
L 381.3747 127.794988 
L 383.174051 131.395081 
L 385.873076 137.695245 
L 387.672426 133.195128 
L 389.471777 123.294871 
L 391.271127 134.095152 
L 393.070477 124.194894 
L 394.869828 116.994707 
L 397.568853 110.694544 
L 399.368203 120.594801 
L 401.167554 116.994707 
L 402.966904 115.194661 
L 404.766254 125.994941 
L 406.565604 123.294871 
L 409.26463 119.694778 
L 411.06398 110.694544 
L 414.662681 112.494591 
L 416.462031 116.094684 
L 418.261381 109.79452 
L 421.860082 107.994474 
L 423.299562 107.09445 
L 424.559107 111.594567 
L 426.358458 116.994707 
L 428.157808 109.79452 
L 429.957158 107.994474 
L 431.756508 108.894497 
L 433.555859 107.09445 
L 435.355209 104.39438 
L 437.154559 110.694544 
L 438.95391 117.894731 
L 440.75326 111.594567 
L 442.55261 109.79452 
L 444.35196 100.794287 
L 447.050986 98.99424 
L 448.850336 102.594333 
L 450.649686 104.39438 
L 452.449037 111.594567 
L 454.248387 107.09445 
L 456.047737 105.294403 
L 457.847088 104.39438 
L 460.546113 104.39438 
L 462.345463 101.69431 
L 464.144814 102.594333 
L 465.944164 101.69431 
L 467.743514 99.894263 
L 469.542864 103.494357 
L 471.342215 99.894263 
L 473.141565 103.494357 
L 474.40111 107.09445 
L 475.84059 102.594333 
L 477.639941 101.69431 
L 479.439291 99.894263 
L 480.878771 101.69431 
L 482.678121 100.794287 
L 483.937667 98.094216 
L 485.737017 98.99424 
L 488.076172 100.794287 
L 489.875523 109.79452 
L 491.674873 103.494357 
L 493.474223 110.694544 
L 495.633443 107.994474 
L 497.792664 115.194661 
L 499.592014 111.594567 
L 501.931169 110.694544 
L 503.73052 114.294637 
L 505.52987 110.694544 
L 508.228895 112.494591 
L 511.827596 112.494591 
L 513.626946 109.79452 
L 515.426297 114.294637 
L 517.225647 112.494591 
L 519.024997 112.494591 
L 520.824347 113.394614 
L 522.623698 108.894497 
L 524.423048 115.194661 
L 526.222398 107.994474 
L 527.661879 107.09445 
L 528.921424 110.694544 
L 530.720774 116.994707 
L 532.520124 118.794754 
L 534.319475 118.794754 
L 536.118825 125.994941 
L 537.0185 130.495058 
L 538.81785 125.994941 
L 540.617201 124.194894 
L 542.416551 125.994941 
L 544.215901 132.295105 
L 546.015251 128.695011 
L 547.814602 130.495058 
L 551.413302 137.695245 
L 553.212653 137.695245 
L 555.012003 134.995175 
L 556.811353 133.195128 
L 558.610703 130.495058 
L 562.209404 143.995409 
L 564.008754 145.795455 
L 565.808105 146.695479 
L 567.607455 151.195596 
L 569.046935 155.695713 
L 570.846285 151.195596 
L 572.645636 147.595502 
L 574.444986 152.995642 
L 576.604206 158.395783 
L 578.403557 157.495759 
L 580.202907 159.295806 
L 582.362127 161.095853 
L 583.801607 160.19583 
L 585.960828 159.295806 
L 587.760178 164.695946 
L 589.559528 166.495993 
L 591.358879 165.59597 
L 593.158229 161.995876 
L 594.957579 156.595736 
L 596.756929 156.595736 
L 598.55628 162.8959 
L 600.35563 159.295806 
L 602.15498 161.095853 
L 603.954331 160.19583 
L 605.753681 161.095853 
L 608.092836 161.095853 
L 609.892187 165.59597 
L 611.691537 173.69618 
L 613.490887 169.196063 
L 615.290237 178.196297 
L 617.089588 173.69618 
L 618.888938 175.496227 
L 620.688288 175.496227 
L 621.947833 173.69618 
L 623.387314 177.296274 
L 626.986014 182.696414 
L 628.785365 184.496461 
L 630.224845 184.496461 
L 632.024195 188.996578 
L 633.823545 185.396484 
L 635.622896 188.096554 
L 637.782116 191.696648 
L 639.581466 183.596437 
L 641.380817 180.896367 
L 642.820297 181.796391 
L 644.079842 189.896601 
L 645.879192 188.996578 
L 647.678543 185.396484 
L 648.779745 186.332508 
L 649.585854 193.820703 
L 651.31323 193.244688 
L 653.040606 192.092658 
L 655.919567 194.972733 
L 657.646943 194.972733 
L 658.798527 200.156867 
L 659.950111 204.764987 
L 661.101696 208.797092 
L 662.25328 212.253182 
L 663.404864 215.133256 
L 665.13224 215.133256 
L 666.859617 217.437316 
L 668.586993 220.893406 
L 670.314369 225.501526 
L 671.465953 227.229571 
L 673.19333 222.621451 
L 674.920706 217.437316 
L 676.648082 213.405212 
L 677.799666 213.981227 
L 679.527043 216.861301 
L 681.254419 218.013331 
L 682.406003 223.773481 
L 683.557587 228.957616 
L 684.939488 232.98972 
L 686.436548 231.83769 
L 689.8913 223.773481 
L 691.042884 222.621451 
L 697.606914 233.565735 
L 699.103974 238.74987 
L 700.83135 238.74987 
L 701.982934 234.14175 
L 702.904201 232.413705 
L 704.055786 235.869795 
L 705.437687 239.325885 
L 707.165063 240.477915 
L 708.892439 242.781975 
L 710.619816 239.325885 
L 711.7714 242.781975 
L 712.922984 245.662049 
L 714.65036 244.510019 
L 716.377736 246.238064 
L 718.105113 249.118139 
L 719.832489 243.35799 
L 721.559865 238.74987 
L 722.941766 237.021825 
L 724.438826 238.173855 
L 726.166202 239.9019 
L 727.317786 236.44581 
L 728.46937 230.68566 
L 729.390638 234.14175 
L 730.542222 241.05393 
L 731.924123 247.966109 
L 733.651499 247.390094 
L 736.53046 238.74987 
L 738.257836 237.59784 
L 739.985212 240.477915 
L 741.712588 245.086034 
L 743.439965 250.846184 
L 744.591549 252.574229 
L 745.97345 247.390094 
L 749.197886 241.05393 
L 750.34947 239.325885 
L 751.501054 243.35799 
L 752.422321 249.118139 
L 753.22843 245.662049 
L 754.380014 241.629945 
L 756.107391 242.20596 
L 757.834767 240.477915 
L 758.986351 241.05393 
L 760.713727 243.35799 
L 763.016896 245.662049 
L 764.744272 247.966109 
L 765.895856 250.846184 
L 767.623233 247.966109 
L 769.350609 245.662049 
L 770.502193 245.086034 
L 771.653777 246.814079 
L 772.805361 243.934005 
L 774.532738 240.477915 
L 774.532738 240.477915 
" clip-path="url(#p9fedf73bd1)" style="fill: none; stroke: #000000; stroke-width: 2.2; stroke-linecap: square"/>
   </g>
   <g id="line2d_43">
    <path d="M 56.52 219.597372 
L 58.492088 222.477447 
L 60.464176 224.637503 
L 62.436264 234.717765 
L 64.408352 260.638438 
L 66.38044 287.27913 
L 68.352527 286.559112 
L 70.324615 263.518513 
L 72.296703 262.798495 
L 74.268791 262.078476 
L 76.240879 253.438251 
L 78.212967 228.597606 
L 80.185055 233.097723 
L 82.157143 239.397887 
L 84.129231 250.198167 
L 86.101319 251.998214 
L 88.073407 273.598775 
L 90.045495 274.498798 
L 92.017582 266.398588 
L 93.98967 267.298611 
L 95.961758 262.798495 
L 97.933846 260.098424 
L 99.905934 268.198635 
L 101.878022 278.998915 
L 103.85011 251.998214 
L 105.822198 233.997746 
L 107.794286 243.898004 
L 109.766374 242.99798 
L 111.738462 229.49763 
L 113.710549 246.598074 
L 115.682637 250.198167 
L 117.654725 252.898237 
L 119.626813 246.598074 
L 121.598901 245.69805 
L 123.570989 237.59784 
L 125.543077 224.997513 
L 127.515165 250.198167 
L 129.487253 260.998448 
L 131.459341 248.39812 
L 133.431429 224.097489 
L 135.403516 215.097256 
L 137.375604 219.597372 
L 139.347692 230.397653 
L 141.31978 241.197933 
L 143.291868 250.198167 
L 145.263956 256.498331 
L 147.236044 242.99798 
L 149.208132 217.797326 
L 151.18022 239.397887 
L 153.152308 239.397887 
L 155.124396 233.997746 
L 157.096484 197.996811 
L 159.068571 188.996578 
L 161.040659 184.136451 
L 163.012747 195.296741 
L 164.984835 189.536592 
L 166.956923 189.896601 
L 168.929011 196.196765 
L 170.901099 210.597139 
L 172.873187 223.197466 
L 174.845275 232.1977 
L 176.817363 213.297209 
L 178.789451 239.397887 
L 180.761538 255.598307 
L 182.733626 257.398354 
L 184.705714 246.598074 
L 186.677802 221.397419 
L 188.64989 242.99798 
L 190.621978 268.198635 
L 192.594066 221.397419 
L 194.566154 210.237129 
L 196.538242 208.077073 
L 198.51033 226.077541 
L 200.482418 223.377471 
L 202.454505 215.997279 
L 204.426593 198.71683 
L 206.398681 205.917017 
L 208.370769 199.796858 
L 210.342857 214.197232 
L 212.314945 229.49763 
L 214.287033 215.997279 
L 216.259121 208.797092 
L 218.231209 207.897068 
L 220.203297 206.997045 
L 222.175385 216.717298 
L 224.147473 229.49763 
L 226.11956 233.997746 
L 228.091648 242.99798 
L 230.063736 224.997513 
L 232.035824 203.396952 
L 234.007912 214.197232 
L 235.98 214.197232 
L 237.952088 210.237129 
L 239.924176 181.436381 
L 241.896264 171.788131 
L 243.868352 163.435914 
L 245.84044 178.556306 
L 247.812527 168.476045 
L 249.784615 158.395783 
L 251.756703 148.603528 
L 253.728791 188.636568 
L 255.700879 208.797092 
L 257.672967 225.357522 
L 259.645055 190.796624 
" clip-path="url(#p9fedf73bd1)" style="fill: none; stroke: #000000; stroke-width: 0.9; stroke-linecap: square"/>
   </g>
   <g id="patch_9">
    <path d="M 56.52 320.76 
L 56.52 43.56 
" style="fill: none; stroke: #000000; stroke-width: 0.8; stroke-linejoin: miter; stroke-linecap: square"/>
   </g>
   <g id="patch_10">
    <path d="M 774.36 320.76 
L 774.36 43.56 
" style="fill: none; stroke: #000000; stroke-width: 0.8; stroke-linejoin: miter; stroke-linecap: square"/>
   </g>
   <g id="patch_11">
    <path d="M 56.52 320.76 
L 774.36 320.76 
" style="fill: none; stroke: #000000; stroke-width: 0.8; stroke-linejoin: miter; stroke-linecap: square"/>
   </g>
   <g id="patch_12">
    <path d="M 56.52 43.56 
L 774.36 43.56 
" style="fill: none; stroke: #000000; stroke-width: 0.8; stroke-linejoin: miter; stroke-linecap: square"/>
   </g>
   <g id="text_21">
    <text style="font-size: 16px; font-family: 'DejaVu Sans', 'Liberation Sans', sans-serif; text-anchor: start; fill: #2e6ca4" x="64.512" y="60.935" transform="translate(64.512 60.215) scale(0.99 1.0) translate(-64.512 -60.935)">WWW.EMBALSES.NET</text>
   </g>
   <g id="legend_1">
    <g id="patch_13">
     <path d="M 135.271875 364.21767 
L 695.608125 364.21767 
Q 698.008125 364.21767 698.008125 361.81767 
L 698.008125 345.40392 
Q 698.008125 343.00392 695.608125 343.00392 
L 135.271875 343.00392 
Q 132.871875 343.00392 132.871875 345.40392 
L 132.871875 361.81767 
Q 132.871875 364.21767 135.271875 364.21767 
z
" style="fill: #ffffff; opacity: 0.8; stroke: #cccccc; stroke-linejoin: miter"/>
    </g>
    <g id="line2d_44">
     <path d="M 137.671875 354.122045 
L 149.671875 354.122045 
L 161.671875 354.122045 
" style="fill: none; stroke-dasharray: 1.85,0.8; stroke-dashoffset: 0; stroke: #ff0000; stroke-width: 0.65"/>
    </g>
    <g id="text_22">
     <text style="font-size: 12px; font-family: 'DejaVu Sans', 'Liberation Sans', sans-serif; text-anchor: start" x="171.271875" y="356.922045" transform="translate(171.992 357.858) scale(1.0 1.077) translate(-171.272 -356.922)">Percentil 95</text>
    </g>
    <g id="line2d_45">
     <path d="M 266.161875 354.122045 
L 278.161875 354.122045 
L 290.161875 354.122045 
" style="fill: none; stroke-dasharray: 3.7,1.6; stroke-dashoffset: 0; stroke: #add8e6"/>
    </g>
    <g id="text_23">
     <text style="font-size: 12px; font-family: 'DejaVu Sans', 'Liberation Sans', sans-serif; text-anchor: start" x="299.761875" y="356.922045" transform="translate(300.482 357.858) scale(0.985 1.077) translate(-299.762 -356.922)">Percentil 5</text>
    </g>
    <g id="line2d_46">
     <path d="M 387.016875 354.122045 
L 399.016875 354.122045 
L 411.016875 354.122045 
" style="fill: none; stroke: #000000; stroke-width: 2.2; stroke-linecap: square"/>
    </g>
    <g id="text_24">
     <text style="font-size: 12px; font-family: 'DejaVu Sans', 'Liberation Sans', sans-serif; text-anchor: start" x="420.616875" y="356.922045" transform="translate(420.617 357.858) scale(0.993 1.077) translate(-420.617 -356.922)">Temperatura Mediana</text>
    </g>
    <g id="line2d_47">
     <path d="M 575.679375 354.122045 
L 587.679375 354.122045 
L 599.679375 354.122045 
" style="fill: none; stroke: #000000; stroke-width: 0.9; stroke-linecap: square"/>
    </g>
    <g id="text_25">
     <text style="font-size: 12px; font-family: 'DejaVu Sans', 'Liberation Sans', sans-serif; text-anchor: start" x="609.279375" y="356.922045" transform="translate(609.279 357.858) scale(0.985 1.077) translate(-609.279 -356.922)">T. Media 2026</text>
    </g>
   </g>
  </g>
  <g id="text_26">
   <text style="font-size: 18px; font-family: 'DejaVu Sans', 'Liberation Sans', sans-serif; text-anchor: middle; fill: #2e6ca4" x="415.152" y="22.822875" transform="rotate(-0 415.152 22.822875)">Temperatura Media diaria - Santa Elena</text>
  </g>
  <g id="text_27">
   <text style="font-size: 12px; font-family: 'DejaVu Sans', 'Liberation Sans', sans-serif; text-anchor: start" x="59.76" y="39.583125" transform="translate(59.760 39.583) scale(1.0 1.08) translate(-59.760 -39.583)">Última temp: 2026-04-14</text>
  </g>
  <g id="text_28">
   <text style="font-size: 12px; font-family: 'DejaVu Sans', 'Liberation Sans', sans-serif; text-anchor: start" x="35.28" y="39.16725" transform="translate(34.920 39.743) scale(1.0 1.08) translate(-35.280 -39.167)">°C</text>
  </g>
 </g>
 <defs>
  <clipPath id="p9fedf73bd1">
   <rect x="56.52" y="43.56" width="717.84" height="277.2"/>
  </clipPath>
 </defs>
</svg>

</body></html>
